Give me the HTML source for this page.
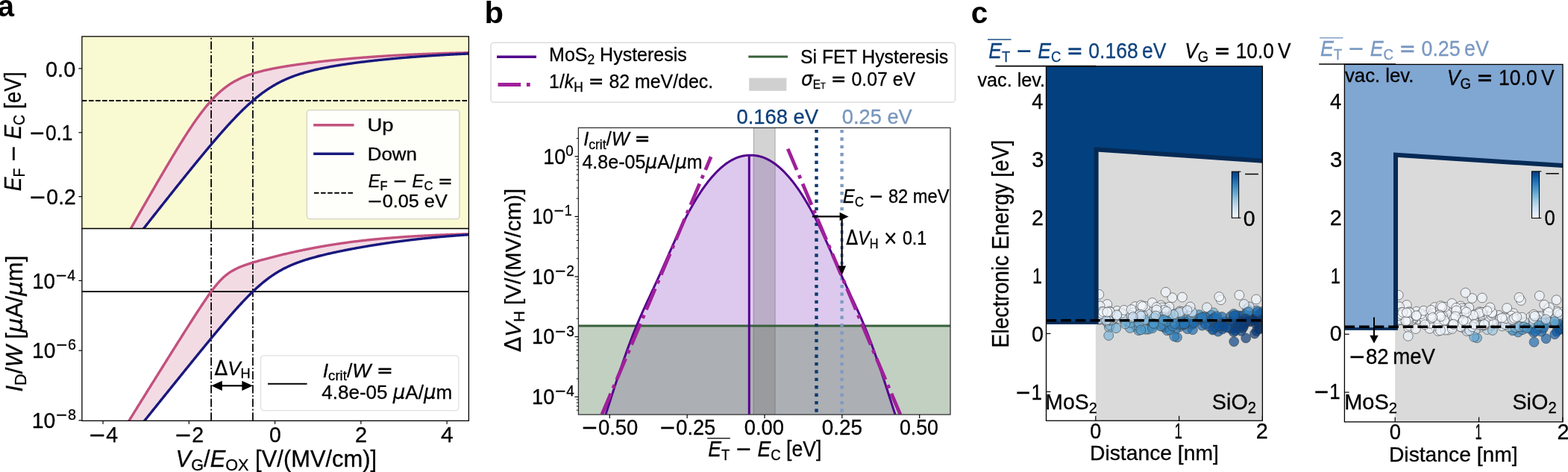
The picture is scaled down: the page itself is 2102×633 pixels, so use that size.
<!DOCTYPE html>
<html><head><meta charset="utf-8"><title>Figure</title>
<style>html,body{margin:0;padding:0;background:#fff;} svg{display:block;} text{font-family:'Liberation Sans', 'DejaVu Sans', Arial, sans-serif;}</style>
</head><body>
<svg width="2102" height="633" viewBox="0 0 2102 633">
<rect x="0" y="0" width="2102" height="633" fill="#fff"/>
<rect x="109.90" y="48.90" width="518.50" height="257.60" fill="#fafad2" stroke="none" stroke-width="0" rx="0"/>
<clipPath id="ca1"><rect x="109.9" y="48.9" width="518.5" height="257.6"/></clipPath>
<clipPath id="ca2"><rect x="109.9" y="306.5" width="518.5" height="257.79999999999995"/></clipPath>
<g clip-path="url(#ca1)">
<polygon points="150.00,351.14 150.97,349.43 151.93,347.73 152.90,346.03 153.86,344.33 154.83,342.62 155.80,340.92 156.76,339.22 157.73,337.52 158.69,335.82 159.66,334.12 160.63,332.42 161.59,330.72 162.56,329.02 163.52,327.32 164.49,325.62 165.45,323.92 166.42,322.22 167.39,320.53 168.35,318.83 169.32,317.13 170.28,315.43 171.25,313.74 172.22,312.04 173.18,310.34 174.15,308.65 175.11,306.95 176.08,305.26 177.05,303.56 178.01,301.87 178.98,300.18 179.94,298.48 180.91,296.79 181.88,295.10 182.84,293.41 183.81,291.72 184.77,290.03 185.74,288.34 186.71,286.65 187.67,284.96 188.64,283.27 189.60,281.58 190.57,279.90 191.54,278.21 192.50,276.53 193.47,274.84 194.43,273.16 195.40,271.48 196.36,269.80 197.33,268.12 198.30,266.44 199.26,264.76 200.23,263.08 201.19,261.41 202.16,259.73 203.13,258.06 204.09,256.38 205.06,254.71 206.02,253.04 206.99,251.37 207.96,249.71 208.92,248.04 209.89,246.38 210.85,244.71 211.82,243.05 212.79,241.39 213.75,239.74 214.72,238.08 215.68,236.43 216.65,234.78 217.62,233.13 218.58,231.48 219.55,229.83 220.51,228.19 221.48,226.55 222.44,224.91 223.41,223.28 224.38,221.65 225.34,220.02 226.31,218.39 227.27,216.77 228.24,215.15 229.21,213.53 230.17,211.92 231.14,210.31 232.10,208.71 233.07,207.11 234.04,205.51 235.00,203.92 235.97,202.33 236.93,200.74 237.90,199.16 238.87,197.59 239.83,196.02 240.80,194.46 241.76,192.90 242.73,191.35 243.70,189.80 244.66,188.26 245.63,186.73 246.59,185.20 247.56,183.68 248.53,182.17 249.49,180.66 250.46,179.17 251.42,177.68 252.39,176.19 253.35,174.72 254.32,173.26 255.29,171.80 256.25,170.35 257.22,168.91 258.18,167.49 259.15,166.07 260.12,164.66 261.08,163.27 262.05,161.88 263.01,160.51 263.98,159.14 264.95,157.79 265.91,156.45 266.88,155.13 267.84,153.81 268.81,152.51 269.78,151.23 270.74,149.95 271.71,148.69 272.67,147.45 273.64,146.22 274.61,145.00 275.57,143.80 276.54,142.61 277.50,141.44 278.47,140.29 279.43,139.15 280.40,138.02 281.37,136.92 282.33,135.83 283.30,134.75 284.26,133.69 285.23,132.65 286.20,131.63 287.16,130.62 288.13,129.63 289.09,128.66 290.06,127.71 291.03,126.77 291.99,125.85 292.96,124.94 293.92,124.06 294.89,123.19 295.86,122.34 296.82,121.50 297.79,120.69 298.75,119.89 299.72,119.10 300.69,118.34 301.65,117.58 302.62,116.85 303.58,116.13 304.55,115.43 305.52,114.74 306.48,114.07 307.45,113.42 308.41,112.78 309.38,112.15 310.34,111.54 311.31,110.94 312.28,110.36 313.24,109.79 314.21,109.23 315.17,108.69 316.14,108.16 317.11,107.64 318.07,107.14 319.04,106.65 320.00,106.16 320.97,105.70 321.94,105.24 322.90,104.79 323.87,104.35 324.83,103.92 325.80,103.51 326.77,103.10 327.73,102.70 328.70,102.31 329.66,101.93 330.63,101.56 331.60,101.20 332.56,100.85 333.53,100.50 334.49,100.16 335.46,99.83 336.42,99.50 337.39,99.19 338.36,98.87 339.32,98.57 340.29,98.27 341.25,97.98 342.22,97.69 343.19,97.41 344.15,97.14 345.12,96.86 346.08,96.60 347.05,96.34 348.02,96.08 348.98,95.83 349.95,95.59 350.91,95.34 351.88,95.10 352.85,94.87 353.81,94.64 354.78,94.41 355.74,94.19 356.71,93.97 357.68,93.75 358.64,93.54 359.61,93.33 360.57,93.12 361.54,92.92 362.51,92.72 363.47,92.52 364.44,92.32 365.40,92.13 366.37,91.94 367.33,91.75 368.30,91.57 369.27,91.38 370.23,91.20 371.20,91.02 372.16,90.84 373.13,90.67 374.10,90.49 375.06,90.32 376.03,90.15 376.99,89.98 377.96,89.82 378.93,89.65 379.89,89.49 380.86,89.33 381.82,89.17 382.79,89.01 383.76,88.85 384.72,88.70 385.69,88.54 386.65,88.39 387.62,88.24 388.59,88.09 389.55,87.94 390.52,87.79 391.48,87.65 392.45,87.50 393.41,87.36 394.38,87.21 395.35,87.07 396.31,86.93 397.28,86.79 398.24,86.65 399.21,86.51 400.18,86.38 401.14,86.24 402.11,86.11 403.07,85.97 404.04,85.84 405.01,85.71 405.97,85.58 406.94,85.45 407.90,85.32 408.87,85.19 409.84,85.06 410.80,84.93 411.77,84.81 412.73,84.68 413.70,84.56 414.67,84.43 415.63,84.31 416.60,84.19 417.56,84.07 418.53,83.95 419.49,83.83 420.46,83.71 421.43,83.59 422.39,83.48 423.36,83.36 424.32,83.24 425.29,83.13 426.26,83.01 427.22,82.90 428.19,82.79 429.15,82.68 430.12,82.56 431.09,82.45 432.05,82.34 433.02,82.23 433.98,82.13 434.95,82.02 435.92,81.91 436.88,81.80 437.85,81.70 438.81,81.59 439.78,81.49 440.75,81.38 441.71,81.28 442.68,81.18 443.64,81.08 444.61,80.98 445.58,80.87 446.54,80.77 447.51,80.68 448.47,80.58 449.44,80.48 450.40,80.38 451.37,80.28 452.34,80.19 453.30,80.09 454.27,80.00 455.23,79.90 456.20,79.81 457.17,79.72 458.13,79.62 459.10,79.53 460.06,79.44 461.03,79.35 462.00,79.26 462.96,79.17 463.93,79.08 464.89,78.99 465.86,78.90 466.83,78.82 467.79,78.73 468.76,78.64 469.72,78.56 470.69,78.47 471.66,78.39 472.62,78.31 473.59,78.22 474.55,78.14 475.52,78.06 476.48,77.98 477.45,77.90 478.42,77.82 479.38,77.74 480.35,77.66 481.31,77.58 482.28,77.50 483.25,77.42 484.21,77.35 485.18,77.27 486.14,77.19 487.11,77.12 488.08,77.04 489.04,76.97 490.01,76.90 490.97,76.82 491.94,76.75 492.91,76.68 493.87,76.61 494.84,76.54 495.80,76.47 496.77,76.40 497.74,76.33 498.70,76.26 499.67,76.19 500.63,76.12 501.60,76.05 502.57,75.99 503.53,75.92 504.50,75.85 505.46,75.79 506.43,75.72 507.39,75.66 508.36,75.59 509.33,75.53 510.29,75.47 511.26,75.41 512.22,75.34 513.19,75.28 514.16,75.22 515.12,75.16 516.09,75.10 517.05,75.04 518.02,74.98 518.99,74.92 519.95,74.86 520.92,74.81 521.88,74.75 522.85,74.69 523.82,74.64 524.78,74.58 525.75,74.52 526.71,74.47 527.68,74.41 528.65,74.36 529.61,74.31 530.58,74.25 531.54,74.20 532.51,74.15 533.47,74.10 534.44,74.04 535.41,73.99 536.37,73.94 537.34,73.89 538.30,73.84 539.27,73.79 540.24,73.74 541.20,73.69 542.17,73.65 543.13,73.60 544.10,73.55 545.07,73.50 546.03,73.46 547.00,73.41 547.96,73.36 548.93,73.32 549.90,73.27 550.86,73.23 551.83,73.18 552.79,73.14 553.76,73.10 554.73,73.05 555.69,73.01 556.66,72.97 557.62,72.93 558.59,72.88 559.56,72.84 560.52,72.80 561.49,72.76 562.45,72.72 563.42,72.68 564.38,72.64 565.35,72.60 566.32,72.56 567.28,72.52 568.25,72.49 569.21,72.45 570.18,72.41 571.15,72.37 572.11,72.34 573.08,72.30 574.04,72.26 575.01,72.23 575.98,72.19 576.94,72.16 577.91,72.12 578.87,72.09 579.84,72.05 580.81,72.02 581.77,71.98 582.74,71.95 583.70,71.92 584.67,71.88 585.64,71.85 586.60,71.82 587.57,71.79 588.53,71.75 589.50,71.72 590.46,71.69 591.43,71.66 592.40,71.63 593.36,71.60 594.33,71.57 595.29,71.54 596.26,71.51 597.23,71.48 598.19,71.45 599.16,71.42 600.12,71.40 601.09,71.37 602.06,71.34 603.02,71.31 603.99,71.28 604.95,71.26 605.92,71.23 606.89,71.20 607.85,71.18 608.82,71.15 609.78,71.13 610.75,71.10 611.72,71.07 612.68,71.05 613.65,71.02 614.61,71.00 615.58,70.98 616.55,70.95 617.51,70.93 618.48,70.90 619.44,70.88 620.41,70.86 621.37,70.83 622.34,70.81 623.31,70.79 624.27,70.77 625.24,70.74 626.20,70.72 627.17,70.70 628.14,70.68 629.10,70.66 630.07,70.63 631.03,70.61 632.00,70.59 632.00,71.81 631.03,71.85 630.07,71.89 629.10,71.94 628.14,71.98 627.17,72.02 626.20,72.07 625.24,72.11 624.27,72.15 623.31,72.20 622.34,72.24 621.37,72.29 620.41,72.33 619.44,72.38 618.48,72.42 617.51,72.47 616.55,72.52 615.58,72.56 614.61,72.61 613.65,72.66 612.68,72.71 611.72,72.76 610.75,72.81 609.78,72.85 608.82,72.90 607.85,72.95 606.89,73.00 605.92,73.06 604.95,73.11 603.99,73.16 603.02,73.21 602.06,73.26 601.09,73.31 600.12,73.37 599.16,73.42 598.19,73.47 597.23,73.53 596.26,73.58 595.29,73.64 594.33,73.69 593.36,73.75 592.40,73.81 591.43,73.86 590.46,73.92 589.50,73.98 588.53,74.03 587.57,74.09 586.60,74.15 585.64,74.21 584.67,74.27 583.70,74.33 582.74,74.39 581.77,74.45 580.81,74.51 579.84,74.57 578.87,74.64 577.91,74.70 576.94,74.76 575.98,74.82 575.01,74.89 574.04,74.95 573.08,75.02 572.11,75.08 571.15,75.15 570.18,75.21 569.21,75.28 568.25,75.35 567.28,75.42 566.32,75.48 565.35,75.55 564.38,75.62 563.42,75.69 562.45,75.76 561.49,75.83 560.52,75.90 559.56,75.97 558.59,76.04 557.62,76.12 556.66,76.19 555.69,76.26 554.73,76.34 553.76,76.41 552.79,76.49 551.83,76.56 550.86,76.64 549.90,76.71 548.93,76.79 547.96,76.87 547.00,76.95 546.03,77.02 545.07,77.10 544.10,77.18 543.13,77.26 542.17,77.34 541.20,77.42 540.24,77.51 539.27,77.59 538.30,77.67 537.34,77.75 536.37,77.84 535.41,77.92 534.44,78.01 533.47,78.09 532.51,78.18 531.54,78.26 530.58,78.35 529.61,78.44 528.65,78.53 527.68,78.62 526.71,78.71 525.75,78.80 524.78,78.89 523.82,78.98 522.85,79.07 521.88,79.16 520.92,79.26 519.95,79.35 518.99,79.45 518.02,79.54 517.05,79.64 516.09,79.73 515.12,79.83 514.16,79.93 513.19,80.03 512.22,80.12 511.26,80.22 510.29,80.32 509.33,80.42 508.36,80.53 507.39,80.63 506.43,80.73 505.46,80.84 504.50,80.94 503.53,81.04 502.57,81.15 501.60,81.26 500.63,81.36 499.67,81.47 498.70,81.58 497.74,81.69 496.77,81.80 495.80,81.91 494.84,82.02 493.87,82.13 492.91,82.25 491.94,82.36 490.97,82.48 490.01,82.59 489.04,82.71 488.08,82.83 487.11,82.94 486.14,83.06 485.18,83.18 484.21,83.30 483.25,83.43 482.28,83.55 481.31,83.67 480.35,83.80 479.38,83.92 478.42,84.05 477.45,84.17 476.48,84.30 475.52,84.43 474.55,84.56 473.59,84.69 472.62,84.82 471.66,84.96 470.69,85.09 469.72,85.23 468.76,85.36 467.79,85.50 466.83,85.64 465.86,85.78 464.89,85.92 463.93,86.06 462.96,86.20 462.00,86.35 461.03,86.49 460.06,86.64 459.10,86.79 458.13,86.94 457.17,87.09 456.20,87.24 455.23,87.39 454.27,87.55 453.30,87.70 452.34,87.86 451.37,88.02 450.40,88.18 449.44,88.34 448.47,88.51 447.51,88.67 446.54,88.84 445.58,89.01 444.61,89.18 443.64,89.35 442.68,89.53 441.71,89.70 440.75,89.88 439.78,90.06 438.81,90.24 437.85,90.43 436.88,90.61 435.92,90.80 434.95,90.99 433.98,91.19 433.02,91.38 432.05,91.58 431.09,91.78 430.12,91.98 429.15,92.18 428.19,92.39 427.22,92.60 426.26,92.81 425.29,93.03 424.32,93.25 423.36,93.47 422.39,93.69 421.43,93.92 420.46,94.15 419.49,94.38 418.53,94.62 417.56,94.86 416.60,95.10 415.63,95.35 414.67,95.60 413.70,95.86 412.73,96.11 411.77,96.38 410.80,96.64 409.84,96.91 408.87,97.19 407.90,97.46 406.94,97.75 405.97,98.03 405.01,98.33 404.04,98.62 403.07,98.92 402.11,99.23 401.14,99.54 400.18,99.86 399.21,100.18 398.24,100.51 397.28,100.84 396.31,101.18 395.35,101.52 394.38,101.87 393.41,102.23 392.45,102.59 391.48,102.96 390.52,103.33 389.55,103.71 388.59,104.10 387.62,104.49 386.65,104.89 385.69,105.30 384.72,105.71 383.76,106.13 382.79,106.56 381.82,107.00 380.86,107.44 379.89,107.89 378.93,108.35 377.96,108.82 376.99,109.29 376.03,109.77 375.06,110.26 374.10,110.76 373.13,111.27 372.16,111.78 371.20,112.31 370.23,112.84 369.27,113.38 368.30,113.93 367.33,114.49 366.37,115.06 365.40,115.64 364.44,116.22 363.47,116.82 362.51,117.42 361.54,118.03 360.57,118.65 359.61,119.29 358.64,119.93 357.68,120.58 356.71,121.24 355.74,121.90 354.78,122.58 353.81,123.27 352.85,123.96 351.88,124.67 350.91,125.39 349.95,126.11 348.98,126.84 348.02,127.59 347.05,128.34 346.08,129.10 345.12,129.87 344.15,130.65 343.19,131.44 342.22,132.23 341.25,133.04 340.29,133.86 339.32,134.68 338.36,135.51 337.39,136.35 336.42,137.20 335.46,138.06 334.49,138.92 333.53,139.80 332.56,140.68 331.60,141.57 330.63,142.47 329.66,143.37 328.70,144.28 327.73,145.21 326.77,146.13 325.80,147.07 324.83,148.01 323.87,148.96 322.90,149.92 321.94,150.88 320.97,151.85 320.00,152.82 319.04,153.81 318.07,154.80 317.11,155.79 316.14,156.79 315.17,157.80 314.21,158.81 313.24,159.83 312.28,160.85 311.31,161.88 310.34,162.92 309.38,163.96 308.41,165.00 307.45,166.05 306.48,167.11 305.52,168.17 304.55,169.23 303.58,170.30 302.62,171.37 301.65,172.45 300.69,173.53 299.72,174.62 298.75,175.71 297.79,176.80 296.82,177.90 295.86,179.00 294.89,180.10 293.92,181.21 292.96,182.32 291.99,183.44 291.03,184.56 290.06,185.68 289.09,186.80 288.13,187.93 287.16,189.06 286.20,190.19 285.23,191.33 284.26,192.47 283.30,193.61 282.33,194.75 281.37,195.90 280.40,197.04 279.43,198.20 278.47,199.35 277.50,200.50 276.54,201.66 275.57,202.82 274.61,203.98 273.64,205.14 272.67,206.31 271.71,207.48 270.74,208.65 269.78,209.82 268.81,210.99 267.84,212.16 266.88,213.34 265.91,214.52 264.95,215.69 263.98,216.87 263.01,218.06 262.05,219.24 261.08,220.42 260.12,221.61 259.15,222.80 258.18,223.98 257.22,225.17 256.25,226.37 255.29,227.56 254.32,228.75 253.35,229.94 252.39,231.14 251.42,232.34 250.46,233.53 249.49,234.73 248.53,235.93 247.56,237.13 246.59,238.33 245.63,239.53 244.66,240.74 243.70,241.94 242.73,243.14 241.76,244.35 240.80,245.56 239.83,246.76 238.87,247.97 237.90,249.18 236.93,250.39 235.97,251.60 235.00,252.81 234.04,254.02 233.07,255.23 232.10,256.44 231.14,257.66 230.17,258.87 229.21,260.08 228.24,261.30 227.27,262.51 226.31,263.73 225.34,264.95 224.38,266.16 223.41,267.38 222.44,268.60 221.48,269.82 220.51,271.04 219.55,272.25 218.58,273.47 217.62,274.69 216.65,275.91 215.68,277.14 214.72,278.36 213.75,279.58 212.79,280.80 211.82,282.02 210.85,283.25 209.89,284.47 208.92,285.69 207.96,286.92 206.99,288.14 206.02,289.37 205.06,290.59 204.09,291.82 203.13,293.05 202.16,294.27 201.19,295.50 200.23,296.72 199.26,297.95 198.30,299.18 197.33,300.41 196.36,301.64 195.40,302.86 194.43,304.09 193.47,305.32 192.50,306.55 191.54,307.78 190.57,309.01 189.60,310.24 188.64,311.47 187.67,312.70 186.71,313.93 185.74,315.16 184.77,316.39 183.81,317.62 182.84,318.86 181.88,320.09 180.91,321.32 179.94,322.55 178.98,323.79 178.01,325.02 177.05,326.25 176.08,327.48 175.11,328.72 174.15,329.95 173.18,331.19 172.22,332.42 171.25,333.65 170.28,334.89 169.32,336.12 168.35,337.36 167.39,338.59 166.42,339.83 165.45,341.06 164.49,342.30 163.52,343.53 162.56,344.77 161.59,346.01 160.63,347.24 159.66,348.48 158.69,349.72 157.73,350.95 156.76,352.19 155.80,353.43 154.83,354.66 153.86,355.90 152.90,357.14 151.93,358.38 150.97,359.61 150.00,360.85" fill="#f3dbe4"/>
<line x1="109.90" y1="135.00" x2="628.40" y2="135.00" stroke="#000" stroke-width="1.9" stroke-linecap="butt" stroke-dasharray="6.5 2.6"/>
<line x1="283.10" y1="306.50" x2="283.10" y2="48.90" stroke="#000" stroke-width="1.75" stroke-linecap="butt" stroke-dasharray="11.1 2.78 1.8 2.78"/>
<line x1="338.95" y1="306.50" x2="338.95" y2="48.90" stroke="#000" stroke-width="1.75" stroke-linecap="butt" stroke-dasharray="11.1 2.78 1.8 2.78"/>
<polyline points="150.00,351.14 150.97,349.43 151.93,347.73 152.90,346.03 153.86,344.33 154.83,342.62 155.80,340.92 156.76,339.22 157.73,337.52 158.69,335.82 159.66,334.12 160.63,332.42 161.59,330.72 162.56,329.02 163.52,327.32 164.49,325.62 165.45,323.92 166.42,322.22 167.39,320.53 168.35,318.83 169.32,317.13 170.28,315.43 171.25,313.74 172.22,312.04 173.18,310.34 174.15,308.65 175.11,306.95 176.08,305.26 177.05,303.56 178.01,301.87 178.98,300.18 179.94,298.48 180.91,296.79 181.88,295.10 182.84,293.41 183.81,291.72 184.77,290.03 185.74,288.34 186.71,286.65 187.67,284.96 188.64,283.27 189.60,281.58 190.57,279.90 191.54,278.21 192.50,276.53 193.47,274.84 194.43,273.16 195.40,271.48 196.36,269.80 197.33,268.12 198.30,266.44 199.26,264.76 200.23,263.08 201.19,261.41 202.16,259.73 203.13,258.06 204.09,256.38 205.06,254.71 206.02,253.04 206.99,251.37 207.96,249.71 208.92,248.04 209.89,246.38 210.85,244.71 211.82,243.05 212.79,241.39 213.75,239.74 214.72,238.08 215.68,236.43 216.65,234.78 217.62,233.13 218.58,231.48 219.55,229.83 220.51,228.19 221.48,226.55 222.44,224.91 223.41,223.28 224.38,221.65 225.34,220.02 226.31,218.39 227.27,216.77 228.24,215.15 229.21,213.53 230.17,211.92 231.14,210.31 232.10,208.71 233.07,207.11 234.04,205.51 235.00,203.92 235.97,202.33 236.93,200.74 237.90,199.16 238.87,197.59 239.83,196.02 240.80,194.46 241.76,192.90 242.73,191.35 243.70,189.80 244.66,188.26 245.63,186.73 246.59,185.20 247.56,183.68 248.53,182.17 249.49,180.66 250.46,179.17 251.42,177.68 252.39,176.19 253.35,174.72 254.32,173.26 255.29,171.80 256.25,170.35 257.22,168.91 258.18,167.49 259.15,166.07 260.12,164.66 261.08,163.27 262.05,161.88 263.01,160.51 263.98,159.14 264.95,157.79 265.91,156.45 266.88,155.13 267.84,153.81 268.81,152.51 269.78,151.23 270.74,149.95 271.71,148.69 272.67,147.45 273.64,146.22 274.61,145.00 275.57,143.80 276.54,142.61 277.50,141.44 278.47,140.29 279.43,139.15 280.40,138.02 281.37,136.92 282.33,135.83 283.30,134.75 284.26,133.69 285.23,132.65 286.20,131.63 287.16,130.62 288.13,129.63 289.09,128.66 290.06,127.71 291.03,126.77 291.99,125.85 292.96,124.94 293.92,124.06 294.89,123.19 295.86,122.34 296.82,121.50 297.79,120.69 298.75,119.89 299.72,119.10 300.69,118.34 301.65,117.58 302.62,116.85 303.58,116.13 304.55,115.43 305.52,114.74 306.48,114.07 307.45,113.42 308.41,112.78 309.38,112.15 310.34,111.54 311.31,110.94 312.28,110.36 313.24,109.79 314.21,109.23 315.17,108.69 316.14,108.16 317.11,107.64 318.07,107.14 319.04,106.65 320.00,106.16 320.97,105.70 321.94,105.24 322.90,104.79 323.87,104.35 324.83,103.92 325.80,103.51 326.77,103.10 327.73,102.70 328.70,102.31 329.66,101.93 330.63,101.56 331.60,101.20 332.56,100.85 333.53,100.50 334.49,100.16 335.46,99.83 336.42,99.50 337.39,99.19 338.36,98.87 339.32,98.57 340.29,98.27 341.25,97.98 342.22,97.69 343.19,97.41 344.15,97.14 345.12,96.86 346.08,96.60 347.05,96.34 348.02,96.08 348.98,95.83 349.95,95.59 350.91,95.34 351.88,95.10 352.85,94.87 353.81,94.64 354.78,94.41 355.74,94.19 356.71,93.97 357.68,93.75 358.64,93.54 359.61,93.33 360.57,93.12 361.54,92.92 362.51,92.72 363.47,92.52 364.44,92.32 365.40,92.13 366.37,91.94 367.33,91.75 368.30,91.57 369.27,91.38 370.23,91.20 371.20,91.02 372.16,90.84 373.13,90.67 374.10,90.49 375.06,90.32 376.03,90.15 376.99,89.98 377.96,89.82 378.93,89.65 379.89,89.49 380.86,89.33 381.82,89.17 382.79,89.01 383.76,88.85 384.72,88.70 385.69,88.54 386.65,88.39 387.62,88.24 388.59,88.09 389.55,87.94 390.52,87.79 391.48,87.65 392.45,87.50 393.41,87.36 394.38,87.21 395.35,87.07 396.31,86.93 397.28,86.79 398.24,86.65 399.21,86.51 400.18,86.38 401.14,86.24 402.11,86.11 403.07,85.97 404.04,85.84 405.01,85.71 405.97,85.58 406.94,85.45 407.90,85.32 408.87,85.19 409.84,85.06 410.80,84.93 411.77,84.81 412.73,84.68 413.70,84.56 414.67,84.43 415.63,84.31 416.60,84.19 417.56,84.07 418.53,83.95 419.49,83.83 420.46,83.71 421.43,83.59 422.39,83.48 423.36,83.36 424.32,83.24 425.29,83.13 426.26,83.01 427.22,82.90 428.19,82.79 429.15,82.68 430.12,82.56 431.09,82.45 432.05,82.34 433.02,82.23 433.98,82.13 434.95,82.02 435.92,81.91 436.88,81.80 437.85,81.70 438.81,81.59 439.78,81.49 440.75,81.38 441.71,81.28 442.68,81.18 443.64,81.08 444.61,80.98 445.58,80.87 446.54,80.77 447.51,80.68 448.47,80.58 449.44,80.48 450.40,80.38 451.37,80.28 452.34,80.19 453.30,80.09 454.27,80.00 455.23,79.90 456.20,79.81 457.17,79.72 458.13,79.62 459.10,79.53 460.06,79.44 461.03,79.35 462.00,79.26 462.96,79.17 463.93,79.08 464.89,78.99 465.86,78.90 466.83,78.82 467.79,78.73 468.76,78.64 469.72,78.56 470.69,78.47 471.66,78.39 472.62,78.31 473.59,78.22 474.55,78.14 475.52,78.06 476.48,77.98 477.45,77.90 478.42,77.82 479.38,77.74 480.35,77.66 481.31,77.58 482.28,77.50 483.25,77.42 484.21,77.35 485.18,77.27 486.14,77.19 487.11,77.12 488.08,77.04 489.04,76.97 490.01,76.90 490.97,76.82 491.94,76.75 492.91,76.68 493.87,76.61 494.84,76.54 495.80,76.47 496.77,76.40 497.74,76.33 498.70,76.26 499.67,76.19 500.63,76.12 501.60,76.05 502.57,75.99 503.53,75.92 504.50,75.85 505.46,75.79 506.43,75.72 507.39,75.66 508.36,75.59 509.33,75.53 510.29,75.47 511.26,75.41 512.22,75.34 513.19,75.28 514.16,75.22 515.12,75.16 516.09,75.10 517.05,75.04 518.02,74.98 518.99,74.92 519.95,74.86 520.92,74.81 521.88,74.75 522.85,74.69 523.82,74.64 524.78,74.58 525.75,74.52 526.71,74.47 527.68,74.41 528.65,74.36 529.61,74.31 530.58,74.25 531.54,74.20 532.51,74.15 533.47,74.10 534.44,74.04 535.41,73.99 536.37,73.94 537.34,73.89 538.30,73.84 539.27,73.79 540.24,73.74 541.20,73.69 542.17,73.65 543.13,73.60 544.10,73.55 545.07,73.50 546.03,73.46 547.00,73.41 547.96,73.36 548.93,73.32 549.90,73.27 550.86,73.23 551.83,73.18 552.79,73.14 553.76,73.10 554.73,73.05 555.69,73.01 556.66,72.97 557.62,72.93 558.59,72.88 559.56,72.84 560.52,72.80 561.49,72.76 562.45,72.72 563.42,72.68 564.38,72.64 565.35,72.60 566.32,72.56 567.28,72.52 568.25,72.49 569.21,72.45 570.18,72.41 571.15,72.37 572.11,72.34 573.08,72.30 574.04,72.26 575.01,72.23 575.98,72.19 576.94,72.16 577.91,72.12 578.87,72.09 579.84,72.05 580.81,72.02 581.77,71.98 582.74,71.95 583.70,71.92 584.67,71.88 585.64,71.85 586.60,71.82 587.57,71.79 588.53,71.75 589.50,71.72 590.46,71.69 591.43,71.66 592.40,71.63 593.36,71.60 594.33,71.57 595.29,71.54 596.26,71.51 597.23,71.48 598.19,71.45 599.16,71.42 600.12,71.40 601.09,71.37 602.06,71.34 603.02,71.31 603.99,71.28 604.95,71.26 605.92,71.23 606.89,71.20 607.85,71.18 608.82,71.15 609.78,71.13 610.75,71.10 611.72,71.07 612.68,71.05 613.65,71.02 614.61,71.00 615.58,70.98 616.55,70.95 617.51,70.93 618.48,70.90 619.44,70.88 620.41,70.86 621.37,70.83 622.34,70.81 623.31,70.79 624.27,70.77 625.24,70.74 626.20,70.72 627.17,70.70 628.14,70.68 629.10,70.66 630.07,70.63 631.03,70.61 632.00,70.59" fill="none" stroke="#c2517e" stroke-width="3.4" stroke-linejoin="round" stroke-linecap="butt"/>
<polyline points="150.00,360.85 150.97,359.61 151.93,358.38 152.90,357.14 153.86,355.90 154.83,354.66 155.80,353.43 156.76,352.19 157.73,350.95 158.69,349.72 159.66,348.48 160.63,347.24 161.59,346.01 162.56,344.77 163.52,343.53 164.49,342.30 165.45,341.06 166.42,339.83 167.39,338.59 168.35,337.36 169.32,336.12 170.28,334.89 171.25,333.65 172.22,332.42 173.18,331.19 174.15,329.95 175.11,328.72 176.08,327.48 177.05,326.25 178.01,325.02 178.98,323.79 179.94,322.55 180.91,321.32 181.88,320.09 182.84,318.86 183.81,317.62 184.77,316.39 185.74,315.16 186.71,313.93 187.67,312.70 188.64,311.47 189.60,310.24 190.57,309.01 191.54,307.78 192.50,306.55 193.47,305.32 194.43,304.09 195.40,302.86 196.36,301.64 197.33,300.41 198.30,299.18 199.26,297.95 200.23,296.72 201.19,295.50 202.16,294.27 203.13,293.05 204.09,291.82 205.06,290.59 206.02,289.37 206.99,288.14 207.96,286.92 208.92,285.69 209.89,284.47 210.85,283.25 211.82,282.02 212.79,280.80 213.75,279.58 214.72,278.36 215.68,277.14 216.65,275.91 217.62,274.69 218.58,273.47 219.55,272.25 220.51,271.04 221.48,269.82 222.44,268.60 223.41,267.38 224.38,266.16 225.34,264.95 226.31,263.73 227.27,262.51 228.24,261.30 229.21,260.08 230.17,258.87 231.14,257.66 232.10,256.44 233.07,255.23 234.04,254.02 235.00,252.81 235.97,251.60 236.93,250.39 237.90,249.18 238.87,247.97 239.83,246.76 240.80,245.56 241.76,244.35 242.73,243.14 243.70,241.94 244.66,240.74 245.63,239.53 246.59,238.33 247.56,237.13 248.53,235.93 249.49,234.73 250.46,233.53 251.42,232.34 252.39,231.14 253.35,229.94 254.32,228.75 255.29,227.56 256.25,226.37 257.22,225.17 258.18,223.98 259.15,222.80 260.12,221.61 261.08,220.42 262.05,219.24 263.01,218.06 263.98,216.87 264.95,215.69 265.91,214.52 266.88,213.34 267.84,212.16 268.81,210.99 269.78,209.82 270.74,208.65 271.71,207.48 272.67,206.31 273.64,205.14 274.61,203.98 275.57,202.82 276.54,201.66 277.50,200.50 278.47,199.35 279.43,198.20 280.40,197.04 281.37,195.90 282.33,194.75 283.30,193.61 284.26,192.47 285.23,191.33 286.20,190.19 287.16,189.06 288.13,187.93 289.09,186.80 290.06,185.68 291.03,184.56 291.99,183.44 292.96,182.32 293.92,181.21 294.89,180.10 295.86,179.00 296.82,177.90 297.79,176.80 298.75,175.71 299.72,174.62 300.69,173.53 301.65,172.45 302.62,171.37 303.58,170.30 304.55,169.23 305.52,168.17 306.48,167.11 307.45,166.05 308.41,165.00 309.38,163.96 310.34,162.92 311.31,161.88 312.28,160.85 313.24,159.83 314.21,158.81 315.17,157.80 316.14,156.79 317.11,155.79 318.07,154.80 319.04,153.81 320.00,152.82 320.97,151.85 321.94,150.88 322.90,149.92 323.87,148.96 324.83,148.01 325.80,147.07 326.77,146.13 327.73,145.21 328.70,144.28 329.66,143.37 330.63,142.47 331.60,141.57 332.56,140.68 333.53,139.80 334.49,138.92 335.46,138.06 336.42,137.20 337.39,136.35 338.36,135.51 339.32,134.68 340.29,133.86 341.25,133.04 342.22,132.23 343.19,131.44 344.15,130.65 345.12,129.87 346.08,129.10 347.05,128.34 348.02,127.59 348.98,126.84 349.95,126.11 350.91,125.39 351.88,124.67 352.85,123.96 353.81,123.27 354.78,122.58 355.74,121.90 356.71,121.24 357.68,120.58 358.64,119.93 359.61,119.29 360.57,118.65 361.54,118.03 362.51,117.42 363.47,116.82 364.44,116.22 365.40,115.64 366.37,115.06 367.33,114.49 368.30,113.93 369.27,113.38 370.23,112.84 371.20,112.31 372.16,111.78 373.13,111.27 374.10,110.76 375.06,110.26 376.03,109.77 376.99,109.29 377.96,108.82 378.93,108.35 379.89,107.89 380.86,107.44 381.82,107.00 382.79,106.56 383.76,106.13 384.72,105.71 385.69,105.30 386.65,104.89 387.62,104.49 388.59,104.10 389.55,103.71 390.52,103.33 391.48,102.96 392.45,102.59 393.41,102.23 394.38,101.87 395.35,101.52 396.31,101.18 397.28,100.84 398.24,100.51 399.21,100.18 400.18,99.86 401.14,99.54 402.11,99.23 403.07,98.92 404.04,98.62 405.01,98.33 405.97,98.03 406.94,97.75 407.90,97.46 408.87,97.19 409.84,96.91 410.80,96.64 411.77,96.38 412.73,96.11 413.70,95.86 414.67,95.60 415.63,95.35 416.60,95.10 417.56,94.86 418.53,94.62 419.49,94.38 420.46,94.15 421.43,93.92 422.39,93.69 423.36,93.47 424.32,93.25 425.29,93.03 426.26,92.81 427.22,92.60 428.19,92.39 429.15,92.18 430.12,91.98 431.09,91.78 432.05,91.58 433.02,91.38 433.98,91.19 434.95,90.99 435.92,90.80 436.88,90.61 437.85,90.43 438.81,90.24 439.78,90.06 440.75,89.88 441.71,89.70 442.68,89.53 443.64,89.35 444.61,89.18 445.58,89.01 446.54,88.84 447.51,88.67 448.47,88.51 449.44,88.34 450.40,88.18 451.37,88.02 452.34,87.86 453.30,87.70 454.27,87.55 455.23,87.39 456.20,87.24 457.17,87.09 458.13,86.94 459.10,86.79 460.06,86.64 461.03,86.49 462.00,86.35 462.96,86.20 463.93,86.06 464.89,85.92 465.86,85.78 466.83,85.64 467.79,85.50 468.76,85.36 469.72,85.23 470.69,85.09 471.66,84.96 472.62,84.82 473.59,84.69 474.55,84.56 475.52,84.43 476.48,84.30 477.45,84.17 478.42,84.05 479.38,83.92 480.35,83.80 481.31,83.67 482.28,83.55 483.25,83.43 484.21,83.30 485.18,83.18 486.14,83.06 487.11,82.94 488.08,82.83 489.04,82.71 490.01,82.59 490.97,82.48 491.94,82.36 492.91,82.25 493.87,82.13 494.84,82.02 495.80,81.91 496.77,81.80 497.74,81.69 498.70,81.58 499.67,81.47 500.63,81.36 501.60,81.26 502.57,81.15 503.53,81.04 504.50,80.94 505.46,80.84 506.43,80.73 507.39,80.63 508.36,80.53 509.33,80.42 510.29,80.32 511.26,80.22 512.22,80.12 513.19,80.03 514.16,79.93 515.12,79.83 516.09,79.73 517.05,79.64 518.02,79.54 518.99,79.45 519.95,79.35 520.92,79.26 521.88,79.16 522.85,79.07 523.82,78.98 524.78,78.89 525.75,78.80 526.71,78.71 527.68,78.62 528.65,78.53 529.61,78.44 530.58,78.35 531.54,78.26 532.51,78.18 533.47,78.09 534.44,78.01 535.41,77.92 536.37,77.84 537.34,77.75 538.30,77.67 539.27,77.59 540.24,77.51 541.20,77.42 542.17,77.34 543.13,77.26 544.10,77.18 545.07,77.10 546.03,77.02 547.00,76.95 547.96,76.87 548.93,76.79 549.90,76.71 550.86,76.64 551.83,76.56 552.79,76.49 553.76,76.41 554.73,76.34 555.69,76.26 556.66,76.19 557.62,76.12 558.59,76.04 559.56,75.97 560.52,75.90 561.49,75.83 562.45,75.76 563.42,75.69 564.38,75.62 565.35,75.55 566.32,75.48 567.28,75.42 568.25,75.35 569.21,75.28 570.18,75.21 571.15,75.15 572.11,75.08 573.08,75.02 574.04,74.95 575.01,74.89 575.98,74.82 576.94,74.76 577.91,74.70 578.87,74.64 579.84,74.57 580.81,74.51 581.77,74.45 582.74,74.39 583.70,74.33 584.67,74.27 585.64,74.21 586.60,74.15 587.57,74.09 588.53,74.03 589.50,73.98 590.46,73.92 591.43,73.86 592.40,73.81 593.36,73.75 594.33,73.69 595.29,73.64 596.26,73.58 597.23,73.53 598.19,73.47 599.16,73.42 600.12,73.37 601.09,73.31 602.06,73.26 603.02,73.21 603.99,73.16 604.95,73.11 605.92,73.06 606.89,73.00 607.85,72.95 608.82,72.90 609.78,72.85 610.75,72.81 611.72,72.76 612.68,72.71 613.65,72.66 614.61,72.61 615.58,72.56 616.55,72.52 617.51,72.47 618.48,72.42 619.44,72.38 620.41,72.33 621.37,72.29 622.34,72.24 623.31,72.20 624.27,72.15 625.24,72.11 626.20,72.07 627.17,72.02 628.14,71.98 629.10,71.94 630.07,71.89 631.03,71.85 632.00,71.81" fill="none" stroke="#18187e" stroke-width="3.4" stroke-linejoin="round" stroke-linecap="butt"/>
</g>
<rect x="411.40" y="147.60" width="204.60" height="146.00" fill="#fefefa" stroke="#d2d2c6" stroke-width="1.3" rx="4"/>
<line x1="420.20" y1="167.80" x2="474.50" y2="167.80" stroke="#c2517e" stroke-width="3.4" stroke-linecap="butt"/>
<line x1="420.20" y1="206.20" x2="474.50" y2="206.20" stroke="#18187e" stroke-width="3.4" stroke-linecap="butt"/>
<line x1="421.00" y1="258.80" x2="474.00" y2="258.80" stroke="#000" stroke-width="1.9" stroke-linecap="butt" stroke-dasharray="6.5 2.6"/>
<text x="0" y="0" font-size="24.3" fill="#000" stroke="#000" stroke-width="0.3" transform="translate(492.54 175.60) scale(1.1286 1)"><tspan>Up</tspan></text>
<text x="0" y="0" font-size="24.3" fill="#000" stroke="#000" stroke-width="0.3" transform="translate(492.67 214.60) scale(1.0672 1)"><tspan>Down</tspan></text>
<text x="0" y="0" font-size="24.3" fill="#000" stroke="#000" stroke-width="0.3" transform="translate(493.83 251.00) scale(0.9726 1)"><tspan font-style="italic">E</tspan><tspan dy="4.13" font-size="17.01">F</tspan><tspan dy="-4.13"> </tspan><tspan font-family="'DejaVu Sans', sans-serif">−</tspan><tspan> </tspan><tspan font-style="italic">E</tspan><tspan dy="4.13" font-size="17.01">C</tspan><tspan dy="-4.13"> </tspan><tspan font-family="'DejaVu Sans', sans-serif">=</tspan></text>
<text x="0" y="0" font-size="24.3" fill="#000" stroke="#000" stroke-width="0.3" transform="translate(491.69 277.60) scale(1.0376 1)"><tspan font-family="'DejaVu Sans', sans-serif">−</tspan><tspan>0.05 eV</tspan></text>
<g clip-path="url(#ca2)">
<polygon points="150.00,601.32 150.97,599.76 151.93,598.20 152.90,596.63 153.86,595.07 154.83,593.51 155.80,591.95 156.76,590.39 157.73,588.83 158.69,587.27 159.66,585.71 160.63,584.15 161.59,582.58 162.56,581.02 163.52,579.47 164.49,577.91 165.45,576.35 166.42,574.79 167.39,573.23 168.35,571.67 169.32,570.11 170.28,568.55 171.25,566.99 172.22,565.44 173.18,563.88 174.15,562.32 175.11,560.76 176.08,559.21 177.05,557.65 178.01,556.09 178.98,554.54 179.94,552.98 180.91,551.43 181.88,549.87 182.84,548.32 183.81,546.76 184.77,545.21 185.74,543.65 186.71,542.10 187.67,540.54 188.64,538.99 189.60,537.44 190.57,535.88 191.54,534.33 192.50,532.78 193.47,531.23 194.43,529.67 195.40,528.12 196.36,526.57 197.33,525.02 198.30,523.47 199.26,521.92 200.23,520.37 201.19,518.82 202.16,517.27 203.13,515.72 204.09,514.17 205.06,512.62 206.02,511.08 206.99,509.53 207.96,507.98 208.92,506.43 209.89,504.89 210.85,503.34 211.82,501.79 212.79,500.25 213.75,498.70 214.72,497.16 215.68,495.61 216.65,494.07 217.62,492.53 218.58,490.98 219.55,489.44 220.51,487.90 221.48,486.36 222.44,484.81 223.41,483.27 224.38,481.73 225.34,480.19 226.31,478.65 227.27,477.11 228.24,475.57 229.21,474.03 230.17,472.50 231.14,470.96 232.10,469.42 233.07,467.89 234.04,466.35 235.00,464.82 235.97,463.28 236.93,461.75 237.90,460.21 238.87,458.68 239.83,457.15 240.80,455.62 241.76,454.09 242.73,452.56 243.70,451.03 244.66,449.50 245.63,447.98 246.59,446.45 247.56,444.93 248.53,443.40 249.49,441.88 250.46,440.36 251.42,438.84 252.39,437.32 253.35,435.81 254.32,434.29 255.29,432.78 256.25,431.27 257.22,429.76 258.18,428.25 259.15,426.75 260.12,425.24 261.08,423.74 262.05,422.25 263.01,420.75 263.98,419.26 264.95,417.78 265.91,416.30 266.88,414.82 267.84,413.35 268.81,411.88 269.78,410.42 270.74,408.96 271.71,407.51 272.67,406.07 273.64,404.63 274.61,403.20 275.57,401.79 276.54,400.38 277.50,398.98 278.47,397.59 279.43,396.22 280.40,394.86 281.37,393.51 282.33,392.18 283.30,390.86 284.26,389.56 285.23,388.28 286.20,387.01 287.16,385.77 288.13,384.55 289.09,383.35 290.06,382.17 291.03,381.02 291.99,379.89 292.96,378.79 293.92,377.72 294.89,376.67 295.86,375.65 296.82,374.66 297.79,373.70 298.75,372.77 299.72,371.87 300.69,371.00 301.65,370.16 302.62,369.35 303.58,368.56 304.55,367.81 305.52,367.08 306.48,366.38 307.45,365.71 308.41,365.06 309.38,364.43 310.34,363.83 311.31,363.25 312.28,362.69 313.24,362.15 314.21,361.63 315.17,361.13 316.14,360.65 317.11,360.18 318.07,359.72 319.04,359.28 320.00,358.85 320.97,358.44 321.94,358.03 322.90,357.64 323.87,357.26 324.83,356.88 325.80,356.52 326.77,356.16 327.73,355.81 328.70,355.46 329.66,355.12 330.63,354.79 331.60,354.46 332.56,354.14 333.53,353.82 334.49,353.51 335.46,353.20 336.42,352.90 337.39,352.59 338.36,352.30 339.32,352.00 340.29,351.71 341.25,351.42 342.22,351.13 343.19,350.85 344.15,350.56 345.12,350.28 346.08,350.01 347.05,349.73 348.02,349.46 348.98,349.18 349.95,348.91 350.91,348.64 351.88,348.38 352.85,348.11 353.81,347.85 354.78,347.58 355.74,347.32 356.71,347.06 357.68,346.80 358.64,346.55 359.61,346.29 360.57,346.04 361.54,345.78 362.51,345.53 363.47,345.28 364.44,345.03 365.40,344.78 366.37,344.54 367.33,344.29 368.30,344.05 369.27,343.80 370.23,343.56 371.20,343.32 372.16,343.08 373.13,342.84 374.10,342.60 375.06,342.37 376.03,342.13 376.99,341.90 377.96,341.66 378.93,341.43 379.89,341.20 380.86,340.97 381.82,340.74 382.79,340.51 383.76,340.29 384.72,340.06 385.69,339.84 386.65,339.62 387.62,339.39 388.59,339.17 389.55,338.95 390.52,338.74 391.48,338.52 392.45,338.30 393.41,338.09 394.38,337.87 395.35,337.66 396.31,337.45 397.28,337.24 398.24,337.03 399.21,336.82 400.18,336.62 401.14,336.41 402.11,336.21 403.07,336.00 404.04,335.80 405.01,335.60 405.97,335.40 406.94,335.20 407.90,335.00 408.87,334.81 409.84,334.61 410.80,334.42 411.77,334.22 412.73,334.03 413.70,333.84 414.67,333.65 415.63,333.46 416.60,333.27 417.56,333.09 418.53,332.90 419.49,332.72 420.46,332.54 421.43,332.35 422.39,332.17 423.36,331.99 424.32,331.82 425.29,331.64 426.26,331.46 427.22,331.29 428.19,331.11 429.15,330.94 430.12,330.77 431.09,330.60 432.05,330.43 433.02,330.26 433.98,330.09 434.95,329.93 435.92,329.76 436.88,329.60 437.85,329.44 438.81,329.28 439.78,329.11 440.75,328.96 441.71,328.80 442.68,328.64 443.64,328.48 444.61,328.33 445.58,328.18 446.54,328.02 447.51,327.87 448.47,327.72 449.44,327.57 450.40,327.42 451.37,327.28 452.34,327.13 453.30,326.98 454.27,326.84 455.23,326.70 456.20,326.55 457.17,326.41 458.13,326.27 459.10,326.13 460.06,326.00 461.03,325.86 462.00,325.72 462.96,325.59 463.93,325.46 464.89,325.32 465.86,325.19 466.83,325.06 467.79,324.93 468.76,324.80 469.72,324.68 470.69,324.55 471.66,324.42 472.62,324.30 473.59,324.18 474.55,324.05 475.52,323.93 476.48,323.81 477.45,323.69 478.42,323.57 479.38,323.45 480.35,323.34 481.31,323.22 482.28,323.11 483.25,322.99 484.21,322.88 485.18,322.77 486.14,322.66 487.11,322.55 488.08,322.44 489.04,322.33 490.01,322.22 490.97,322.11 491.94,322.01 492.91,321.90 493.87,321.80 494.84,321.70 495.80,321.60 496.77,321.49 497.74,321.39 498.70,321.29 499.67,321.20 500.63,321.10 501.60,321.00 502.57,320.91 503.53,320.81 504.50,320.72 505.46,320.62 506.43,320.53 507.39,320.44 508.36,320.35 509.33,320.26 510.29,320.17 511.26,320.08 512.22,319.99 513.19,319.90 514.16,319.82 515.12,319.73 516.09,319.65 517.05,319.56 518.02,319.48 518.99,319.40 519.95,319.32 520.92,319.24 521.88,319.16 522.85,319.08 523.82,319.00 524.78,318.92 525.75,318.84 526.71,318.77 527.68,318.69 528.65,318.62 529.61,318.54 530.58,318.47 531.54,318.40 532.51,318.32 533.47,318.25 534.44,318.18 535.41,318.11 536.37,318.04 537.34,317.97 538.30,317.90 539.27,317.84 540.24,317.77 541.20,317.70 542.17,317.64 543.13,317.57 544.10,317.51 545.07,317.44 546.03,317.38 547.00,317.32 547.96,317.26 548.93,317.20 549.90,317.14 550.86,317.08 551.83,317.02 552.79,316.96 553.76,316.90 554.73,316.84 555.69,316.78 556.66,316.73 557.62,316.67 558.59,316.62 559.56,316.56 560.52,316.51 561.49,316.45 562.45,316.40 563.42,316.35 564.38,316.30 565.35,316.24 566.32,316.19 567.28,316.14 568.25,316.09 569.21,316.04 570.18,315.99 571.15,315.94 572.11,315.90 573.08,315.85 574.04,315.80 575.01,315.76 575.98,315.71 576.94,315.66 577.91,315.62 578.87,315.57 579.84,315.53 580.81,315.49 581.77,315.44 582.74,315.40 583.70,315.36 584.67,315.31 585.64,315.27 586.60,315.23 587.57,315.19 588.53,315.15 589.50,315.11 590.46,315.07 591.43,315.03 592.40,314.99 593.36,314.96 594.33,314.92 595.29,314.88 596.26,314.84 597.23,314.81 598.19,314.77 599.16,314.73 600.12,314.70 601.09,314.66 602.06,314.63 603.02,314.59 603.99,314.56 604.95,314.53 605.92,314.49 606.89,314.46 607.85,314.43 608.82,314.40 609.78,314.36 610.75,314.33 611.72,314.30 612.68,314.27 613.65,314.24 614.61,314.21 615.58,314.18 616.55,314.15 617.51,314.12 618.48,314.09 619.44,314.06 620.41,314.03 621.37,314.01 622.34,313.98 623.31,313.95 624.27,313.92 625.24,313.90 626.20,313.87 627.17,313.84 628.14,313.82 629.10,313.79 630.07,313.77 631.03,313.74 632.00,313.72 632.00,314.52 631.03,314.58 630.07,314.64 629.10,314.71 628.14,314.77 627.17,314.83 626.20,314.89 625.24,314.96 624.27,315.02 623.31,315.09 622.34,315.15 621.37,315.22 620.41,315.29 619.44,315.36 618.48,315.42 617.51,315.49 616.55,315.56 615.58,315.63 614.61,315.70 613.65,315.77 612.68,315.85 611.72,315.92 610.75,315.99 609.78,316.06 608.82,316.14 607.85,316.21 606.89,316.29 605.92,316.36 604.95,316.44 603.99,316.52 603.02,316.59 602.06,316.67 601.09,316.75 600.12,316.83 599.16,316.91 598.19,316.99 597.23,317.07 596.26,317.16 595.29,317.24 594.33,317.32 593.36,317.41 592.40,317.49 591.43,317.58 590.46,317.66 589.50,317.75 588.53,317.84 587.57,317.92 586.60,318.01 585.64,318.10 584.67,318.19 583.70,318.28 582.74,318.37 581.77,318.47 580.81,318.56 579.84,318.65 578.87,318.75 577.91,318.84 576.94,318.94 575.98,319.03 575.01,319.13 574.04,319.23 573.08,319.32 572.11,319.42 571.15,319.52 570.18,319.62 569.21,319.72 568.25,319.83 567.28,319.93 566.32,320.03 565.35,320.14 564.38,320.24 563.42,320.35 562.45,320.45 561.49,320.56 560.52,320.67 559.56,320.77 558.59,320.88 557.62,320.99 556.66,321.10 555.69,321.22 554.73,321.33 553.76,321.44 552.79,321.55 551.83,321.67 550.86,321.78 549.90,321.90 548.93,322.01 547.96,322.13 547.00,322.25 546.03,322.37 545.07,322.49 544.10,322.61 543.13,322.73 542.17,322.85 541.20,322.97 540.24,323.10 539.27,323.22 538.30,323.34 537.34,323.47 536.37,323.60 535.41,323.72 534.44,323.85 533.47,323.98 532.51,324.11 531.54,324.24 530.58,324.37 529.61,324.50 528.65,324.63 527.68,324.77 526.71,324.90 525.75,325.04 524.78,325.17 523.82,325.31 522.85,325.44 521.88,325.58 520.92,325.72 519.95,325.86 518.99,326.00 518.02,326.14 517.05,326.28 516.09,326.43 515.12,326.57 514.16,326.71 513.19,326.86 512.22,327.00 511.26,327.15 510.29,327.30 509.33,327.45 508.36,327.59 507.39,327.74 506.43,327.89 505.46,328.05 504.50,328.20 503.53,328.35 502.57,328.50 501.60,328.66 500.63,328.81 499.67,328.97 498.70,329.13 497.74,329.28 496.77,329.44 495.80,329.60 494.84,329.76 493.87,329.92 492.91,330.08 491.94,330.25 490.97,330.41 490.01,330.58 489.04,330.74 488.08,330.91 487.11,331.07 486.14,331.24 485.18,331.41 484.21,331.58 483.25,331.75 482.28,331.92 481.31,332.09 480.35,332.27 479.38,332.44 478.42,332.61 477.45,332.79 476.48,332.97 475.52,333.14 474.55,333.32 473.59,333.50 472.62,333.68 471.66,333.86 470.69,334.04 469.72,334.23 468.76,334.41 467.79,334.60 466.83,334.78 465.86,334.97 464.89,335.16 463.93,335.35 462.96,335.54 462.00,335.73 461.03,335.92 460.06,336.11 459.10,336.31 458.13,336.50 457.17,336.70 456.20,336.90 455.23,337.09 454.27,337.29 453.30,337.50 452.34,337.70 451.37,337.90 450.40,338.11 449.44,338.31 448.47,338.52 447.51,338.73 446.54,338.94 445.58,339.15 444.61,339.37 443.64,339.58 442.68,339.80 441.71,340.02 440.75,340.24 439.78,340.46 438.81,340.68 437.85,340.90 436.88,341.13 435.92,341.36 434.95,341.59 433.98,341.82 433.02,342.05 432.05,342.29 431.09,342.53 430.12,342.77 429.15,343.01 428.19,343.26 427.22,343.50 426.26,343.75 425.29,344.00 424.32,344.26 423.36,344.52 422.39,344.78 421.43,345.04 420.46,345.30 419.49,345.57 418.53,345.84 417.56,346.12 416.60,346.40 415.63,346.68 414.67,346.96 413.70,347.25 412.73,347.54 411.77,347.84 410.80,348.14 409.84,348.44 408.87,348.75 407.90,349.06 406.94,349.37 405.97,349.69 405.01,350.02 404.04,350.35 403.07,350.69 402.11,351.03 401.14,351.37 400.18,351.72 399.21,352.08 398.24,352.44 397.28,352.81 396.31,353.18 395.35,353.56 394.38,353.95 393.41,354.34 392.45,354.74 391.48,355.15 390.52,355.56 389.55,355.98 388.59,356.41 387.62,356.84 386.65,357.29 385.69,357.74 384.72,358.19 383.76,358.66 382.79,359.14 381.82,359.62 380.86,360.11 379.89,360.61 378.93,361.12 377.96,361.64 376.99,362.17 376.03,362.71 375.06,363.26 374.10,363.82 373.13,364.38 372.16,364.96 371.20,365.55 370.23,366.14 369.27,366.75 368.30,367.37 367.33,368.00 366.37,368.64 365.40,369.28 364.44,369.94 363.47,370.61 362.51,371.29 361.54,371.99 360.57,372.69 359.61,373.40 358.64,374.12 357.68,374.86 356.71,375.60 355.74,376.36 354.78,377.12 353.81,377.90 352.85,378.68 351.88,379.48 350.91,380.29 349.95,381.10 348.98,381.93 348.02,382.77 347.05,383.61 346.08,384.47 345.12,385.33 344.15,386.21 343.19,387.09 342.22,387.99 341.25,388.89 340.29,389.80 339.32,390.72 338.36,391.65 337.39,392.59 336.42,393.53 335.46,394.48 334.49,395.44 333.53,396.41 332.56,397.39 331.60,398.37 330.63,399.36 329.66,400.36 328.70,401.36 327.73,402.37 326.77,403.39 325.80,404.41 324.83,405.44 323.87,406.48 322.90,407.52 321.94,408.56 320.97,409.62 320.00,410.67 319.04,411.74 318.07,412.80 317.11,413.88 316.14,414.95 315.17,416.03 314.21,417.12 313.24,418.21 312.28,419.30 311.31,420.40 310.34,421.50 309.38,422.61 308.41,423.72 307.45,424.83 306.48,425.94 305.52,427.06 304.55,428.18 303.58,429.31 302.62,430.44 301.65,431.57 300.69,432.70 299.72,433.84 298.75,434.97 297.79,436.12 296.82,437.26 295.86,438.40 294.89,439.55 293.92,440.70 292.96,441.85 291.99,443.01 291.03,444.16 290.06,445.32 289.09,446.48 288.13,447.64 287.16,448.80 286.20,449.96 285.23,451.13 284.26,452.29 283.30,453.46 282.33,454.63 281.37,455.80 280.40,456.97 279.43,458.15 278.47,459.32 277.50,460.50 276.54,461.67 275.57,462.85 274.61,464.03 273.64,465.21 272.67,466.39 271.71,467.57 270.74,468.75 269.78,469.93 268.81,471.12 267.84,472.30 266.88,473.48 265.91,474.67 264.95,475.86 263.98,477.04 263.01,478.23 262.05,479.42 261.08,480.61 260.12,481.80 259.15,482.99 258.18,484.18 257.22,485.37 256.25,486.56 255.29,487.75 254.32,488.95 253.35,490.14 252.39,491.33 251.42,492.53 250.46,493.72 249.49,494.91 248.53,496.11 247.56,497.30 246.59,498.50 245.63,499.70 244.66,500.89 243.70,502.09 242.73,503.29 241.76,504.48 240.80,505.68 239.83,506.88 238.87,508.08 237.90,509.27 236.93,510.47 235.97,511.67 235.00,512.87 234.04,514.07 233.07,515.27 232.10,516.47 231.14,517.67 230.17,518.87 229.21,520.07 228.24,521.27 227.27,522.47 226.31,523.67 225.34,524.87 224.38,526.08 223.41,527.28 222.44,528.48 221.48,529.68 220.51,530.88 219.55,532.08 218.58,533.29 217.62,534.49 216.65,535.69 215.68,536.89 214.72,538.10 213.75,539.30 212.79,540.50 211.82,541.71 210.85,542.91 209.89,544.11 208.92,545.32 207.96,546.52 206.99,547.72 206.02,548.93 205.06,550.13 204.09,551.34 203.13,552.54 202.16,553.74 201.19,554.95 200.23,556.15 199.26,557.36 198.30,558.56 197.33,559.77 196.36,560.97 195.40,562.18 194.43,563.38 193.47,564.59 192.50,565.79 191.54,567.00 190.57,568.20 189.60,569.41 188.64,570.61 187.67,571.82 186.71,573.03 185.74,574.23 184.77,575.44 183.81,576.64 182.84,577.85 181.88,579.06 180.91,580.26 179.94,581.47 178.98,582.67 178.01,583.88 177.05,585.09 176.08,586.29 175.11,587.50 174.15,588.71 173.18,589.91 172.22,591.12 171.25,592.33 170.28,593.53 169.32,594.74 168.35,595.95 167.39,597.15 166.42,598.36 165.45,599.57 164.49,600.77 163.52,601.98 162.56,603.19 161.59,604.40 160.63,605.60 159.66,606.81 158.69,608.02 157.73,609.23 156.76,610.43 155.80,611.64 154.83,612.85 153.86,614.06 152.90,615.26 151.93,616.47 150.97,617.68 150.00,618.89" fill="#f3dbe4"/>
<line x1="109.90" y1="391.00" x2="628.40" y2="391.00" stroke="#000" stroke-width="2.0" stroke-linecap="butt"/>
<line x1="283.10" y1="564.30" x2="283.10" y2="306.50" stroke="#000" stroke-width="1.75" stroke-linecap="butt" stroke-dasharray="11.1 2.78 1.8 2.78"/>
<line x1="338.95" y1="564.30" x2="338.95" y2="306.50" stroke="#000" stroke-width="1.75" stroke-linecap="butt" stroke-dasharray="11.1 2.78 1.8 2.78"/>
<polyline points="150.00,601.32 150.97,599.76 151.93,598.20 152.90,596.63 153.86,595.07 154.83,593.51 155.80,591.95 156.76,590.39 157.73,588.83 158.69,587.27 159.66,585.71 160.63,584.15 161.59,582.58 162.56,581.02 163.52,579.47 164.49,577.91 165.45,576.35 166.42,574.79 167.39,573.23 168.35,571.67 169.32,570.11 170.28,568.55 171.25,566.99 172.22,565.44 173.18,563.88 174.15,562.32 175.11,560.76 176.08,559.21 177.05,557.65 178.01,556.09 178.98,554.54 179.94,552.98 180.91,551.43 181.88,549.87 182.84,548.32 183.81,546.76 184.77,545.21 185.74,543.65 186.71,542.10 187.67,540.54 188.64,538.99 189.60,537.44 190.57,535.88 191.54,534.33 192.50,532.78 193.47,531.23 194.43,529.67 195.40,528.12 196.36,526.57 197.33,525.02 198.30,523.47 199.26,521.92 200.23,520.37 201.19,518.82 202.16,517.27 203.13,515.72 204.09,514.17 205.06,512.62 206.02,511.08 206.99,509.53 207.96,507.98 208.92,506.43 209.89,504.89 210.85,503.34 211.82,501.79 212.79,500.25 213.75,498.70 214.72,497.16 215.68,495.61 216.65,494.07 217.62,492.53 218.58,490.98 219.55,489.44 220.51,487.90 221.48,486.36 222.44,484.81 223.41,483.27 224.38,481.73 225.34,480.19 226.31,478.65 227.27,477.11 228.24,475.57 229.21,474.03 230.17,472.50 231.14,470.96 232.10,469.42 233.07,467.89 234.04,466.35 235.00,464.82 235.97,463.28 236.93,461.75 237.90,460.21 238.87,458.68 239.83,457.15 240.80,455.62 241.76,454.09 242.73,452.56 243.70,451.03 244.66,449.50 245.63,447.98 246.59,446.45 247.56,444.93 248.53,443.40 249.49,441.88 250.46,440.36 251.42,438.84 252.39,437.32 253.35,435.81 254.32,434.29 255.29,432.78 256.25,431.27 257.22,429.76 258.18,428.25 259.15,426.75 260.12,425.24 261.08,423.74 262.05,422.25 263.01,420.75 263.98,419.26 264.95,417.78 265.91,416.30 266.88,414.82 267.84,413.35 268.81,411.88 269.78,410.42 270.74,408.96 271.71,407.51 272.67,406.07 273.64,404.63 274.61,403.20 275.57,401.79 276.54,400.38 277.50,398.98 278.47,397.59 279.43,396.22 280.40,394.86 281.37,393.51 282.33,392.18 283.30,390.86 284.26,389.56 285.23,388.28 286.20,387.01 287.16,385.77 288.13,384.55 289.09,383.35 290.06,382.17 291.03,381.02 291.99,379.89 292.96,378.79 293.92,377.72 294.89,376.67 295.86,375.65 296.82,374.66 297.79,373.70 298.75,372.77 299.72,371.87 300.69,371.00 301.65,370.16 302.62,369.35 303.58,368.56 304.55,367.81 305.52,367.08 306.48,366.38 307.45,365.71 308.41,365.06 309.38,364.43 310.34,363.83 311.31,363.25 312.28,362.69 313.24,362.15 314.21,361.63 315.17,361.13 316.14,360.65 317.11,360.18 318.07,359.72 319.04,359.28 320.00,358.85 320.97,358.44 321.94,358.03 322.90,357.64 323.87,357.26 324.83,356.88 325.80,356.52 326.77,356.16 327.73,355.81 328.70,355.46 329.66,355.12 330.63,354.79 331.60,354.46 332.56,354.14 333.53,353.82 334.49,353.51 335.46,353.20 336.42,352.90 337.39,352.59 338.36,352.30 339.32,352.00 340.29,351.71 341.25,351.42 342.22,351.13 343.19,350.85 344.15,350.56 345.12,350.28 346.08,350.01 347.05,349.73 348.02,349.46 348.98,349.18 349.95,348.91 350.91,348.64 351.88,348.38 352.85,348.11 353.81,347.85 354.78,347.58 355.74,347.32 356.71,347.06 357.68,346.80 358.64,346.55 359.61,346.29 360.57,346.04 361.54,345.78 362.51,345.53 363.47,345.28 364.44,345.03 365.40,344.78 366.37,344.54 367.33,344.29 368.30,344.05 369.27,343.80 370.23,343.56 371.20,343.32 372.16,343.08 373.13,342.84 374.10,342.60 375.06,342.37 376.03,342.13 376.99,341.90 377.96,341.66 378.93,341.43 379.89,341.20 380.86,340.97 381.82,340.74 382.79,340.51 383.76,340.29 384.72,340.06 385.69,339.84 386.65,339.62 387.62,339.39 388.59,339.17 389.55,338.95 390.52,338.74 391.48,338.52 392.45,338.30 393.41,338.09 394.38,337.87 395.35,337.66 396.31,337.45 397.28,337.24 398.24,337.03 399.21,336.82 400.18,336.62 401.14,336.41 402.11,336.21 403.07,336.00 404.04,335.80 405.01,335.60 405.97,335.40 406.94,335.20 407.90,335.00 408.87,334.81 409.84,334.61 410.80,334.42 411.77,334.22 412.73,334.03 413.70,333.84 414.67,333.65 415.63,333.46 416.60,333.27 417.56,333.09 418.53,332.90 419.49,332.72 420.46,332.54 421.43,332.35 422.39,332.17 423.36,331.99 424.32,331.82 425.29,331.64 426.26,331.46 427.22,331.29 428.19,331.11 429.15,330.94 430.12,330.77 431.09,330.60 432.05,330.43 433.02,330.26 433.98,330.09 434.95,329.93 435.92,329.76 436.88,329.60 437.85,329.44 438.81,329.28 439.78,329.11 440.75,328.96 441.71,328.80 442.68,328.64 443.64,328.48 444.61,328.33 445.58,328.18 446.54,328.02 447.51,327.87 448.47,327.72 449.44,327.57 450.40,327.42 451.37,327.28 452.34,327.13 453.30,326.98 454.27,326.84 455.23,326.70 456.20,326.55 457.17,326.41 458.13,326.27 459.10,326.13 460.06,326.00 461.03,325.86 462.00,325.72 462.96,325.59 463.93,325.46 464.89,325.32 465.86,325.19 466.83,325.06 467.79,324.93 468.76,324.80 469.72,324.68 470.69,324.55 471.66,324.42 472.62,324.30 473.59,324.18 474.55,324.05 475.52,323.93 476.48,323.81 477.45,323.69 478.42,323.57 479.38,323.45 480.35,323.34 481.31,323.22 482.28,323.11 483.25,322.99 484.21,322.88 485.18,322.77 486.14,322.66 487.11,322.55 488.08,322.44 489.04,322.33 490.01,322.22 490.97,322.11 491.94,322.01 492.91,321.90 493.87,321.80 494.84,321.70 495.80,321.60 496.77,321.49 497.74,321.39 498.70,321.29 499.67,321.20 500.63,321.10 501.60,321.00 502.57,320.91 503.53,320.81 504.50,320.72 505.46,320.62 506.43,320.53 507.39,320.44 508.36,320.35 509.33,320.26 510.29,320.17 511.26,320.08 512.22,319.99 513.19,319.90 514.16,319.82 515.12,319.73 516.09,319.65 517.05,319.56 518.02,319.48 518.99,319.40 519.95,319.32 520.92,319.24 521.88,319.16 522.85,319.08 523.82,319.00 524.78,318.92 525.75,318.84 526.71,318.77 527.68,318.69 528.65,318.62 529.61,318.54 530.58,318.47 531.54,318.40 532.51,318.32 533.47,318.25 534.44,318.18 535.41,318.11 536.37,318.04 537.34,317.97 538.30,317.90 539.27,317.84 540.24,317.77 541.20,317.70 542.17,317.64 543.13,317.57 544.10,317.51 545.07,317.44 546.03,317.38 547.00,317.32 547.96,317.26 548.93,317.20 549.90,317.14 550.86,317.08 551.83,317.02 552.79,316.96 553.76,316.90 554.73,316.84 555.69,316.78 556.66,316.73 557.62,316.67 558.59,316.62 559.56,316.56 560.52,316.51 561.49,316.45 562.45,316.40 563.42,316.35 564.38,316.30 565.35,316.24 566.32,316.19 567.28,316.14 568.25,316.09 569.21,316.04 570.18,315.99 571.15,315.94 572.11,315.90 573.08,315.85 574.04,315.80 575.01,315.76 575.98,315.71 576.94,315.66 577.91,315.62 578.87,315.57 579.84,315.53 580.81,315.49 581.77,315.44 582.74,315.40 583.70,315.36 584.67,315.31 585.64,315.27 586.60,315.23 587.57,315.19 588.53,315.15 589.50,315.11 590.46,315.07 591.43,315.03 592.40,314.99 593.36,314.96 594.33,314.92 595.29,314.88 596.26,314.84 597.23,314.81 598.19,314.77 599.16,314.73 600.12,314.70 601.09,314.66 602.06,314.63 603.02,314.59 603.99,314.56 604.95,314.53 605.92,314.49 606.89,314.46 607.85,314.43 608.82,314.40 609.78,314.36 610.75,314.33 611.72,314.30 612.68,314.27 613.65,314.24 614.61,314.21 615.58,314.18 616.55,314.15 617.51,314.12 618.48,314.09 619.44,314.06 620.41,314.03 621.37,314.01 622.34,313.98 623.31,313.95 624.27,313.92 625.24,313.90 626.20,313.87 627.17,313.84 628.14,313.82 629.10,313.79 630.07,313.77 631.03,313.74 632.00,313.72" fill="none" stroke="#c2517e" stroke-width="3.4" stroke-linejoin="round" stroke-linecap="butt"/>
<polyline points="150.00,618.89 150.97,617.68 151.93,616.47 152.90,615.26 153.86,614.06 154.83,612.85 155.80,611.64 156.76,610.43 157.73,609.23 158.69,608.02 159.66,606.81 160.63,605.60 161.59,604.40 162.56,603.19 163.52,601.98 164.49,600.77 165.45,599.57 166.42,598.36 167.39,597.15 168.35,595.95 169.32,594.74 170.28,593.53 171.25,592.33 172.22,591.12 173.18,589.91 174.15,588.71 175.11,587.50 176.08,586.29 177.05,585.09 178.01,583.88 178.98,582.67 179.94,581.47 180.91,580.26 181.88,579.06 182.84,577.85 183.81,576.64 184.77,575.44 185.74,574.23 186.71,573.03 187.67,571.82 188.64,570.61 189.60,569.41 190.57,568.20 191.54,567.00 192.50,565.79 193.47,564.59 194.43,563.38 195.40,562.18 196.36,560.97 197.33,559.77 198.30,558.56 199.26,557.36 200.23,556.15 201.19,554.95 202.16,553.74 203.13,552.54 204.09,551.34 205.06,550.13 206.02,548.93 206.99,547.72 207.96,546.52 208.92,545.32 209.89,544.11 210.85,542.91 211.82,541.71 212.79,540.50 213.75,539.30 214.72,538.10 215.68,536.89 216.65,535.69 217.62,534.49 218.58,533.29 219.55,532.08 220.51,530.88 221.48,529.68 222.44,528.48 223.41,527.28 224.38,526.08 225.34,524.87 226.31,523.67 227.27,522.47 228.24,521.27 229.21,520.07 230.17,518.87 231.14,517.67 232.10,516.47 233.07,515.27 234.04,514.07 235.00,512.87 235.97,511.67 236.93,510.47 237.90,509.27 238.87,508.08 239.83,506.88 240.80,505.68 241.76,504.48 242.73,503.29 243.70,502.09 244.66,500.89 245.63,499.70 246.59,498.50 247.56,497.30 248.53,496.11 249.49,494.91 250.46,493.72 251.42,492.53 252.39,491.33 253.35,490.14 254.32,488.95 255.29,487.75 256.25,486.56 257.22,485.37 258.18,484.18 259.15,482.99 260.12,481.80 261.08,480.61 262.05,479.42 263.01,478.23 263.98,477.04 264.95,475.86 265.91,474.67 266.88,473.48 267.84,472.30 268.81,471.12 269.78,469.93 270.74,468.75 271.71,467.57 272.67,466.39 273.64,465.21 274.61,464.03 275.57,462.85 276.54,461.67 277.50,460.50 278.47,459.32 279.43,458.15 280.40,456.97 281.37,455.80 282.33,454.63 283.30,453.46 284.26,452.29 285.23,451.13 286.20,449.96 287.16,448.80 288.13,447.64 289.09,446.48 290.06,445.32 291.03,444.16 291.99,443.01 292.96,441.85 293.92,440.70 294.89,439.55 295.86,438.40 296.82,437.26 297.79,436.12 298.75,434.97 299.72,433.84 300.69,432.70 301.65,431.57 302.62,430.44 303.58,429.31 304.55,428.18 305.52,427.06 306.48,425.94 307.45,424.83 308.41,423.72 309.38,422.61 310.34,421.50 311.31,420.40 312.28,419.30 313.24,418.21 314.21,417.12 315.17,416.03 316.14,414.95 317.11,413.88 318.07,412.80 319.04,411.74 320.00,410.67 320.97,409.62 321.94,408.56 322.90,407.52 323.87,406.48 324.83,405.44 325.80,404.41 326.77,403.39 327.73,402.37 328.70,401.36 329.66,400.36 330.63,399.36 331.60,398.37 332.56,397.39 333.53,396.41 334.49,395.44 335.46,394.48 336.42,393.53 337.39,392.59 338.36,391.65 339.32,390.72 340.29,389.80 341.25,388.89 342.22,387.99 343.19,387.09 344.15,386.21 345.12,385.33 346.08,384.47 347.05,383.61 348.02,382.77 348.98,381.93 349.95,381.10 350.91,380.29 351.88,379.48 352.85,378.68 353.81,377.90 354.78,377.12 355.74,376.36 356.71,375.60 357.68,374.86 358.64,374.12 359.61,373.40 360.57,372.69 361.54,371.99 362.51,371.29 363.47,370.61 364.44,369.94 365.40,369.28 366.37,368.64 367.33,368.00 368.30,367.37 369.27,366.75 370.23,366.14 371.20,365.55 372.16,364.96 373.13,364.38 374.10,363.82 375.06,363.26 376.03,362.71 376.99,362.17 377.96,361.64 378.93,361.12 379.89,360.61 380.86,360.11 381.82,359.62 382.79,359.14 383.76,358.66 384.72,358.19 385.69,357.74 386.65,357.29 387.62,356.84 388.59,356.41 389.55,355.98 390.52,355.56 391.48,355.15 392.45,354.74 393.41,354.34 394.38,353.95 395.35,353.56 396.31,353.18 397.28,352.81 398.24,352.44 399.21,352.08 400.18,351.72 401.14,351.37 402.11,351.03 403.07,350.69 404.04,350.35 405.01,350.02 405.97,349.69 406.94,349.37 407.90,349.06 408.87,348.75 409.84,348.44 410.80,348.14 411.77,347.84 412.73,347.54 413.70,347.25 414.67,346.96 415.63,346.68 416.60,346.40 417.56,346.12 418.53,345.84 419.49,345.57 420.46,345.30 421.43,345.04 422.39,344.78 423.36,344.52 424.32,344.26 425.29,344.00 426.26,343.75 427.22,343.50 428.19,343.26 429.15,343.01 430.12,342.77 431.09,342.53 432.05,342.29 433.02,342.05 433.98,341.82 434.95,341.59 435.92,341.36 436.88,341.13 437.85,340.90 438.81,340.68 439.78,340.46 440.75,340.24 441.71,340.02 442.68,339.80 443.64,339.58 444.61,339.37 445.58,339.15 446.54,338.94 447.51,338.73 448.47,338.52 449.44,338.31 450.40,338.11 451.37,337.90 452.34,337.70 453.30,337.50 454.27,337.29 455.23,337.09 456.20,336.90 457.17,336.70 458.13,336.50 459.10,336.31 460.06,336.11 461.03,335.92 462.00,335.73 462.96,335.54 463.93,335.35 464.89,335.16 465.86,334.97 466.83,334.78 467.79,334.60 468.76,334.41 469.72,334.23 470.69,334.04 471.66,333.86 472.62,333.68 473.59,333.50 474.55,333.32 475.52,333.14 476.48,332.97 477.45,332.79 478.42,332.61 479.38,332.44 480.35,332.27 481.31,332.09 482.28,331.92 483.25,331.75 484.21,331.58 485.18,331.41 486.14,331.24 487.11,331.07 488.08,330.91 489.04,330.74 490.01,330.58 490.97,330.41 491.94,330.25 492.91,330.08 493.87,329.92 494.84,329.76 495.80,329.60 496.77,329.44 497.74,329.28 498.70,329.13 499.67,328.97 500.63,328.81 501.60,328.66 502.57,328.50 503.53,328.35 504.50,328.20 505.46,328.05 506.43,327.89 507.39,327.74 508.36,327.59 509.33,327.45 510.29,327.30 511.26,327.15 512.22,327.00 513.19,326.86 514.16,326.71 515.12,326.57 516.09,326.43 517.05,326.28 518.02,326.14 518.99,326.00 519.95,325.86 520.92,325.72 521.88,325.58 522.85,325.44 523.82,325.31 524.78,325.17 525.75,325.04 526.71,324.90 527.68,324.77 528.65,324.63 529.61,324.50 530.58,324.37 531.54,324.24 532.51,324.11 533.47,323.98 534.44,323.85 535.41,323.72 536.37,323.60 537.34,323.47 538.30,323.34 539.27,323.22 540.24,323.10 541.20,322.97 542.17,322.85 543.13,322.73 544.10,322.61 545.07,322.49 546.03,322.37 547.00,322.25 547.96,322.13 548.93,322.01 549.90,321.90 550.86,321.78 551.83,321.67 552.79,321.55 553.76,321.44 554.73,321.33 555.69,321.22 556.66,321.10 557.62,320.99 558.59,320.88 559.56,320.77 560.52,320.67 561.49,320.56 562.45,320.45 563.42,320.35 564.38,320.24 565.35,320.14 566.32,320.03 567.28,319.93 568.25,319.83 569.21,319.72 570.18,319.62 571.15,319.52 572.11,319.42 573.08,319.32 574.04,319.23 575.01,319.13 575.98,319.03 576.94,318.94 577.91,318.84 578.87,318.75 579.84,318.65 580.81,318.56 581.77,318.47 582.74,318.37 583.70,318.28 584.67,318.19 585.64,318.10 586.60,318.01 587.57,317.92 588.53,317.84 589.50,317.75 590.46,317.66 591.43,317.58 592.40,317.49 593.36,317.41 594.33,317.32 595.29,317.24 596.26,317.16 597.23,317.07 598.19,316.99 599.16,316.91 600.12,316.83 601.09,316.75 602.06,316.67 603.02,316.59 603.99,316.52 604.95,316.44 605.92,316.36 606.89,316.29 607.85,316.21 608.82,316.14 609.78,316.06 610.75,315.99 611.72,315.92 612.68,315.85 613.65,315.77 614.61,315.70 615.58,315.63 616.55,315.56 617.51,315.49 618.48,315.42 619.44,315.36 620.41,315.29 621.37,315.22 622.34,315.15 623.31,315.09 624.27,315.02 625.24,314.96 626.20,314.89 627.17,314.83 628.14,314.77 629.10,314.71 630.07,314.64 631.03,314.58 632.00,314.52" fill="none" stroke="#18187e" stroke-width="3.4" stroke-linejoin="round" stroke-linecap="butt"/>
</g>
<line x1="296.00" y1="517.30" x2="326.00" y2="517.30" stroke="#000" stroke-width="2.2" stroke-linecap="butt"/>
<polygon points="283.30,517.30 297.80,510.70 297.80,523.90" fill="#000"/>
<polygon points="338.90,517.30 324.40,523.90 324.40,510.70" fill="#000"/>
<text x="0" y="0" font-size="26.0" fill="#000" stroke="#000" stroke-width="0.3" transform="translate(287.40 502.60) scale(0.9979 1)"><tspan font-family="'DejaVu Sans', sans-serif">Δ</tspan><tspan font-style="italic">V</tspan><tspan dy="4.42" font-size="18.20">H</tspan></text>
<rect x="349.60" y="476.90" width="265.30" height="73.80" fill="#ffffff" stroke="#d9d9d9" stroke-width="1.0" rx="4"/>
<line x1="359.00" y1="514.70" x2="411.60" y2="514.70" stroke="#000" stroke-width="2.0" stroke-linecap="butt"/>
<text x="0" y="0" font-size="26.5" fill="#000" stroke="#000" stroke-width="0.3" transform="translate(432.70 505.70) scale(1.0044 1)"><tspan font-style="italic">I</tspan><tspan dy="4.50" font-size="18.55">crit</tspan><tspan dy="-4.50">/</tspan><tspan font-style="italic">W</tspan><tspan> </tspan><tspan font-family="'DejaVu Sans', sans-serif">=</tspan></text>
<text x="0" y="0" font-size="26.5" fill="#000" stroke="#000" stroke-width="0.3" transform="translate(431.22 534.90) scale(0.9829 1)"><tspan>4.8e-05 </tspan><tspan font-style="italic" font-family="'DejaVu Sans', sans-serif">μ</tspan><tspan>A/</tspan><tspan font-style="italic" font-family="'DejaVu Sans', sans-serif">μ</tspan><tspan>m</tspan></text>
<rect x="109.90" y="48.90" width="518.50" height="257.60" fill="none" stroke="#000" stroke-width="1.3" rx="0"/>
<rect x="109.90" y="306.50" width="518.50" height="257.80" fill="none" stroke="#000" stroke-width="1.3" rx="0"/>
<line x1="105.40" y1="91.90" x2="109.90" y2="91.90" stroke="#000" stroke-width="1.2" stroke-linecap="butt"/>
<text x="0" y="0" font-size="29.3" fill="#000" stroke="#000" stroke-width="0.3" transform="translate(61.01 102.60) scale(0.9872 1)"><tspan>0.0</tspan></text>
<line x1="105.40" y1="177.77" x2="109.90" y2="177.77" stroke="#000" stroke-width="1.2" stroke-linecap="butt"/>
<text x="0" y="0" font-size="29.3" fill="#000" stroke="#000" stroke-width="0.3" transform="translate(38.80 188.47) scale(0.9000 1)"><tspan font-family="'DejaVu Sans', sans-serif">−</tspan><tspan>0.1</tspan></text>
<line x1="105.40" y1="263.64" x2="109.90" y2="263.64" stroke="#000" stroke-width="1.2" stroke-linecap="butt"/>
<text x="0" y="0" font-size="29.3" fill="#000" stroke="#000" stroke-width="0.3" transform="translate(38.59 274.34) scale(0.9689 1)"><tspan font-family="'DejaVu Sans', sans-serif">−</tspan><tspan>0.2</tspan></text>
<line x1="105.40" y1="376.40" x2="109.90" y2="376.40" stroke="#000" stroke-width="1.2" stroke-linecap="butt"/>
<text x="0" y="0" font-size="29.3" fill="#000" stroke="#000" stroke-width="0.3" transform="translate(43.15 386.50) scale(0.9483 1)"><tspan>10</tspan><tspan dy="-10.84" font-size="20.51" font-family="'DejaVu Sans', sans-serif">−</tspan><tspan font-size="20.51">4</tspan></text>
<line x1="105.40" y1="470.10" x2="109.90" y2="470.10" stroke="#000" stroke-width="1.2" stroke-linecap="butt"/>
<text x="0" y="0" font-size="29.3" fill="#000" stroke="#000" stroke-width="0.3" transform="translate(43.12 480.20) scale(0.9647 1)"><tspan>10</tspan><tspan dy="-10.84" font-size="20.51" font-family="'DejaVu Sans', sans-serif">−</tspan><tspan font-size="20.51">6</tspan></text>
<line x1="105.40" y1="563.80" x2="109.90" y2="563.80" stroke="#000" stroke-width="1.2" stroke-linecap="butt"/>
<text x="0" y="0" font-size="29.3" fill="#000" stroke="#000" stroke-width="0.3" transform="translate(42.66 573.90) scale(0.9690 1)"><tspan>10</tspan><tspan dy="-10.84" font-size="20.51" font-family="'DejaVu Sans', sans-serif">−</tspan><tspan font-size="20.51">8</tspan></text>
<line x1="138.08" y1="564.30" x2="138.08" y2="568.80" stroke="#000" stroke-width="1.2" stroke-linecap="butt"/>
<text x="0" y="0" font-size="28.8" fill="#000" stroke="#000" stroke-width="0.3" transform="translate(118.27 593.00) scale(0.9931 1)"><tspan font-family="'DejaVu Sans', sans-serif">−</tspan><tspan>4</tspan></text>
<line x1="253.34" y1="564.30" x2="253.34" y2="568.80" stroke="#000" stroke-width="1.2" stroke-linecap="butt"/>
<text x="0" y="0" font-size="28.8" fill="#000" stroke="#000" stroke-width="0.3" transform="translate(233.43 593.00) scale(0.9917 1)"><tspan font-family="'DejaVu Sans', sans-serif">−</tspan><tspan>2</tspan></text>
<line x1="368.60" y1="564.30" x2="368.60" y2="568.80" stroke="#000" stroke-width="1.2" stroke-linecap="butt"/>
<text x="0" y="0" font-size="28.8" fill="#000" stroke="#000" stroke-width="0.3" transform="translate(361.01 593.00) scale(0.9857 1)"><tspan>0</tspan></text>
<line x1="483.86" y1="564.30" x2="483.86" y2="568.80" stroke="#000" stroke-width="1.2" stroke-linecap="butt"/>
<text x="0" y="0" font-size="28.8" fill="#000" stroke="#000" stroke-width="0.3" transform="translate(476.09 593.00) scale(1.0071 1)"><tspan>2</tspan></text>
<line x1="599.12" y1="564.30" x2="599.12" y2="568.80" stroke="#000" stroke-width="1.2" stroke-linecap="butt"/>
<text x="0" y="0" font-size="28.8" fill="#000" stroke="#000" stroke-width="0.3" transform="translate(590.96 593.00) scale(1.0429 1)"><tspan>4</tspan></text>
<text x="0" y="0" font-size="30.8" fill="#000" stroke="#000" stroke-width="0.3" transform="translate(235.59 625.60) scale(1.0038 1)"><tspan font-style="italic">V</tspan><tspan dy="5.24" font-size="21.56">G</tspan><tspan dy="-5.24">/</tspan><tspan font-style="italic">E</tspan><tspan dy="5.24" font-size="21.56">OX</tspan><tspan dy="-5.24"> [V/(MV/cm)]</tspan></text>
<text x="0" y="0" font-size="30.7" fill="#000" stroke="#000" stroke-width="0.3" transform="translate(27.70 256.21) rotate(-90) scale(0.9116 1)"><tspan font-style="italic">E</tspan><tspan dy="5.22" font-size="21.49">F</tspan><tspan dy="-5.22"> </tspan><tspan font-family="'DejaVu Sans', sans-serif">−</tspan><tspan> </tspan><tspan font-style="italic">E</tspan><tspan dy="5.22" font-size="21.49">C</tspan><tspan dy="-5.22"> [eV]</tspan></text>
<text x="0" y="0" font-size="30.7" fill="#000" stroke="#000" stroke-width="0.3" transform="translate(30.00 525.51) rotate(-90) scale(1.0112 1)"><tspan font-style="italic">I</tspan><tspan dy="5.22" font-size="21.49">D</tspan><tspan dy="-5.22">/</tspan><tspan font-style="italic">W</tspan><tspan> [</tspan><tspan font-style="italic" font-family="'DejaVu Sans', sans-serif">μ</tspan><tspan>A/</tspan><tspan font-style="italic" font-family="'DejaVu Sans', sans-serif">μ</tspan><tspan>m]</tspan></text>
<text x="0" y="0" font-size="40" fill="#000" font-weight="bold" transform="translate(-3.30 22.20) scale(1.0000 1)"><tspan>a</tspan></text>
<clipPath id="cb"><rect x="775.4" y="171.4" width="498.6" height="384.6"/></clipPath>
<clipPath id="cbu"><rect x="775.4" y="171.4" width="498.6" height="265.6"/></clipPath>
<clipPath id="cbl"><rect x="775.4" y="437.0" width="498.6" height="119.0"/></clipPath>
<g clip-path="url(#cb)">
<rect x="775.40" y="437.00" width="498.60" height="119.00" fill="#c2d0c1" stroke="none" stroke-width="0" rx="0"/>
<g clip-path="url(#cbu)"><polygon points="801.00,588.94 801.69,586.93 802.37,584.91 803.06,582.88 803.74,580.84 804.43,578.79 805.11,576.74 805.80,574.67 806.48,572.60 807.17,570.53 807.86,568.45 808.54,566.36 809.23,564.27 809.91,562.17 810.60,560.07 811.28,557.96 811.97,555.85 812.66,553.74 813.34,551.63 814.03,549.51 814.71,547.39 815.40,545.27 816.08,543.15 816.77,541.02 817.45,538.90 818.14,536.78 818.83,534.66 819.51,532.53 820.20,530.41 820.88,528.30 821.57,526.18 822.25,524.07 822.94,521.96 823.63,519.85 824.31,517.75 825.00,515.65 825.68,513.56 826.37,511.47 827.05,509.38 827.74,507.31 828.42,505.24 829.11,503.17 829.80,501.11 830.48,499.07 831.17,497.02 831.85,494.99 832.54,492.97 833.22,490.95 833.91,488.95 834.60,486.95 835.28,484.96 835.97,482.99 836.65,481.02 837.34,479.07 838.02,477.13 838.71,475.20 839.39,473.27 840.08,471.36 840.77,469.47 841.45,467.58 842.14,465.70 842.82,463.84 843.51,461.99 844.19,460.15 844.88,458.33 845.57,456.51 846.25,454.71 846.94,452.92 847.62,451.15 848.31,449.38 848.99,447.64 849.68,445.90 850.36,444.18 851.05,442.47 851.74,440.78 852.42,439.10 853.11,437.43 853.79,435.78 854.48,434.14 855.16,432.52 855.85,430.91 856.54,429.31 857.22,427.72 857.91,426.15 858.59,424.58 859.28,423.03 859.96,421.48 860.65,419.94 861.33,418.42 862.02,416.90 862.71,415.38 863.39,413.87 864.08,412.37 864.76,410.88 865.45,409.39 866.13,407.90 866.82,406.42 867.51,404.94 868.19,403.47 868.88,401.99 869.56,400.52 870.25,399.05 870.93,397.58 871.62,396.11 872.30,394.64 872.99,393.16 873.68,391.69 874.36,390.22 875.05,388.74 875.73,387.26 876.42,385.78 877.10,384.30 877.79,382.81 878.47,381.32 879.16,379.83 879.85,378.34 880.53,376.84 881.22,375.34 881.90,373.83 882.59,372.32 883.27,370.81 883.96,369.29 884.65,367.77 885.33,366.24 886.02,364.71 886.70,363.18 887.39,361.65 888.07,360.11 888.76,358.57 889.44,357.03 890.13,355.48 890.82,353.94 891.50,352.39 892.19,350.84 892.87,349.29 893.56,347.74 894.24,346.19 894.93,344.64 895.62,343.08 896.30,341.53 896.99,339.98 897.67,338.43 898.36,336.88 899.04,335.33 899.73,333.79 900.41,332.24 901.10,330.70 901.79,329.17 902.47,327.63 903.16,326.10 903.84,324.57 904.53,323.05 905.21,321.54 905.90,320.02 906.59,318.52 907.27,317.02 907.96,315.52 908.64,314.04 909.33,312.56 910.01,311.08 910.70,309.62 911.38,308.16 912.07,306.71 912.76,305.27 913.44,303.84 914.13,302.42 914.81,301.01 915.50,299.61 916.18,298.22 916.87,296.84 917.56,295.48 918.24,294.12 918.93,292.77 919.61,291.43 920.30,290.11 920.98,288.79 921.67,287.48 922.35,286.19 923.04,284.90 923.73,283.63 924.41,282.37 925.10,281.11 925.78,279.87 926.47,278.64 927.15,277.42 927.84,276.20 928.53,275.00 929.21,273.81 929.90,272.63 930.58,271.47 931.27,270.31 931.95,269.16 932.64,268.02 933.32,266.90 934.01,265.78 934.70,264.67 935.38,263.58 936.07,262.49 936.75,261.42 937.44,260.36 938.12,259.31 938.81,258.26 939.49,257.23 940.18,256.21 940.87,255.20 941.55,254.20 942.24,253.21 942.92,252.23 943.61,251.27 944.29,250.31 944.98,249.36 945.67,248.43 946.35,247.50 947.04,246.59 947.72,245.68 948.41,244.79 949.09,243.91 949.78,243.04 950.46,242.18 951.15,241.33 951.84,240.49 952.52,239.66 953.21,238.84 953.89,238.03 954.58,237.24 955.26,236.45 955.95,235.67 956.64,234.91 957.32,234.16 958.01,233.41 958.69,232.68 959.38,231.96 960.06,231.25 960.75,230.55 961.43,229.86 962.12,229.18 962.81,228.51 963.49,227.85 964.18,227.21 964.86,226.57 965.55,225.95 966.23,225.33 966.92,224.73 967.61,224.14 968.29,223.55 968.98,222.98 969.66,222.42 970.35,221.87 971.03,221.34 971.72,220.81 972.40,220.29 973.09,219.79 973.78,219.29 974.46,218.81 975.15,218.33 975.83,217.87 976.52,217.42 977.20,216.98 977.89,216.55 978.58,216.13 979.26,215.72 979.95,215.32 980.63,214.93 981.32,214.56 982.00,214.19 982.69,213.84 983.37,213.50 984.06,213.16 984.75,212.84 985.43,212.53 986.12,212.23 986.80,211.95 987.49,211.67 988.17,211.40 988.86,211.14 989.55,210.90 990.23,210.67 990.92,210.44 991.60,210.23 992.29,210.03 992.97,209.84 993.66,209.66 994.34,209.49 995.03,209.33 995.72,209.19 996.40,209.05 997.09,208.93 997.77,208.82 998.46,208.71 999.14,208.62 999.83,208.54 1000.52,208.47 1001.20,208.41 1001.89,208.37 1002.57,208.33 1003.26,208.30 1003.94,208.29 1004.63,208.29 1005.31,208.29 1006.00,208.30 1006.69,208.29 1007.37,208.29 1008.06,208.29 1008.74,208.30 1009.43,208.33 1010.11,208.37 1010.80,208.41 1011.48,208.47 1012.17,208.54 1012.86,208.62 1013.54,208.71 1014.23,208.82 1014.91,208.93 1015.60,209.05 1016.28,209.19 1016.97,209.33 1017.66,209.49 1018.34,209.66 1019.03,209.84 1019.71,210.03 1020.40,210.23 1021.08,210.44 1021.77,210.67 1022.45,210.90 1023.14,211.14 1023.83,211.40 1024.51,211.67 1025.20,211.95 1025.88,212.23 1026.57,212.53 1027.25,212.84 1027.94,213.16 1028.63,213.50 1029.31,213.84 1030.00,214.19 1030.68,214.56 1031.37,214.93 1032.05,215.32 1032.74,215.72 1033.42,216.13 1034.11,216.55 1034.80,216.98 1035.48,217.42 1036.17,217.87 1036.85,218.33 1037.54,218.81 1038.22,219.29 1038.91,219.79 1039.60,220.29 1040.28,220.81 1040.97,221.34 1041.65,221.87 1042.34,222.42 1043.02,222.98 1043.71,223.55 1044.39,224.14 1045.08,224.73 1045.77,225.33 1046.45,225.95 1047.14,226.57 1047.82,227.21 1048.51,227.85 1049.19,228.51 1049.88,229.18 1050.57,229.86 1051.25,230.55 1051.94,231.25 1052.62,231.96 1053.31,232.68 1053.99,233.41 1054.68,234.16 1055.36,234.91 1056.05,235.67 1056.74,236.45 1057.42,237.24 1058.11,238.03 1058.79,238.84 1059.48,239.66 1060.16,240.49 1060.85,241.33 1061.54,242.18 1062.22,243.04 1062.91,243.91 1063.59,244.79 1064.28,245.68 1064.96,246.59 1065.65,247.50 1066.33,248.43 1067.02,249.36 1067.71,250.31 1068.39,251.27 1069.08,252.23 1069.76,253.21 1070.45,254.20 1071.13,255.20 1071.82,256.21 1072.51,257.23 1073.19,258.26 1073.88,259.31 1074.56,260.36 1075.25,261.42 1075.93,262.49 1076.62,263.58 1077.30,264.67 1077.99,265.78 1078.68,266.90 1079.36,268.02 1080.05,269.16 1080.73,270.31 1081.42,271.47 1082.10,272.63 1082.79,273.81 1083.47,275.00 1084.16,276.20 1084.85,277.42 1085.53,278.64 1086.22,279.87 1086.90,281.11 1087.59,282.37 1088.27,283.63 1088.96,284.90 1089.65,286.19 1090.33,287.48 1091.02,288.79 1091.70,290.11 1092.39,291.43 1093.07,292.77 1093.76,294.12 1094.44,295.48 1095.13,296.84 1095.82,298.22 1096.50,299.61 1097.19,301.01 1097.87,302.42 1098.56,303.84 1099.24,305.27 1099.93,306.71 1100.62,308.16 1101.30,309.62 1101.99,311.08 1102.67,312.56 1103.36,314.04 1104.04,315.52 1104.73,317.02 1105.41,318.52 1106.10,320.02 1106.79,321.54 1107.47,323.05 1108.16,324.57 1108.84,326.10 1109.53,327.63 1110.21,329.17 1110.90,330.70 1111.59,332.24 1112.27,333.79 1112.96,335.33 1113.64,336.88 1114.33,338.43 1115.01,339.98 1115.70,341.53 1116.38,343.08 1117.07,344.64 1117.76,346.19 1118.44,347.74 1119.13,349.29 1119.81,350.84 1120.50,352.39 1121.18,353.94 1121.87,355.48 1122.56,357.03 1123.24,358.57 1123.93,360.11 1124.61,361.65 1125.30,363.18 1125.98,364.71 1126.67,366.24 1127.35,367.77 1128.04,369.29 1128.73,370.81 1129.41,372.32 1130.10,373.83 1130.78,375.34 1131.47,376.84 1132.15,378.34 1132.84,379.83 1133.53,381.32 1134.21,382.81 1134.90,384.30 1135.58,385.78 1136.27,387.26 1136.95,388.74 1137.64,390.22 1138.32,391.69 1139.01,393.16 1139.70,394.64 1140.38,396.11 1141.07,397.58 1141.75,399.05 1142.44,400.52 1143.12,401.99 1143.81,403.47 1144.49,404.94 1145.18,406.42 1145.87,407.90 1146.55,409.39 1147.24,410.88 1147.92,412.37 1148.61,413.87 1149.29,415.38 1149.98,416.90 1150.67,418.42 1151.35,419.94 1152.04,421.48 1152.72,423.03 1153.41,424.58 1154.09,426.15 1154.78,427.72 1155.46,429.31 1156.15,430.91 1156.84,432.52 1157.52,434.14 1158.21,435.78 1158.89,437.43 1159.58,439.10 1160.26,440.78 1160.95,442.47 1161.64,444.18 1162.32,445.90 1163.01,447.64 1163.69,449.38 1164.38,451.15 1165.06,452.92 1165.75,454.71 1166.43,456.51 1167.12,458.33 1167.81,460.15 1168.49,461.99 1169.18,463.84 1169.86,465.70 1170.55,467.58 1171.23,469.47 1171.92,471.36 1172.61,473.27 1173.29,475.20 1173.98,477.13 1174.66,479.07 1175.35,481.02 1176.03,482.99 1176.72,484.96 1177.40,486.95 1178.09,488.95 1178.78,490.95 1179.46,492.97 1180.15,494.99 1180.83,497.02 1181.52,499.07 1182.20,501.11 1182.89,503.17 1183.58,505.24 1184.26,507.31 1184.95,509.38 1185.63,511.47 1186.32,513.56 1187.00,515.65 1187.69,517.75 1188.37,519.85 1189.06,521.96 1189.75,524.07 1190.43,526.18 1191.12,528.30 1191.80,530.41 1192.49,532.53 1193.17,534.66 1193.86,536.78 1194.55,538.90 1195.23,541.02 1195.92,543.15 1196.60,545.27 1197.29,547.39 1197.97,549.51 1198.66,551.63 1199.34,553.74 1200.03,555.85 1200.72,557.96 1201.40,560.07 1202.09,562.17 1202.77,564.27 1203.46,566.36 1204.14,568.45 1204.83,570.53 1205.52,572.60 1206.20,574.67 1206.89,576.74 1207.57,578.79 1208.26,580.84 1208.94,582.88 1209.63,584.91 1210.31,586.93 1211.00,588.94 1211.00,616.00 801.00,616.00" fill="#ddc9ee"/></g>
<g clip-path="url(#cbl)"><polygon points="801.00,588.94 801.69,586.93 802.37,584.91 803.06,582.88 803.74,580.84 804.43,578.79 805.11,576.74 805.80,574.67 806.48,572.60 807.17,570.53 807.86,568.45 808.54,566.36 809.23,564.27 809.91,562.17 810.60,560.07 811.28,557.96 811.97,555.85 812.66,553.74 813.34,551.63 814.03,549.51 814.71,547.39 815.40,545.27 816.08,543.15 816.77,541.02 817.45,538.90 818.14,536.78 818.83,534.66 819.51,532.53 820.20,530.41 820.88,528.30 821.57,526.18 822.25,524.07 822.94,521.96 823.63,519.85 824.31,517.75 825.00,515.65 825.68,513.56 826.37,511.47 827.05,509.38 827.74,507.31 828.42,505.24 829.11,503.17 829.80,501.11 830.48,499.07 831.17,497.02 831.85,494.99 832.54,492.97 833.22,490.95 833.91,488.95 834.60,486.95 835.28,484.96 835.97,482.99 836.65,481.02 837.34,479.07 838.02,477.13 838.71,475.20 839.39,473.27 840.08,471.36 840.77,469.47 841.45,467.58 842.14,465.70 842.82,463.84 843.51,461.99 844.19,460.15 844.88,458.33 845.57,456.51 846.25,454.71 846.94,452.92 847.62,451.15 848.31,449.38 848.99,447.64 849.68,445.90 850.36,444.18 851.05,442.47 851.74,440.78 852.42,439.10 853.11,437.43 853.79,435.78 854.48,434.14 855.16,432.52 855.85,430.91 856.54,429.31 857.22,427.72 857.91,426.15 858.59,424.58 859.28,423.03 859.96,421.48 860.65,419.94 861.33,418.42 862.02,416.90 862.71,415.38 863.39,413.87 864.08,412.37 864.76,410.88 865.45,409.39 866.13,407.90 866.82,406.42 867.51,404.94 868.19,403.47 868.88,401.99 869.56,400.52 870.25,399.05 870.93,397.58 871.62,396.11 872.30,394.64 872.99,393.16 873.68,391.69 874.36,390.22 875.05,388.74 875.73,387.26 876.42,385.78 877.10,384.30 877.79,382.81 878.47,381.32 879.16,379.83 879.85,378.34 880.53,376.84 881.22,375.34 881.90,373.83 882.59,372.32 883.27,370.81 883.96,369.29 884.65,367.77 885.33,366.24 886.02,364.71 886.70,363.18 887.39,361.65 888.07,360.11 888.76,358.57 889.44,357.03 890.13,355.48 890.82,353.94 891.50,352.39 892.19,350.84 892.87,349.29 893.56,347.74 894.24,346.19 894.93,344.64 895.62,343.08 896.30,341.53 896.99,339.98 897.67,338.43 898.36,336.88 899.04,335.33 899.73,333.79 900.41,332.24 901.10,330.70 901.79,329.17 902.47,327.63 903.16,326.10 903.84,324.57 904.53,323.05 905.21,321.54 905.90,320.02 906.59,318.52 907.27,317.02 907.96,315.52 908.64,314.04 909.33,312.56 910.01,311.08 910.70,309.62 911.38,308.16 912.07,306.71 912.76,305.27 913.44,303.84 914.13,302.42 914.81,301.01 915.50,299.61 916.18,298.22 916.87,296.84 917.56,295.48 918.24,294.12 918.93,292.77 919.61,291.43 920.30,290.11 920.98,288.79 921.67,287.48 922.35,286.19 923.04,284.90 923.73,283.63 924.41,282.37 925.10,281.11 925.78,279.87 926.47,278.64 927.15,277.42 927.84,276.20 928.53,275.00 929.21,273.81 929.90,272.63 930.58,271.47 931.27,270.31 931.95,269.16 932.64,268.02 933.32,266.90 934.01,265.78 934.70,264.67 935.38,263.58 936.07,262.49 936.75,261.42 937.44,260.36 938.12,259.31 938.81,258.26 939.49,257.23 940.18,256.21 940.87,255.20 941.55,254.20 942.24,253.21 942.92,252.23 943.61,251.27 944.29,250.31 944.98,249.36 945.67,248.43 946.35,247.50 947.04,246.59 947.72,245.68 948.41,244.79 949.09,243.91 949.78,243.04 950.46,242.18 951.15,241.33 951.84,240.49 952.52,239.66 953.21,238.84 953.89,238.03 954.58,237.24 955.26,236.45 955.95,235.67 956.64,234.91 957.32,234.16 958.01,233.41 958.69,232.68 959.38,231.96 960.06,231.25 960.75,230.55 961.43,229.86 962.12,229.18 962.81,228.51 963.49,227.85 964.18,227.21 964.86,226.57 965.55,225.95 966.23,225.33 966.92,224.73 967.61,224.14 968.29,223.55 968.98,222.98 969.66,222.42 970.35,221.87 971.03,221.34 971.72,220.81 972.40,220.29 973.09,219.79 973.78,219.29 974.46,218.81 975.15,218.33 975.83,217.87 976.52,217.42 977.20,216.98 977.89,216.55 978.58,216.13 979.26,215.72 979.95,215.32 980.63,214.93 981.32,214.56 982.00,214.19 982.69,213.84 983.37,213.50 984.06,213.16 984.75,212.84 985.43,212.53 986.12,212.23 986.80,211.95 987.49,211.67 988.17,211.40 988.86,211.14 989.55,210.90 990.23,210.67 990.92,210.44 991.60,210.23 992.29,210.03 992.97,209.84 993.66,209.66 994.34,209.49 995.03,209.33 995.72,209.19 996.40,209.05 997.09,208.93 997.77,208.82 998.46,208.71 999.14,208.62 999.83,208.54 1000.52,208.47 1001.20,208.41 1001.89,208.37 1002.57,208.33 1003.26,208.30 1003.94,208.29 1004.63,208.29 1005.31,208.29 1006.00,208.30 1006.69,208.29 1007.37,208.29 1008.06,208.29 1008.74,208.30 1009.43,208.33 1010.11,208.37 1010.80,208.41 1011.48,208.47 1012.17,208.54 1012.86,208.62 1013.54,208.71 1014.23,208.82 1014.91,208.93 1015.60,209.05 1016.28,209.19 1016.97,209.33 1017.66,209.49 1018.34,209.66 1019.03,209.84 1019.71,210.03 1020.40,210.23 1021.08,210.44 1021.77,210.67 1022.45,210.90 1023.14,211.14 1023.83,211.40 1024.51,211.67 1025.20,211.95 1025.88,212.23 1026.57,212.53 1027.25,212.84 1027.94,213.16 1028.63,213.50 1029.31,213.84 1030.00,214.19 1030.68,214.56 1031.37,214.93 1032.05,215.32 1032.74,215.72 1033.42,216.13 1034.11,216.55 1034.80,216.98 1035.48,217.42 1036.17,217.87 1036.85,218.33 1037.54,218.81 1038.22,219.29 1038.91,219.79 1039.60,220.29 1040.28,220.81 1040.97,221.34 1041.65,221.87 1042.34,222.42 1043.02,222.98 1043.71,223.55 1044.39,224.14 1045.08,224.73 1045.77,225.33 1046.45,225.95 1047.14,226.57 1047.82,227.21 1048.51,227.85 1049.19,228.51 1049.88,229.18 1050.57,229.86 1051.25,230.55 1051.94,231.25 1052.62,231.96 1053.31,232.68 1053.99,233.41 1054.68,234.16 1055.36,234.91 1056.05,235.67 1056.74,236.45 1057.42,237.24 1058.11,238.03 1058.79,238.84 1059.48,239.66 1060.16,240.49 1060.85,241.33 1061.54,242.18 1062.22,243.04 1062.91,243.91 1063.59,244.79 1064.28,245.68 1064.96,246.59 1065.65,247.50 1066.33,248.43 1067.02,249.36 1067.71,250.31 1068.39,251.27 1069.08,252.23 1069.76,253.21 1070.45,254.20 1071.13,255.20 1071.82,256.21 1072.51,257.23 1073.19,258.26 1073.88,259.31 1074.56,260.36 1075.25,261.42 1075.93,262.49 1076.62,263.58 1077.30,264.67 1077.99,265.78 1078.68,266.90 1079.36,268.02 1080.05,269.16 1080.73,270.31 1081.42,271.47 1082.10,272.63 1082.79,273.81 1083.47,275.00 1084.16,276.20 1084.85,277.42 1085.53,278.64 1086.22,279.87 1086.90,281.11 1087.59,282.37 1088.27,283.63 1088.96,284.90 1089.65,286.19 1090.33,287.48 1091.02,288.79 1091.70,290.11 1092.39,291.43 1093.07,292.77 1093.76,294.12 1094.44,295.48 1095.13,296.84 1095.82,298.22 1096.50,299.61 1097.19,301.01 1097.87,302.42 1098.56,303.84 1099.24,305.27 1099.93,306.71 1100.62,308.16 1101.30,309.62 1101.99,311.08 1102.67,312.56 1103.36,314.04 1104.04,315.52 1104.73,317.02 1105.41,318.52 1106.10,320.02 1106.79,321.54 1107.47,323.05 1108.16,324.57 1108.84,326.10 1109.53,327.63 1110.21,329.17 1110.90,330.70 1111.59,332.24 1112.27,333.79 1112.96,335.33 1113.64,336.88 1114.33,338.43 1115.01,339.98 1115.70,341.53 1116.38,343.08 1117.07,344.64 1117.76,346.19 1118.44,347.74 1119.13,349.29 1119.81,350.84 1120.50,352.39 1121.18,353.94 1121.87,355.48 1122.56,357.03 1123.24,358.57 1123.93,360.11 1124.61,361.65 1125.30,363.18 1125.98,364.71 1126.67,366.24 1127.35,367.77 1128.04,369.29 1128.73,370.81 1129.41,372.32 1130.10,373.83 1130.78,375.34 1131.47,376.84 1132.15,378.34 1132.84,379.83 1133.53,381.32 1134.21,382.81 1134.90,384.30 1135.58,385.78 1136.27,387.26 1136.95,388.74 1137.64,390.22 1138.32,391.69 1139.01,393.16 1139.70,394.64 1140.38,396.11 1141.07,397.58 1141.75,399.05 1142.44,400.52 1143.12,401.99 1143.81,403.47 1144.49,404.94 1145.18,406.42 1145.87,407.90 1146.55,409.39 1147.24,410.88 1147.92,412.37 1148.61,413.87 1149.29,415.38 1149.98,416.90 1150.67,418.42 1151.35,419.94 1152.04,421.48 1152.72,423.03 1153.41,424.58 1154.09,426.15 1154.78,427.72 1155.46,429.31 1156.15,430.91 1156.84,432.52 1157.52,434.14 1158.21,435.78 1158.89,437.43 1159.58,439.10 1160.26,440.78 1160.95,442.47 1161.64,444.18 1162.32,445.90 1163.01,447.64 1163.69,449.38 1164.38,451.15 1165.06,452.92 1165.75,454.71 1166.43,456.51 1167.12,458.33 1167.81,460.15 1168.49,461.99 1169.18,463.84 1169.86,465.70 1170.55,467.58 1171.23,469.47 1171.92,471.36 1172.61,473.27 1173.29,475.20 1173.98,477.13 1174.66,479.07 1175.35,481.02 1176.03,482.99 1176.72,484.96 1177.40,486.95 1178.09,488.95 1178.78,490.95 1179.46,492.97 1180.15,494.99 1180.83,497.02 1181.52,499.07 1182.20,501.11 1182.89,503.17 1183.58,505.24 1184.26,507.31 1184.95,509.38 1185.63,511.47 1186.32,513.56 1187.00,515.65 1187.69,517.75 1188.37,519.85 1189.06,521.96 1189.75,524.07 1190.43,526.18 1191.12,528.30 1191.80,530.41 1192.49,532.53 1193.17,534.66 1193.86,536.78 1194.55,538.90 1195.23,541.02 1195.92,543.15 1196.60,545.27 1197.29,547.39 1197.97,549.51 1198.66,551.63 1199.34,553.74 1200.03,555.85 1200.72,557.96 1201.40,560.07 1202.09,562.17 1202.77,564.27 1203.46,566.36 1204.14,568.45 1204.83,570.53 1205.52,572.60 1206.20,574.67 1206.89,576.74 1207.57,578.79 1208.26,580.84 1208.94,582.88 1209.63,584.91 1210.31,586.93 1211.00,588.94 1211.00,616.00 801.00,616.00" fill="#acafb4"/></g>
<rect x="1009.90" y="171.40" width="29.60" height="384.60" fill="rgba(110,110,110,0.30)" stroke="none" stroke-width="0" rx="0"/>
<line x1="1010.40" y1="171.40" x2="1010.40" y2="556.00" stroke="rgba(90,90,90,0.35)" stroke-width="1.0" stroke-linecap="butt"/>
<line x1="1039.00" y1="171.40" x2="1039.00" y2="556.00" stroke="rgba(90,90,90,0.35)" stroke-width="1.0" stroke-linecap="butt"/>
<line x1="775.40" y1="437.00" x2="1274.00" y2="437.00" stroke="#38603a" stroke-width="2.9" stroke-linecap="butt"/>
<line x1="1094.50" y1="171.40" x2="1094.50" y2="556.00" stroke="#0c3a6e" stroke-width="4.4" stroke-linecap="butt" stroke-dasharray="4.4 6.0" stroke-dashoffset="7.9"/>
<line x1="1128.60" y1="171.40" x2="1128.60" y2="556.00" stroke="#7f9bc2" stroke-width="4.4" stroke-linecap="butt" stroke-dasharray="4.4 6.0" stroke-dashoffset="7.9"/>
<polyline points="801.00,588.94 801.69,586.93 802.37,584.91 803.06,582.88 803.74,580.84 804.43,578.79 805.11,576.74 805.80,574.67 806.48,572.60 807.17,570.53 807.86,568.45 808.54,566.36 809.23,564.27 809.91,562.17 810.60,560.07 811.28,557.96 811.97,555.85 812.66,553.74 813.34,551.63 814.03,549.51 814.71,547.39 815.40,545.27 816.08,543.15 816.77,541.02 817.45,538.90 818.14,536.78 818.83,534.66 819.51,532.53 820.20,530.41 820.88,528.30 821.57,526.18 822.25,524.07 822.94,521.96 823.63,519.85 824.31,517.75 825.00,515.65 825.68,513.56 826.37,511.47 827.05,509.38 827.74,507.31 828.42,505.24 829.11,503.17 829.80,501.11 830.48,499.07 831.17,497.02 831.85,494.99 832.54,492.97 833.22,490.95 833.91,488.95 834.60,486.95 835.28,484.96 835.97,482.99 836.65,481.02 837.34,479.07 838.02,477.13 838.71,475.20 839.39,473.27 840.08,471.36 840.77,469.47 841.45,467.58 842.14,465.70 842.82,463.84 843.51,461.99 844.19,460.15 844.88,458.33 845.57,456.51 846.25,454.71 846.94,452.92 847.62,451.15 848.31,449.38 848.99,447.64 849.68,445.90 850.36,444.18 851.05,442.47 851.74,440.78 852.42,439.10 853.11,437.43 853.79,435.78 854.48,434.14 855.16,432.52 855.85,430.91 856.54,429.31 857.22,427.72 857.91,426.15 858.59,424.58 859.28,423.03 859.96,421.48 860.65,419.94 861.33,418.42 862.02,416.90 862.71,415.38 863.39,413.87 864.08,412.37 864.76,410.88 865.45,409.39 866.13,407.90 866.82,406.42 867.51,404.94 868.19,403.47 868.88,401.99 869.56,400.52 870.25,399.05 870.93,397.58 871.62,396.11 872.30,394.64 872.99,393.16 873.68,391.69 874.36,390.22 875.05,388.74 875.73,387.26 876.42,385.78 877.10,384.30 877.79,382.81 878.47,381.32 879.16,379.83 879.85,378.34 880.53,376.84 881.22,375.34 881.90,373.83 882.59,372.32 883.27,370.81 883.96,369.29 884.65,367.77 885.33,366.24 886.02,364.71 886.70,363.18 887.39,361.65 888.07,360.11 888.76,358.57 889.44,357.03 890.13,355.48 890.82,353.94 891.50,352.39 892.19,350.84 892.87,349.29 893.56,347.74 894.24,346.19 894.93,344.64 895.62,343.08 896.30,341.53 896.99,339.98 897.67,338.43 898.36,336.88 899.04,335.33 899.73,333.79 900.41,332.24 901.10,330.70 901.79,329.17 902.47,327.63 903.16,326.10 903.84,324.57 904.53,323.05 905.21,321.54 905.90,320.02 906.59,318.52 907.27,317.02 907.96,315.52 908.64,314.04 909.33,312.56 910.01,311.08 910.70,309.62 911.38,308.16 912.07,306.71 912.76,305.27 913.44,303.84 914.13,302.42 914.81,301.01 915.50,299.61 916.18,298.22 916.87,296.84 917.56,295.48 918.24,294.12 918.93,292.77 919.61,291.43 920.30,290.11 920.98,288.79 921.67,287.48 922.35,286.19 923.04,284.90 923.73,283.63 924.41,282.37 925.10,281.11 925.78,279.87 926.47,278.64 927.15,277.42 927.84,276.20 928.53,275.00 929.21,273.81 929.90,272.63 930.58,271.47 931.27,270.31 931.95,269.16 932.64,268.02 933.32,266.90 934.01,265.78 934.70,264.67 935.38,263.58 936.07,262.49 936.75,261.42 937.44,260.36 938.12,259.31 938.81,258.26 939.49,257.23 940.18,256.21 940.87,255.20 941.55,254.20 942.24,253.21 942.92,252.23 943.61,251.27 944.29,250.31 944.98,249.36 945.67,248.43 946.35,247.50 947.04,246.59 947.72,245.68 948.41,244.79 949.09,243.91 949.78,243.04 950.46,242.18 951.15,241.33 951.84,240.49 952.52,239.66 953.21,238.84 953.89,238.03 954.58,237.24 955.26,236.45 955.95,235.67 956.64,234.91 957.32,234.16 958.01,233.41 958.69,232.68 959.38,231.96 960.06,231.25 960.75,230.55 961.43,229.86 962.12,229.18 962.81,228.51 963.49,227.85 964.18,227.21 964.86,226.57 965.55,225.95 966.23,225.33 966.92,224.73 967.61,224.14 968.29,223.55 968.98,222.98 969.66,222.42 970.35,221.87 971.03,221.34 971.72,220.81 972.40,220.29 973.09,219.79 973.78,219.29 974.46,218.81 975.15,218.33 975.83,217.87 976.52,217.42 977.20,216.98 977.89,216.55 978.58,216.13 979.26,215.72 979.95,215.32 980.63,214.93 981.32,214.56 982.00,214.19 982.69,213.84 983.37,213.50 984.06,213.16 984.75,212.84 985.43,212.53 986.12,212.23 986.80,211.95 987.49,211.67 988.17,211.40 988.86,211.14 989.55,210.90 990.23,210.67 990.92,210.44 991.60,210.23 992.29,210.03 992.97,209.84 993.66,209.66 994.34,209.49 995.03,209.33 995.72,209.19 996.40,209.05 997.09,208.93 997.77,208.82 998.46,208.71 999.14,208.62 999.83,208.54 1000.52,208.47 1001.20,208.41 1001.89,208.37 1002.57,208.33 1003.26,208.30 1003.94,208.29 1004.63,208.29 1005.31,208.29 1006.00,208.30 1006.69,208.29 1007.37,208.29 1008.06,208.29 1008.74,208.30 1009.43,208.33 1010.11,208.37 1010.80,208.41 1011.48,208.47 1012.17,208.54 1012.86,208.62 1013.54,208.71 1014.23,208.82 1014.91,208.93 1015.60,209.05 1016.28,209.19 1016.97,209.33 1017.66,209.49 1018.34,209.66 1019.03,209.84 1019.71,210.03 1020.40,210.23 1021.08,210.44 1021.77,210.67 1022.45,210.90 1023.14,211.14 1023.83,211.40 1024.51,211.67 1025.20,211.95 1025.88,212.23 1026.57,212.53 1027.25,212.84 1027.94,213.16 1028.63,213.50 1029.31,213.84 1030.00,214.19 1030.68,214.56 1031.37,214.93 1032.05,215.32 1032.74,215.72 1033.42,216.13 1034.11,216.55 1034.80,216.98 1035.48,217.42 1036.17,217.87 1036.85,218.33 1037.54,218.81 1038.22,219.29 1038.91,219.79 1039.60,220.29 1040.28,220.81 1040.97,221.34 1041.65,221.87 1042.34,222.42 1043.02,222.98 1043.71,223.55 1044.39,224.14 1045.08,224.73 1045.77,225.33 1046.45,225.95 1047.14,226.57 1047.82,227.21 1048.51,227.85 1049.19,228.51 1049.88,229.18 1050.57,229.86 1051.25,230.55 1051.94,231.25 1052.62,231.96 1053.31,232.68 1053.99,233.41 1054.68,234.16 1055.36,234.91 1056.05,235.67 1056.74,236.45 1057.42,237.24 1058.11,238.03 1058.79,238.84 1059.48,239.66 1060.16,240.49 1060.85,241.33 1061.54,242.18 1062.22,243.04 1062.91,243.91 1063.59,244.79 1064.28,245.68 1064.96,246.59 1065.65,247.50 1066.33,248.43 1067.02,249.36 1067.71,250.31 1068.39,251.27 1069.08,252.23 1069.76,253.21 1070.45,254.20 1071.13,255.20 1071.82,256.21 1072.51,257.23 1073.19,258.26 1073.88,259.31 1074.56,260.36 1075.25,261.42 1075.93,262.49 1076.62,263.58 1077.30,264.67 1077.99,265.78 1078.68,266.90 1079.36,268.02 1080.05,269.16 1080.73,270.31 1081.42,271.47 1082.10,272.63 1082.79,273.81 1083.47,275.00 1084.16,276.20 1084.85,277.42 1085.53,278.64 1086.22,279.87 1086.90,281.11 1087.59,282.37 1088.27,283.63 1088.96,284.90 1089.65,286.19 1090.33,287.48 1091.02,288.79 1091.70,290.11 1092.39,291.43 1093.07,292.77 1093.76,294.12 1094.44,295.48 1095.13,296.84 1095.82,298.22 1096.50,299.61 1097.19,301.01 1097.87,302.42 1098.56,303.84 1099.24,305.27 1099.93,306.71 1100.62,308.16 1101.30,309.62 1101.99,311.08 1102.67,312.56 1103.36,314.04 1104.04,315.52 1104.73,317.02 1105.41,318.52 1106.10,320.02 1106.79,321.54 1107.47,323.05 1108.16,324.57 1108.84,326.10 1109.53,327.63 1110.21,329.17 1110.90,330.70 1111.59,332.24 1112.27,333.79 1112.96,335.33 1113.64,336.88 1114.33,338.43 1115.01,339.98 1115.70,341.53 1116.38,343.08 1117.07,344.64 1117.76,346.19 1118.44,347.74 1119.13,349.29 1119.81,350.84 1120.50,352.39 1121.18,353.94 1121.87,355.48 1122.56,357.03 1123.24,358.57 1123.93,360.11 1124.61,361.65 1125.30,363.18 1125.98,364.71 1126.67,366.24 1127.35,367.77 1128.04,369.29 1128.73,370.81 1129.41,372.32 1130.10,373.83 1130.78,375.34 1131.47,376.84 1132.15,378.34 1132.84,379.83 1133.53,381.32 1134.21,382.81 1134.90,384.30 1135.58,385.78 1136.27,387.26 1136.95,388.74 1137.64,390.22 1138.32,391.69 1139.01,393.16 1139.70,394.64 1140.38,396.11 1141.07,397.58 1141.75,399.05 1142.44,400.52 1143.12,401.99 1143.81,403.47 1144.49,404.94 1145.18,406.42 1145.87,407.90 1146.55,409.39 1147.24,410.88 1147.92,412.37 1148.61,413.87 1149.29,415.38 1149.98,416.90 1150.67,418.42 1151.35,419.94 1152.04,421.48 1152.72,423.03 1153.41,424.58 1154.09,426.15 1154.78,427.72 1155.46,429.31 1156.15,430.91 1156.84,432.52 1157.52,434.14 1158.21,435.78 1158.89,437.43 1159.58,439.10 1160.26,440.78 1160.95,442.47 1161.64,444.18 1162.32,445.90 1163.01,447.64 1163.69,449.38 1164.38,451.15 1165.06,452.92 1165.75,454.71 1166.43,456.51 1167.12,458.33 1167.81,460.15 1168.49,461.99 1169.18,463.84 1169.86,465.70 1170.55,467.58 1171.23,469.47 1171.92,471.36 1172.61,473.27 1173.29,475.20 1173.98,477.13 1174.66,479.07 1175.35,481.02 1176.03,482.99 1176.72,484.96 1177.40,486.95 1178.09,488.95 1178.78,490.95 1179.46,492.97 1180.15,494.99 1180.83,497.02 1181.52,499.07 1182.20,501.11 1182.89,503.17 1183.58,505.24 1184.26,507.31 1184.95,509.38 1185.63,511.47 1186.32,513.56 1187.00,515.65 1187.69,517.75 1188.37,519.85 1189.06,521.96 1189.75,524.07 1190.43,526.18 1191.12,528.30 1191.80,530.41 1192.49,532.53 1193.17,534.66 1193.86,536.78 1194.55,538.90 1195.23,541.02 1195.92,543.15 1196.60,545.27 1197.29,547.39 1197.97,549.51 1198.66,551.63 1199.34,553.74 1200.03,555.85 1200.72,557.96 1201.40,560.07 1202.09,562.17 1202.77,564.27 1203.46,566.36 1204.14,568.45 1204.83,570.53 1205.52,572.60 1206.20,574.67 1206.89,576.74 1207.57,578.79 1208.26,580.84 1208.94,582.88 1209.63,584.91 1210.31,586.93 1211.00,588.94" fill="none" stroke="#52008c" stroke-width="3.0" stroke-linejoin="round" stroke-linecap="butt"/>
<line x1="1004.30" y1="208.30" x2="1004.30" y2="558.00" stroke="#52008c" stroke-width="3.0" stroke-linecap="butt"/>
<line x1="806.90" y1="556.00" x2="953.10" y2="210.30" stroke="#a0209a" stroke-width="4.8" stroke-linecap="butt" stroke-dasharray="30.7 7.7 4.8 7.7"/>
<line x1="1206.90" y1="556.00" x2="1055.50" y2="198.00" stroke="#a0209a" stroke-width="4.8" stroke-linecap="butt" stroke-dasharray="30.7 7.7 4.8 7.7"/>
</g>
<line x1="1088.80" y1="290.40" x2="1127.00" y2="290.40" stroke="#000" stroke-width="2.2" stroke-linecap="butt"/>
<polygon points="1137.60,290.40 1125.60,296.00 1125.60,284.80" fill="#000"/>
<line x1="1128.60" y1="290.40" x2="1128.60" y2="357.00" stroke="#000" stroke-width="2.2" stroke-linecap="butt"/>
<polygon points="1128.60,368.40 1123.00,356.40 1134.20,356.40" fill="#000"/>
<text x="0" y="0" font-size="26.5" fill="#000" stroke="#000" stroke-width="0.3" transform="translate(1130.11 272.00) scale(0.8937 1)"><tspan font-style="italic">E</tspan><tspan dy="4.50" font-size="18.55">C</tspan><tspan dy="-4.50"> </tspan><tspan font-family="'DejaVu Sans', sans-serif">−</tspan><tspan> 82 meV</tspan></text>
<text x="0" y="0" font-size="25.8" fill="#000" stroke="#000" stroke-width="0.3" transform="translate(1134.20 328.20) scale(0.9025 1)"><tspan font-family="'DejaVu Sans', sans-serif">Δ</tspan><tspan font-style="italic">V</tspan><tspan dy="4.39" font-size="18.06">H</tspan><tspan dy="-4.39"> </tspan><tspan font-family="'DejaVu Sans', sans-serif">×</tspan><tspan> 0.1</tspan></text>
<text x="0" y="0" font-size="26.3" fill="#000" stroke="#000" stroke-width="0.3" transform="translate(782.14 195.10) scale(0.9600 1)"><tspan font-style="italic">I</tspan><tspan dy="4.47" font-size="18.41">crit</tspan><tspan dy="-4.47">/</tspan><tspan font-style="italic">W</tspan><tspan> </tspan><tspan font-family="'DejaVu Sans', sans-serif">=</tspan></text>
<text x="0" y="0" font-size="26.3" fill="#000" stroke="#000" stroke-width="0.3" transform="translate(780.45 226.00) scale(0.9521 1)"><tspan>4.8e-05</tspan><tspan font-style="italic" font-family="'DejaVu Sans', sans-serif">μ</tspan><tspan>A/</tspan><tspan font-style="italic" font-family="'DejaVu Sans', sans-serif">μ</tspan><tspan>m</tspan></text>
<text x="0" y="0" font-size="26.8" fill="#0b3f7a" stroke="#0b3f7a" stroke-width="0.3" transform="translate(987.48 165.80) scale(1.0217 1)"><tspan>0.168 eV</tspan></text>
<text x="0" y="0" font-size="26.8" fill="#7896bd" stroke="#7896bd" stroke-width="0.3" transform="translate(1128.78 165.80) scale(1.0176 1)"><tspan>0.25 eV</tspan></text>
<rect x="775.40" y="171.40" width="498.60" height="384.60" fill="none" stroke="#333" stroke-width="1.3" rx="0"/>
<line x1="770.40" y1="209.80" x2="775.40" y2="209.80" stroke="#000" stroke-width="1.2" stroke-linecap="butt"/>
<text x="0" y="0" font-size="29.2" fill="#000" stroke="#000" stroke-width="0.3" transform="translate(728.25 219.60) scale(0.9268 1)"><tspan>10</tspan><tspan dy="-10.80" font-size="20.44">0</tspan></text>
<line x1="770.40" y1="290.40" x2="775.40" y2="290.40" stroke="#000" stroke-width="1.2" stroke-linecap="butt"/>
<text x="0" y="0" font-size="29.2" fill="#000" stroke="#000" stroke-width="0.3" transform="translate(713.14 300.20) scale(0.8810 1)"><tspan>10</tspan><tspan dy="-10.80" font-size="20.44" font-family="'DejaVu Sans', sans-serif">−</tspan><tspan font-size="20.44">1</tspan></text>
<line x1="770.40" y1="371.00" x2="775.40" y2="371.00" stroke="#000" stroke-width="1.2" stroke-linecap="butt"/>
<text x="0" y="0" font-size="29.2" fill="#000" stroke="#000" stroke-width="0.3" transform="translate(713.03 380.80) scale(0.9328 1)"><tspan>10</tspan><tspan dy="-10.80" font-size="20.44" font-family="'DejaVu Sans', sans-serif">−</tspan><tspan font-size="20.44">2</tspan></text>
<line x1="770.40" y1="451.60" x2="775.40" y2="451.60" stroke="#000" stroke-width="1.2" stroke-linecap="butt"/>
<text x="0" y="0" font-size="29.2" fill="#000" stroke="#000" stroke-width="0.3" transform="translate(713.03 461.40) scale(0.9328 1)"><tspan>10</tspan><tspan dy="-10.80" font-size="20.44" font-family="'DejaVu Sans', sans-serif">−</tspan><tspan font-size="20.44">3</tspan></text>
<line x1="770.40" y1="532.20" x2="775.40" y2="532.20" stroke="#000" stroke-width="1.2" stroke-linecap="butt"/>
<text x="0" y="0" font-size="29.2" fill="#000" stroke="#000" stroke-width="0.3" transform="translate(713.03 542.00) scale(0.9328 1)"><tspan>10</tspan><tspan dy="-10.80" font-size="20.44" font-family="'DejaVu Sans', sans-serif">−</tspan><tspan font-size="20.44">4</tspan></text>
<line x1="772.60" y1="185.54" x2="775.40" y2="185.54" stroke="#000" stroke-width="0.9" stroke-linecap="butt"/>
<line x1="772.60" y1="266.14" x2="775.40" y2="266.14" stroke="#000" stroke-width="0.9" stroke-linecap="butt"/>
<line x1="772.60" y1="251.94" x2="775.40" y2="251.94" stroke="#000" stroke-width="0.9" stroke-linecap="butt"/>
<line x1="772.60" y1="241.87" x2="775.40" y2="241.87" stroke="#000" stroke-width="0.9" stroke-linecap="butt"/>
<line x1="772.60" y1="234.06" x2="775.40" y2="234.06" stroke="#000" stroke-width="0.9" stroke-linecap="butt"/>
<line x1="772.60" y1="227.68" x2="775.40" y2="227.68" stroke="#000" stroke-width="0.9" stroke-linecap="butt"/>
<line x1="772.60" y1="222.29" x2="775.40" y2="222.29" stroke="#000" stroke-width="0.9" stroke-linecap="butt"/>
<line x1="772.60" y1="217.61" x2="775.40" y2="217.61" stroke="#000" stroke-width="0.9" stroke-linecap="butt"/>
<line x1="772.60" y1="213.49" x2="775.40" y2="213.49" stroke="#000" stroke-width="0.9" stroke-linecap="butt"/>
<line x1="772.60" y1="346.74" x2="775.40" y2="346.74" stroke="#000" stroke-width="0.9" stroke-linecap="butt"/>
<line x1="772.60" y1="332.54" x2="775.40" y2="332.54" stroke="#000" stroke-width="0.9" stroke-linecap="butt"/>
<line x1="772.60" y1="322.47" x2="775.40" y2="322.47" stroke="#000" stroke-width="0.9" stroke-linecap="butt"/>
<line x1="772.60" y1="314.66" x2="775.40" y2="314.66" stroke="#000" stroke-width="0.9" stroke-linecap="butt"/>
<line x1="772.60" y1="308.28" x2="775.40" y2="308.28" stroke="#000" stroke-width="0.9" stroke-linecap="butt"/>
<line x1="772.60" y1="302.89" x2="775.40" y2="302.89" stroke="#000" stroke-width="0.9" stroke-linecap="butt"/>
<line x1="772.60" y1="298.21" x2="775.40" y2="298.21" stroke="#000" stroke-width="0.9" stroke-linecap="butt"/>
<line x1="772.60" y1="294.09" x2="775.40" y2="294.09" stroke="#000" stroke-width="0.9" stroke-linecap="butt"/>
<line x1="772.60" y1="427.34" x2="775.40" y2="427.34" stroke="#000" stroke-width="0.9" stroke-linecap="butt"/>
<line x1="772.60" y1="413.14" x2="775.40" y2="413.14" stroke="#000" stroke-width="0.9" stroke-linecap="butt"/>
<line x1="772.60" y1="403.07" x2="775.40" y2="403.07" stroke="#000" stroke-width="0.9" stroke-linecap="butt"/>
<line x1="772.60" y1="395.26" x2="775.40" y2="395.26" stroke="#000" stroke-width="0.9" stroke-linecap="butt"/>
<line x1="772.60" y1="388.88" x2="775.40" y2="388.88" stroke="#000" stroke-width="0.9" stroke-linecap="butt"/>
<line x1="772.60" y1="383.49" x2="775.40" y2="383.49" stroke="#000" stroke-width="0.9" stroke-linecap="butt"/>
<line x1="772.60" y1="378.81" x2="775.40" y2="378.81" stroke="#000" stroke-width="0.9" stroke-linecap="butt"/>
<line x1="772.60" y1="374.69" x2="775.40" y2="374.69" stroke="#000" stroke-width="0.9" stroke-linecap="butt"/>
<line x1="772.60" y1="507.94" x2="775.40" y2="507.94" stroke="#000" stroke-width="0.9" stroke-linecap="butt"/>
<line x1="772.60" y1="493.74" x2="775.40" y2="493.74" stroke="#000" stroke-width="0.9" stroke-linecap="butt"/>
<line x1="772.60" y1="483.67" x2="775.40" y2="483.67" stroke="#000" stroke-width="0.9" stroke-linecap="butt"/>
<line x1="772.60" y1="475.86" x2="775.40" y2="475.86" stroke="#000" stroke-width="0.9" stroke-linecap="butt"/>
<line x1="772.60" y1="469.48" x2="775.40" y2="469.48" stroke="#000" stroke-width="0.9" stroke-linecap="butt"/>
<line x1="772.60" y1="464.09" x2="775.40" y2="464.09" stroke="#000" stroke-width="0.9" stroke-linecap="butt"/>
<line x1="772.60" y1="459.41" x2="775.40" y2="459.41" stroke="#000" stroke-width="0.9" stroke-linecap="butt"/>
<line x1="772.60" y1="455.29" x2="775.40" y2="455.29" stroke="#000" stroke-width="0.9" stroke-linecap="butt"/>
<line x1="772.60" y1="550.08" x2="775.40" y2="550.08" stroke="#000" stroke-width="0.9" stroke-linecap="butt"/>
<line x1="772.60" y1="544.69" x2="775.40" y2="544.69" stroke="#000" stroke-width="0.9" stroke-linecap="butt"/>
<line x1="772.60" y1="540.01" x2="775.40" y2="540.01" stroke="#000" stroke-width="0.9" stroke-linecap="butt"/>
<line x1="772.60" y1="535.89" x2="775.40" y2="535.89" stroke="#000" stroke-width="0.9" stroke-linecap="butt"/>
<line x1="817.30" y1="556.00" x2="817.30" y2="561.00" stroke="#000" stroke-width="1.2" stroke-linecap="butt"/>
<text x="0" y="0" font-size="29.2" fill="#000" stroke="#000" stroke-width="0.3" transform="translate(778.98 583.00) scale(0.9390 1)"><tspan font-family="'DejaVu Sans', sans-serif">−</tspan><tspan>0.50</tspan></text>
<line x1="921.15" y1="556.00" x2="921.15" y2="561.00" stroke="#000" stroke-width="1.2" stroke-linecap="butt"/>
<text x="0" y="0" font-size="29.2" fill="#000" stroke="#000" stroke-width="0.3" transform="translate(883.51 583.00) scale(0.9312 1)"><tspan font-family="'DejaVu Sans', sans-serif">−</tspan><tspan>0.25</tspan></text>
<line x1="1025.00" y1="556.00" x2="1025.00" y2="561.00" stroke="#000" stroke-width="1.2" stroke-linecap="butt"/>
<text x="0" y="0" font-size="29.2" fill="#000" stroke="#000" stroke-width="0.3" transform="translate(997.87 583.00) scale(0.9345 1)"><tspan>0.00</tspan></text>
<line x1="1128.85" y1="556.00" x2="1128.85" y2="561.00" stroke="#000" stroke-width="1.2" stroke-linecap="butt"/>
<text x="0" y="0" font-size="29.2" fill="#000" stroke="#000" stroke-width="0.3" transform="translate(1101.85 583.00) scale(0.9537 1)"><tspan>0.25</tspan></text>
<line x1="1232.70" y1="556.00" x2="1232.70" y2="561.00" stroke="#000" stroke-width="1.2" stroke-linecap="butt"/>
<text x="0" y="0" font-size="29.2" fill="#000" stroke="#000" stroke-width="0.3" transform="translate(1205.88 583.00) scale(0.9164 1)"><tspan>0.50</tspan></text>
<text x="0" y="0" font-size="29.7" fill="#000" stroke="#000" stroke-width="0.3" transform="translate(949.20 611.50) scale(0.8958 1)"><tspan font-style="italic">E</tspan><tspan dy="5.05" font-size="20.79">T</tspan><tspan dy="-5.05"> </tspan><tspan font-family="'DejaVu Sans', sans-serif">−</tspan><tspan> </tspan><tspan font-style="italic">E</tspan><tspan dy="5.05" font-size="20.79">C</tspan><tspan dy="-5.05"> [eV]</tspan></text>
<line x1="948.10" y1="587.80" x2="978.80" y2="587.80" stroke="#000" stroke-width="1.3" stroke-linecap="butt"/>
<text x="0" y="0" font-size="29.7" fill="#000" stroke="#000" stroke-width="0.3" transform="translate(697.60 472.00) rotate(-90) scale(0.9954 1)"><tspan font-family="'DejaVu Sans', sans-serif">Δ</tspan><tspan font-style="italic">V</tspan><tspan dy="5.05" font-size="20.79">H</tspan><tspan dy="-5.05"> [V/(MV/cm)]</tspan></text>
<rect x="658.00" y="57.30" width="622.50" height="80.00" fill="#ffffff" stroke="#dcdcdc" stroke-width="1.4" rx="4"/>
<line x1="666.00" y1="76.20" x2="719.00" y2="76.20" stroke="#52008c" stroke-width="3.4" stroke-linecap="butt"/>
<line x1="667.50" y1="113.50" x2="718.00" y2="113.50" stroke="#a0209a" stroke-width="4.8" stroke-linecap="butt" stroke-dasharray="30.7 7.7 4.8 7.7"/>
<line x1="1003.30" y1="76.00" x2="1056.00" y2="76.00" stroke="#38603a" stroke-width="3.0" stroke-linecap="butt"/>
<rect x="1004.20" y="104.60" width="50.20" height="17.20" fill="#d0d0d0" stroke="none" stroke-width="0" rx="0"/>
<text x="0" y="0" font-size="25.9" fill="#000" stroke="#000" stroke-width="0.3" transform="translate(736.07 81.60) scale(0.9649 1)"><tspan>MoS</tspan><tspan dy="4.40" font-size="18.13">2</tspan><tspan dy="-4.40"> Hysteresis</tspan></text>
<text x="0" y="0" font-size="25.9" fill="#000" stroke="#000" stroke-width="0.3" transform="translate(736.08 118.40) scale(0.9609 1)"><tspan>1/</tspan><tspan font-style="italic">k</tspan><tspan dy="4.40" font-size="18.13">H</tspan><tspan dy="-4.40"> </tspan><tspan font-family="'DejaVu Sans', sans-serif">=</tspan><tspan> 82 meV/dec.</tspan></text>
<text x="0" y="0" font-size="25.9" fill="#000" stroke="#000" stroke-width="0.3" transform="translate(1072.98 84.80) scale(0.9588 1)"><tspan>Si FET Hysteresis</tspan></text>
<text x="0" y="0" font-size="25.9" fill="#000" stroke="#000" stroke-width="0.3" transform="translate(1073.94 114.60) scale(0.9595 1)"><tspan font-style="italic" font-family="'DejaVu Sans', sans-serif">σ</tspan><tspan dy="4.40" font-size="16.06">E</tspan><tspan font-size="11.65">T</tspan><tspan dy="-4.40"> </tspan><tspan font-family="'DejaVu Sans', sans-serif">=</tspan><tspan>  0.07 eV</tspan></text>
<text x="0" y="0" font-size="40" fill="#000" font-weight="bold" transform="translate(649.47 31.00) scale(1.0450 1)"><tspan>b</tspan></text>
<clipPath id="cc1"><rect x="1402.5" y="88.8" width="289.9000000000001" height="475.40000000000003"/></clipPath>
<g clip-path="url(#cc1)">
<rect x="1468.80" y="88.80" width="223.60" height="475.40" fill="#dadada" stroke="none" stroke-width="0" rx="0"/>
<polygon points="1402.50,434.80 1468.80,434.80 1468.80,200.50 1694.40,215.70 1694.40,86.80 1402.50,86.80" fill="#02407f"/>
<circle cx="1473.5" cy="428.7" r="6.4" fill="#cee0f2" fill-opacity="0.68" stroke="#3c3c3c" stroke-opacity="0.6" stroke-width="1"/>
<circle cx="1517.3" cy="423.9" r="6.4" fill="#d2e3f3" fill-opacity="0.68" stroke="#3c3c3c" stroke-opacity="0.6" stroke-width="1"/>
<circle cx="1636.7" cy="402.2" r="6.4" fill="#f2f8fd" fill-opacity="0.68" stroke="#3c3c3c" stroke-opacity="0.6" stroke-width="1"/>
<circle cx="1578.0" cy="452.4" r="6.4" fill="#2a7ab9" fill-opacity="0.68" stroke="#3c3c3c" stroke-opacity="0.6" stroke-width="1"/>
<circle cx="1655.7" cy="423.4" r="6.4" fill="#105ba4" fill-opacity="0.68" stroke="#3c3c3c" stroke-opacity="0.6" stroke-width="1"/>
<circle cx="1654.2" cy="458.1" r="6.4" fill="#084488" fill-opacity="0.68" stroke="#3c3c3c" stroke-opacity="0.6" stroke-width="1"/>
<circle cx="1552.2" cy="434.3" r="6.4" fill="#4191c6" fill-opacity="0.68" stroke="#3c3c3c" stroke-opacity="0.6" stroke-width="1"/>
<circle cx="1504.8" cy="423.0" r="6.4" fill="#dfebf7" fill-opacity="0.68" stroke="#3c3c3c" stroke-opacity="0.6" stroke-width="1"/>
<circle cx="1670.2" cy="453.4" r="6.4" fill="#083877" fill-opacity="0.68" stroke="#3c3c3c" stroke-opacity="0.6" stroke-width="1"/>
<circle cx="1525.1" cy="421.6" r="6.4" fill="#dce9f6" fill-opacity="0.68" stroke="#3c3c3c" stroke-opacity="0.6" stroke-width="1"/>
<circle cx="1681.6" cy="424.0" r="6.4" fill="#083c7d" fill-opacity="0.68" stroke="#3c3c3c" stroke-opacity="0.6" stroke-width="1"/>
<circle cx="1632.9" cy="444.7" r="6.4" fill="#0a539e" fill-opacity="0.68" stroke="#3c3c3c" stroke-opacity="0.6" stroke-width="1"/>
<circle cx="1523.4" cy="438.9" r="6.4" fill="#57a0ce" fill-opacity="0.68" stroke="#3c3c3c" stroke-opacity="0.6" stroke-width="1"/>
<circle cx="1608.3" cy="423.5" r="6.4" fill="#4594c7" fill-opacity="0.68" stroke="#3c3c3c" stroke-opacity="0.6" stroke-width="1"/>
<circle cx="1546.1" cy="423.3" r="6.4" fill="#bcd7eb" fill-opacity="0.68" stroke="#3c3c3c" stroke-opacity="0.6" stroke-width="1"/>
<circle cx="1689.7" cy="426.3" r="6.4" fill="#083776" fill-opacity="0.68" stroke="#3c3c3c" stroke-opacity="0.6" stroke-width="1"/>
<circle cx="1484.3" cy="408.1" r="6.4" fill="#f3f8fe" fill-opacity="0.68" stroke="#3c3c3c" stroke-opacity="0.6" stroke-width="1"/>
<circle cx="1587.3" cy="432.5" r="6.4" fill="#2979b9" fill-opacity="0.68" stroke="#3c3c3c" stroke-opacity="0.6" stroke-width="1"/>
<circle cx="1626.1" cy="431.8" r="6.4" fill="#105ba4" fill-opacity="0.68" stroke="#3c3c3c" stroke-opacity="0.6" stroke-width="1"/>
<circle cx="1599.0" cy="434.0" r="6.4" fill="#1e6db2" fill-opacity="0.68" stroke="#3c3c3c" stroke-opacity="0.6" stroke-width="1"/>
<circle cx="1674.2" cy="430.3" r="6.4" fill="#083776" fill-opacity="0.68" stroke="#3c3c3c" stroke-opacity="0.6" stroke-width="1"/>
<circle cx="1561.5" cy="439.4" r="6.4" fill="#3787c0" fill-opacity="0.68" stroke="#3c3c3c" stroke-opacity="0.6" stroke-width="1"/>
<circle cx="1696.9" cy="443.7" r="6.4" fill="#083776" fill-opacity="0.68" stroke="#3c3c3c" stroke-opacity="0.6" stroke-width="1"/>
<circle cx="1676.0" cy="426.0" r="6.4" fill="#083b7c" fill-opacity="0.68" stroke="#3c3c3c" stroke-opacity="0.6" stroke-width="1"/>
<circle cx="1629.6" cy="426.1" r="6.4" fill="#1966ad" fill-opacity="0.68" stroke="#3c3c3c" stroke-opacity="0.6" stroke-width="1"/>
<circle cx="1532.3" cy="421.1" r="6.4" fill="#dbe9f6" fill-opacity="0.68" stroke="#3c3c3c" stroke-opacity="0.6" stroke-width="1"/>
<circle cx="1592.3" cy="424.8" r="6.4" fill="#4e9acb" fill-opacity="0.68" stroke="#3c3c3c" stroke-opacity="0.6" stroke-width="1"/>
<circle cx="1536.2" cy="427.9" r="6.4" fill="#84bcdb" fill-opacity="0.68" stroke="#3c3c3c" stroke-opacity="0.6" stroke-width="1"/>
<circle cx="1526.2" cy="443.1" r="6.4" fill="#539ecd" fill-opacity="0.68" stroke="#3c3c3c" stroke-opacity="0.6" stroke-width="1"/>
<circle cx="1486.8" cy="439.0" r="6.4" fill="#7db8da" fill-opacity="0.68" stroke="#3c3c3c" stroke-opacity="0.6" stroke-width="1"/>
<circle cx="1626.4" cy="441.3" r="6.4" fill="#0e58a2" fill-opacity="0.68" stroke="#3c3c3c" stroke-opacity="0.6" stroke-width="1"/>
<circle cx="1591.8" cy="441.2" r="6.4" fill="#2070b4" fill-opacity="0.68" stroke="#3c3c3c" stroke-opacity="0.6" stroke-width="1"/>
<circle cx="1609.1" cy="429.3" r="6.4" fill="#1e6db2" fill-opacity="0.68" stroke="#3c3c3c" stroke-opacity="0.6" stroke-width="1"/>
<circle cx="1638.7" cy="441.4" r="6.4" fill="#084f99" fill-opacity="0.68" stroke="#3c3c3c" stroke-opacity="0.6" stroke-width="1"/>
<circle cx="1684.8" cy="423.8" r="6.4" fill="#083a7a" fill-opacity="0.68" stroke="#3c3c3c" stroke-opacity="0.6" stroke-width="1"/>
<circle cx="1510.2" cy="421.9" r="6.4" fill="#e1edf8" fill-opacity="0.68" stroke="#3c3c3c" stroke-opacity="0.6" stroke-width="1"/>
<circle cx="1652.5" cy="429.8" r="6.4" fill="#084990" fill-opacity="0.68" stroke="#3c3c3c" stroke-opacity="0.6" stroke-width="1"/>
<circle cx="1563.5" cy="438.8" r="6.4" fill="#3585bf" fill-opacity="0.68" stroke="#3c3c3c" stroke-opacity="0.6" stroke-width="1"/>
<circle cx="1587.8" cy="429.8" r="6.4" fill="#2f7fbc" fill-opacity="0.68" stroke="#3c3c3c" stroke-opacity="0.6" stroke-width="1"/>
<circle cx="1564.6" cy="443.3" r="6.4" fill="#3484bf" fill-opacity="0.68" stroke="#3c3c3c" stroke-opacity="0.6" stroke-width="1"/>
<circle cx="1659.4" cy="423.1" r="6.4" fill="#0e59a2" fill-opacity="0.68" stroke="#3c3c3c" stroke-opacity="0.6" stroke-width="1"/>
<circle cx="1474.6" cy="410.4" r="6.4" fill="#f3f8fe" fill-opacity="0.68" stroke="#3c3c3c" stroke-opacity="0.6" stroke-width="1"/>
<circle cx="1517.0" cy="431.2" r="6.4" fill="#7cb7da" fill-opacity="0.68" stroke="#3c3c3c" stroke-opacity="0.6" stroke-width="1"/>
<circle cx="1556.4" cy="409.5" r="6.4" fill="#f2f8fd" fill-opacity="0.68" stroke="#3c3c3c" stroke-opacity="0.6" stroke-width="1"/>
<circle cx="1544.7" cy="435.6" r="6.4" fill="#4695c8" fill-opacity="0.68" stroke="#3c3c3c" stroke-opacity="0.6" stroke-width="1"/>
<circle cx="1557.6" cy="437.7" r="6.4" fill="#3a8ac2" fill-opacity="0.68" stroke="#3c3c3c" stroke-opacity="0.6" stroke-width="1"/>
<circle cx="1587.6" cy="435.6" r="6.4" fill="#2474b7" fill-opacity="0.68" stroke="#3c3c3c" stroke-opacity="0.6" stroke-width="1"/>
<circle cx="1563.4" cy="426.0" r="6.4" fill="#6dafd7" fill-opacity="0.68" stroke="#3c3c3c" stroke-opacity="0.6" stroke-width="1"/>
<circle cx="1583.6" cy="422.2" r="6.4" fill="#91c3de" fill-opacity="0.68" stroke="#3c3c3c" stroke-opacity="0.6" stroke-width="1"/>
<circle cx="1526.5" cy="417.7" r="6.4" fill="#ebf3fb" fill-opacity="0.68" stroke="#3c3c3c" stroke-opacity="0.6" stroke-width="1"/>
<circle cx="1473.3" cy="394.8" r="6.4" fill="#f3f8fe" fill-opacity="0.68" stroke="#3c3c3c" stroke-opacity="0.6" stroke-width="1"/>
<circle cx="1483.8" cy="431.9" r="6.4" fill="#a8cee4" fill-opacity="0.68" stroke="#3c3c3c" stroke-opacity="0.6" stroke-width="1"/>
<circle cx="1607.4" cy="422.0" r="6.4" fill="#60a7d2" fill-opacity="0.68" stroke="#3c3c3c" stroke-opacity="0.6" stroke-width="1"/>
<circle cx="1655.3" cy="439.8" r="6.4" fill="#084488" fill-opacity="0.68" stroke="#3c3c3c" stroke-opacity="0.6" stroke-width="1"/>
<circle cx="1581.6" cy="417.3" r="6.4" fill="#d8e7f5" fill-opacity="0.68" stroke="#3c3c3c" stroke-opacity="0.6" stroke-width="1"/>
<circle cx="1649.8" cy="424.1" r="6.4" fill="#115ca5" fill-opacity="0.68" stroke="#3c3c3c" stroke-opacity="0.6" stroke-width="1"/>
<circle cx="1694.8" cy="429.9" r="6.4" fill="#083776" fill-opacity="0.68" stroke="#3c3c3c" stroke-opacity="0.6" stroke-width="1"/>
<circle cx="1612.2" cy="428.3" r="6.4" fill="#1e6db2" fill-opacity="0.68" stroke="#3c3c3c" stroke-opacity="0.6" stroke-width="1"/>
<circle cx="1584.3" cy="433.8" r="6.4" fill="#2979b9" fill-opacity="0.68" stroke="#3c3c3c" stroke-opacity="0.6" stroke-width="1"/>
<circle cx="1522.3" cy="436.1" r="6.4" fill="#5ca4d0" fill-opacity="0.68" stroke="#3c3c3c" stroke-opacity="0.6" stroke-width="1"/>
<circle cx="1614.6" cy="424.5" r="6.4" fill="#3282be" fill-opacity="0.68" stroke="#3c3c3c" stroke-opacity="0.6" stroke-width="1"/>
<circle cx="1486.2" cy="450.0" r="6.4" fill="#79b5d9" fill-opacity="0.68" stroke="#3c3c3c" stroke-opacity="0.6" stroke-width="1"/>
<circle cx="1685.8" cy="433.1" r="6.4" fill="#083776" fill-opacity="0.68" stroke="#3c3c3c" stroke-opacity="0.6" stroke-width="1"/>
<circle cx="1581.8" cy="429.0" r="6.4" fill="#3888c1" fill-opacity="0.68" stroke="#3c3c3c" stroke-opacity="0.6" stroke-width="1"/>
<circle cx="1627.8" cy="428.3" r="6.4" fill="#135fa7" fill-opacity="0.68" stroke="#3c3c3c" stroke-opacity="0.6" stroke-width="1"/>
<circle cx="1581.7" cy="438.2" r="6.4" fill="#2979b9" fill-opacity="0.68" stroke="#3c3c3c" stroke-opacity="0.6" stroke-width="1"/>
<circle cx="1639.8" cy="435.5" r="6.4" fill="#084f99" fill-opacity="0.68" stroke="#3c3c3c" stroke-opacity="0.6" stroke-width="1"/>
<circle cx="1571.5" cy="399.2" r="6.4" fill="#f3f8fe" fill-opacity="0.68" stroke="#3c3c3c" stroke-opacity="0.6" stroke-width="1"/>
<circle cx="1561.9" cy="412.9" r="6.4" fill="#eef5fc" fill-opacity="0.68" stroke="#3c3c3c" stroke-opacity="0.6" stroke-width="1"/>
<circle cx="1598.2" cy="435.2" r="6.4" fill="#1e6db2" fill-opacity="0.68" stroke="#3c3c3c" stroke-opacity="0.6" stroke-width="1"/>
<circle cx="1584.6" cy="422.6" r="6.4" fill="#85bcdc" fill-opacity="0.68" stroke="#3c3c3c" stroke-opacity="0.6" stroke-width="1"/>
<circle cx="1576.0" cy="441.7" r="6.4" fill="#2c7cba" fill-opacity="0.68" stroke="#3c3c3c" stroke-opacity="0.6" stroke-width="1"/>
<circle cx="1650.6" cy="441.2" r="6.4" fill="#08478d" fill-opacity="0.68" stroke="#3c3c3c" stroke-opacity="0.6" stroke-width="1"/>
<circle cx="1487.8" cy="435.9" r="6.4" fill="#85bcdc" fill-opacity="0.68" stroke="#3c3c3c" stroke-opacity="0.6" stroke-width="1"/>
<circle cx="1537.8" cy="420.3" r="6.4" fill="#dceaf6" fill-opacity="0.68" stroke="#3c3c3c" stroke-opacity="0.6" stroke-width="1"/>
<circle cx="1554.9" cy="416.3" r="6.4" fill="#e8f1fa" fill-opacity="0.68" stroke="#3c3c3c" stroke-opacity="0.6" stroke-width="1"/>
<circle cx="1535.2" cy="410.9" r="6.4" fill="#f2f8fd" fill-opacity="0.68" stroke="#3c3c3c" stroke-opacity="0.6" stroke-width="1"/>
<circle cx="1680.7" cy="425.8" r="6.4" fill="#083877" fill-opacity="0.68" stroke="#3c3c3c" stroke-opacity="0.6" stroke-width="1"/>
<circle cx="1682.9" cy="426.2" r="6.4" fill="#083776" fill-opacity="0.68" stroke="#3c3c3c" stroke-opacity="0.6" stroke-width="1"/>
<circle cx="1697.2" cy="436.1" r="6.4" fill="#083776" fill-opacity="0.68" stroke="#3c3c3c" stroke-opacity="0.6" stroke-width="1"/>
<circle cx="1626.7" cy="419.3" r="6.4" fill="#72b2d8" fill-opacity="0.68" stroke="#3c3c3c" stroke-opacity="0.6" stroke-width="1"/>
<circle cx="1562.7" cy="391.8" r="6.4" fill="#f3f8fe" fill-opacity="0.68" stroke="#3c3c3c" stroke-opacity="0.6" stroke-width="1"/>
<circle cx="1508.8" cy="431.4" r="6.4" fill="#87bddc" fill-opacity="0.68" stroke="#3c3c3c" stroke-opacity="0.6" stroke-width="1"/>
<circle cx="1477.8" cy="428.5" r="6.4" fill="#cddff1" fill-opacity="0.68" stroke="#3c3c3c" stroke-opacity="0.6" stroke-width="1"/>
<circle cx="1634.3" cy="398.0" r="6.4" fill="#f3f8fe" fill-opacity="0.68" stroke="#3c3c3c" stroke-opacity="0.6" stroke-width="1"/>
<circle cx="1598.7" cy="428.7" r="6.4" fill="#2979b9" fill-opacity="0.68" stroke="#3c3c3c" stroke-opacity="0.6" stroke-width="1"/>
<circle cx="1653.7" cy="445.2" r="6.4" fill="#08458a" fill-opacity="0.68" stroke="#3c3c3c" stroke-opacity="0.6" stroke-width="1"/>
<circle cx="1521.5" cy="419.6" r="6.4" fill="#e7f0fa" fill-opacity="0.68" stroke="#3c3c3c" stroke-opacity="0.6" stroke-width="1"/>
<circle cx="1513.0" cy="432.1" r="6.4" fill="#7ab6d9" fill-opacity="0.68" stroke="#3c3c3c" stroke-opacity="0.6" stroke-width="1"/>
<circle cx="1687.2" cy="428.7" r="6.4" fill="#083776" fill-opacity="0.68" stroke="#3c3c3c" stroke-opacity="0.6" stroke-width="1"/>
<circle cx="1625.6" cy="442.5" r="6.4" fill="#0e58a2" fill-opacity="0.68" stroke="#3c3c3c" stroke-opacity="0.6" stroke-width="1"/>
<circle cx="1498.9" cy="427.2" r="6.4" fill="#c7dbef" fill-opacity="0.68" stroke="#3c3c3c" stroke-opacity="0.6" stroke-width="1"/>
<circle cx="1507.8" cy="428.1" r="6.4" fill="#b0d2e7" fill-opacity="0.68" stroke="#3c3c3c" stroke-opacity="0.6" stroke-width="1"/>
<circle cx="1514.8" cy="439.9" r="6.4" fill="#5fa6d1" fill-opacity="0.68" stroke="#3c3c3c" stroke-opacity="0.6" stroke-width="1"/>
<circle cx="1637.1" cy="433.0" r="6.4" fill="#09529d" fill-opacity="0.68" stroke="#3c3c3c" stroke-opacity="0.6" stroke-width="1"/>
<circle cx="1558.3" cy="412.4" r="6.4" fill="#f0f6fd" fill-opacity="0.68" stroke="#3c3c3c" stroke-opacity="0.6" stroke-width="1"/>
<circle cx="1586.9" cy="428.7" r="6.4" fill="#3484bf" fill-opacity="0.68" stroke="#3c3c3c" stroke-opacity="0.6" stroke-width="1"/>
<circle cx="1684.5" cy="416.4" r="6.4" fill="#3a8ac2" fill-opacity="0.68" stroke="#3c3c3c" stroke-opacity="0.6" stroke-width="1"/>
<circle cx="1629.0" cy="428.7" r="6.4" fill="#125da6" fill-opacity="0.68" stroke="#3c3c3c" stroke-opacity="0.6" stroke-width="1"/>
<circle cx="1586.5" cy="432.7" r="6.4" fill="#2979b9" fill-opacity="0.68" stroke="#3c3c3c" stroke-opacity="0.6" stroke-width="1"/>
<circle cx="1609.0" cy="426.7" r="6.4" fill="#2979b9" fill-opacity="0.68" stroke="#3c3c3c" stroke-opacity="0.6" stroke-width="1"/>
<circle cx="1574.2" cy="451.2" r="6.4" fill="#2d7dbb" fill-opacity="0.68" stroke="#3c3c3c" stroke-opacity="0.6" stroke-width="1"/>
<circle cx="1482.1" cy="428.9" r="6.4" fill="#c7dcef" fill-opacity="0.68" stroke="#3c3c3c" stroke-opacity="0.6" stroke-width="1"/>
<circle cx="1688.0" cy="440.9" r="6.4" fill="#083776" fill-opacity="0.68" stroke="#3c3c3c" stroke-opacity="0.6" stroke-width="1"/>
<circle cx="1573.4" cy="426.1" r="6.4" fill="#5ca4d0" fill-opacity="0.68" stroke="#3c3c3c" stroke-opacity="0.6" stroke-width="1"/>
<circle cx="1633.0" cy="433.9" r="6.4" fill="#0a549e" fill-opacity="0.68" stroke="#3c3c3c" stroke-opacity="0.6" stroke-width="1"/>
<circle cx="1483.5" cy="428.5" r="6.4" fill="#c9ddf0" fill-opacity="0.68" stroke="#3c3c3c" stroke-opacity="0.6" stroke-width="1"/>
<circle cx="1589.7" cy="417.4" r="6.4" fill="#d2e3f3" fill-opacity="0.68" stroke="#3c3c3c" stroke-opacity="0.6" stroke-width="1"/>
<circle cx="1565.5" cy="424.1" r="6.4" fill="#8dc1dd" fill-opacity="0.68" stroke="#3c3c3c" stroke-opacity="0.6" stroke-width="1"/>
<circle cx="1620.6" cy="437.7" r="6.4" fill="#115ca5" fill-opacity="0.68" stroke="#3c3c3c" stroke-opacity="0.6" stroke-width="1"/>
<circle cx="1671.9" cy="414.3" r="6.4" fill="#8fc2de" fill-opacity="0.68" stroke="#3c3c3c" stroke-opacity="0.6" stroke-width="1"/>
<circle cx="1688.0" cy="434.7" r="6.4" fill="#083776" fill-opacity="0.68" stroke="#3c3c3c" stroke-opacity="0.6" stroke-width="1"/>
<circle cx="1582.3" cy="435.5" r="6.4" fill="#2979b9" fill-opacity="0.68" stroke="#3c3c3c" stroke-opacity="0.6" stroke-width="1"/>
<circle cx="1524.6" cy="426.4" r="6.4" fill="#aed1e7" fill-opacity="0.68" stroke="#3c3c3c" stroke-opacity="0.6" stroke-width="1"/>
<circle cx="1664.1" cy="423.5" r="6.4" fill="#08519c" fill-opacity="0.68" stroke="#3c3c3c" stroke-opacity="0.6" stroke-width="1"/>
<circle cx="1567.4" cy="411.6" r="6.4" fill="#f0f6fd" fill-opacity="0.68" stroke="#3c3c3c" stroke-opacity="0.6" stroke-width="1"/>
<circle cx="1539.7" cy="441.7" r="6.4" fill="#4896c8" fill-opacity="0.68" stroke="#3c3c3c" stroke-opacity="0.6" stroke-width="1"/>
<circle cx="1674.4" cy="416.7" r="6.4" fill="#4896c8" fill-opacity="0.68" stroke="#3c3c3c" stroke-opacity="0.6" stroke-width="1"/>
<circle cx="1487.0" cy="429.0" r="6.4" fill="#c1d9ed" fill-opacity="0.68" stroke="#3c3c3c" stroke-opacity="0.6" stroke-width="1"/>
<circle cx="1630.8" cy="434.2" r="6.4" fill="#0c56a0" fill-opacity="0.68" stroke="#3c3c3c" stroke-opacity="0.6" stroke-width="1"/>
<circle cx="1618.0" cy="412.3" r="6.4" fill="#e3eef9" fill-opacity="0.68" stroke="#3c3c3c" stroke-opacity="0.6" stroke-width="1"/>
<circle cx="1477.6" cy="424.8" r="6.4" fill="#e2edf8" fill-opacity="0.68" stroke="#3c3c3c" stroke-opacity="0.6" stroke-width="1"/>
<circle cx="1671.9" cy="418.7" r="6.4" fill="#2777b8" fill-opacity="0.68" stroke="#3c3c3c" stroke-opacity="0.6" stroke-width="1"/>
<circle cx="1667.0" cy="432.6" r="6.4" fill="#083b7c" fill-opacity="0.68" stroke="#3c3c3c" stroke-opacity="0.6" stroke-width="1"/>
<circle cx="1687.8" cy="441.3" r="6.4" fill="#083776" fill-opacity="0.68" stroke="#3c3c3c" stroke-opacity="0.6" stroke-width="1"/>
<circle cx="1584.1" cy="418.0" r="6.4" fill="#d1e2f3" fill-opacity="0.68" stroke="#3c3c3c" stroke-opacity="0.6" stroke-width="1"/>
<circle cx="1661.4" cy="395.8" r="6.4" fill="#f3f8fe" fill-opacity="0.68" stroke="#3c3c3c" stroke-opacity="0.6" stroke-width="1"/>
<circle cx="1567.8" cy="424.5" r="6.4" fill="#81badb" fill-opacity="0.68" stroke="#3c3c3c" stroke-opacity="0.6" stroke-width="1"/>
<circle cx="1564.8" cy="432.1" r="6.4" fill="#3c8cc3" fill-opacity="0.68" stroke="#3c3c3c" stroke-opacity="0.6" stroke-width="1"/>
<circle cx="1527.5" cy="415.7" r="6.4" fill="#eff6fc" fill-opacity="0.68" stroke="#3c3c3c" stroke-opacity="0.6" stroke-width="1"/>
<circle cx="1560.9" cy="415.7" r="6.4" fill="#e8f1fa" fill-opacity="0.68" stroke="#3c3c3c" stroke-opacity="0.6" stroke-width="1"/>
<circle cx="1641.8" cy="431.4" r="6.4" fill="#084f99" fill-opacity="0.68" stroke="#3c3c3c" stroke-opacity="0.6" stroke-width="1"/>
<circle cx="1659.1" cy="428.3" r="6.4" fill="#08468b" fill-opacity="0.68" stroke="#3c3c3c" stroke-opacity="0.6" stroke-width="1"/>
<circle cx="1477.0" cy="418.1" r="6.4" fill="#f1f7fd" fill-opacity="0.68" stroke="#3c3c3c" stroke-opacity="0.6" stroke-width="1"/>
<circle cx="1698.9" cy="422.8" r="6.4" fill="#083776" fill-opacity="0.68" stroke="#3c3c3c" stroke-opacity="0.6" stroke-width="1"/>
<circle cx="1484.7" cy="423.8" r="6.4" fill="#e3eef9" fill-opacity="0.68" stroke="#3c3c3c" stroke-opacity="0.6" stroke-width="1"/>
<circle cx="1567.6" cy="426.6" r="6.4" fill="#5fa6d1" fill-opacity="0.68" stroke="#3c3c3c" stroke-opacity="0.6" stroke-width="1"/>
<circle cx="1611.6" cy="436.6" r="6.4" fill="#1663aa" fill-opacity="0.68" stroke="#3c3c3c" stroke-opacity="0.6" stroke-width="1"/>
<circle cx="1544.7" cy="406.0" r="6.4" fill="#f3f8fe" fill-opacity="0.68" stroke="#3c3c3c" stroke-opacity="0.6" stroke-width="1"/>
<circle cx="1557.6" cy="425.0" r="6.4" fill="#8cc0dd" fill-opacity="0.68" stroke="#3c3c3c" stroke-opacity="0.6" stroke-width="1"/>
<circle cx="1497.5" cy="416.9" r="6.4" fill="#f1f7fd" fill-opacity="0.68" stroke="#3c3c3c" stroke-opacity="0.6" stroke-width="1"/>
<circle cx="1584.3" cy="435.1" r="6.4" fill="#2777b8" fill-opacity="0.68" stroke="#3c3c3c" stroke-opacity="0.6" stroke-width="1"/>
<circle cx="1473.5" cy="427.9" r="6.4" fill="#d3e4f3" fill-opacity="0.68" stroke="#3c3c3c" stroke-opacity="0.6" stroke-width="1"/>
<circle cx="1675.5" cy="431.5" r="6.4" fill="#083776" fill-opacity="0.68" stroke="#3c3c3c" stroke-opacity="0.6" stroke-width="1"/>
<circle cx="1550.4" cy="412.0" r="6.4" fill="#f1f7fd" fill-opacity="0.68" stroke="#3c3c3c" stroke-opacity="0.6" stroke-width="1"/>
<circle cx="1674.8" cy="411.4" r="6.4" fill="#c9ddf0" fill-opacity="0.68" stroke="#3c3c3c" stroke-opacity="0.6" stroke-width="1"/>
<circle cx="1693.3" cy="417.5" r="6.4" fill="#1a68ae" fill-opacity="0.68" stroke="#3c3c3c" stroke-opacity="0.6" stroke-width="1"/>
<circle cx="1586.6" cy="435.1" r="6.4" fill="#2676b8" fill-opacity="0.68" stroke="#3c3c3c" stroke-opacity="0.6" stroke-width="1"/>
<circle cx="1506.9" cy="425.1" r="6.4" fill="#d0e2f2" fill-opacity="0.68" stroke="#3c3c3c" stroke-opacity="0.6" stroke-width="1"/>
<circle cx="1653.5" cy="432.3" r="6.4" fill="#08468b" fill-opacity="0.68" stroke="#3c3c3c" stroke-opacity="0.6" stroke-width="1"/>
<circle cx="1519.2" cy="420.4" r="6.4" fill="#e4eff9" fill-opacity="0.68" stroke="#3c3c3c" stroke-opacity="0.6" stroke-width="1"/>
<circle cx="1623.9" cy="422.7" r="6.4" fill="#3989c1" fill-opacity="0.68" stroke="#3c3c3c" stroke-opacity="0.6" stroke-width="1"/>
<circle cx="1476.6" cy="421.3" r="6.4" fill="#edf4fc" fill-opacity="0.68" stroke="#3c3c3c" stroke-opacity="0.6" stroke-width="1"/>
<circle cx="1488.6" cy="423.8" r="6.4" fill="#e2edf8" fill-opacity="0.68" stroke="#3c3c3c" stroke-opacity="0.6" stroke-width="1"/>
<circle cx="1594.1" cy="423.0" r="6.4" fill="#66abd4" fill-opacity="0.68" stroke="#3c3c3c" stroke-opacity="0.6" stroke-width="1"/>
<circle cx="1521.7" cy="411.1" r="6.4" fill="#f2f8fd" fill-opacity="0.68" stroke="#3c3c3c" stroke-opacity="0.6" stroke-width="1"/>
<circle cx="1492.7" cy="427.8" r="6.4" fill="#c7dcef" fill-opacity="0.68" stroke="#3c3c3c" stroke-opacity="0.6" stroke-width="1"/>
<circle cx="1575.6" cy="420.8" r="6.4" fill="#b9d6ea" fill-opacity="0.68" stroke="#3c3c3c" stroke-opacity="0.6" stroke-width="1"/>
<circle cx="1489.9" cy="429.6" r="6.4" fill="#b7d4ea" fill-opacity="0.68" stroke="#3c3c3c" stroke-opacity="0.6" stroke-width="1"/>
<circle cx="1659.2" cy="440.3" r="6.4" fill="#084184" fill-opacity="0.68" stroke="#3c3c3c" stroke-opacity="0.6" stroke-width="1"/>
<circle cx="1668.5" cy="433.9" r="6.4" fill="#083a7a" fill-opacity="0.68" stroke="#3c3c3c" stroke-opacity="0.6" stroke-width="1"/>
<circle cx="1535.9" cy="441.8" r="6.4" fill="#4a98c9" fill-opacity="0.68" stroke="#3c3c3c" stroke-opacity="0.6" stroke-width="1"/>
<circle cx="1615.9" cy="434.5" r="6.4" fill="#1460a8" fill-opacity="0.68" stroke="#3c3c3c" stroke-opacity="0.6" stroke-width="1"/>
<circle cx="1529.0" cy="413.0" r="6.4" fill="#f2f7fd" fill-opacity="0.68" stroke="#3c3c3c" stroke-opacity="0.6" stroke-width="1"/>
<circle cx="1593.0" cy="431.2" r="6.4" fill="#2676b8" fill-opacity="0.68" stroke="#3c3c3c" stroke-opacity="0.6" stroke-width="1"/>
<circle cx="1525.4" cy="422.5" r="6.4" fill="#d6e6f4" fill-opacity="0.68" stroke="#3c3c3c" stroke-opacity="0.6" stroke-width="1"/>
<circle cx="1519.2" cy="419.4" r="6.4" fill="#e8f1fa" fill-opacity="0.68" stroke="#3c3c3c" stroke-opacity="0.6" stroke-width="1"/>
<circle cx="1550.4" cy="415.5" r="6.4" fill="#ebf3fb" fill-opacity="0.68" stroke="#3c3c3c" stroke-opacity="0.6" stroke-width="1"/>
<circle cx="1529.6" cy="409.3" r="6.4" fill="#f3f8fe" fill-opacity="0.68" stroke="#3c3c3c" stroke-opacity="0.6" stroke-width="1"/>
<circle cx="1530.0" cy="424.2" r="6.4" fill="#c6dbef" fill-opacity="0.68" stroke="#3c3c3c" stroke-opacity="0.6" stroke-width="1"/>
<circle cx="1515.7" cy="433.0" r="6.4" fill="#6fb0d7" fill-opacity="0.68" stroke="#3c3c3c" stroke-opacity="0.6" stroke-width="1"/>
<circle cx="1689.0" cy="420.9" r="6.4" fill="#08478d" fill-opacity="0.68" stroke="#3c3c3c" stroke-opacity="0.6" stroke-width="1"/>
<circle cx="1503.4" cy="420.3" r="6.4" fill="#eaf2fb" fill-opacity="0.68" stroke="#3c3c3c" stroke-opacity="0.6" stroke-width="1"/>
<circle cx="1667.8" cy="408.0" r="6.4" fill="#e5eff9" fill-opacity="0.68" stroke="#3c3c3c" stroke-opacity="0.6" stroke-width="1"/>
<circle cx="1473.9" cy="422.3" r="6.4" fill="#ebf3fb" fill-opacity="0.68" stroke="#3c3c3c" stroke-opacity="0.6" stroke-width="1"/>
<circle cx="1629.3" cy="438.4" r="6.4" fill="#0c56a0" fill-opacity="0.68" stroke="#3c3c3c" stroke-opacity="0.6" stroke-width="1"/>
<circle cx="1684.0" cy="401.4" r="6.4" fill="#f1f7fd" fill-opacity="0.68" stroke="#3c3c3c" stroke-opacity="0.6" stroke-width="1"/>
<circle cx="1494.2" cy="425.6" r="6.4" fill="#d6e5f4" fill-opacity="0.68" stroke="#3c3c3c" stroke-opacity="0.6" stroke-width="1"/>
<circle cx="1696.6" cy="433.5" r="6.4" fill="#083776" fill-opacity="0.68" stroke="#3c3c3c" stroke-opacity="0.6" stroke-width="1"/>
<circle cx="1666.1" cy="440.0" r="6.4" fill="#083b7c" fill-opacity="0.68" stroke="#3c3c3c" stroke-opacity="0.6" stroke-width="1"/>
<circle cx="1565.8" cy="426.0" r="6.4" fill="#69add5" fill-opacity="0.68" stroke="#3c3c3c" stroke-opacity="0.6" stroke-width="1"/>
<circle cx="1486.9" cy="429.6" r="6.4" fill="#bad6eb" fill-opacity="0.68" stroke="#3c3c3c" stroke-opacity="0.6" stroke-width="1"/>
<circle cx="1653.6" cy="426.8" r="6.4" fill="#084d96" fill-opacity="0.68" stroke="#3c3c3c" stroke-opacity="0.6" stroke-width="1"/>
<circle cx="1531.6" cy="410.9" r="6.4" fill="#f2f8fd" fill-opacity="0.68" stroke="#3c3c3c" stroke-opacity="0.6" stroke-width="1"/>
<circle cx="1489.3" cy="424.0" r="6.4" fill="#e0ecf8" fill-opacity="0.68" stroke="#3c3c3c" stroke-opacity="0.6" stroke-width="1"/>
<circle cx="1556.0" cy="428.6" r="6.4" fill="#5aa2cf" fill-opacity="0.68" stroke="#3c3c3c" stroke-opacity="0.6" stroke-width="1"/>
<circle cx="1517.1" cy="426.2" r="6.4" fill="#bcd7eb" fill-opacity="0.68" stroke="#3c3c3c" stroke-opacity="0.6" stroke-width="1"/>
<circle cx="1616.8" cy="426.2" r="6.4" fill="#2272b6" fill-opacity="0.68" stroke="#3c3c3c" stroke-opacity="0.6" stroke-width="1"/>
<circle cx="1568.2" cy="442.5" r="6.4" fill="#3181bd" fill-opacity="0.68" stroke="#3c3c3c" stroke-opacity="0.6" stroke-width="1"/>
<circle cx="1496.9" cy="423.1" r="6.4" fill="#e1edf8" fill-opacity="0.68" stroke="#3c3c3c" stroke-opacity="0.6" stroke-width="1"/>
<circle cx="1669.8" cy="432.5" r="6.4" fill="#083979" fill-opacity="0.68" stroke="#3c3c3c" stroke-opacity="0.6" stroke-width="1"/>
<circle cx="1571.9" cy="437.5" r="6.4" fill="#3080bd" fill-opacity="0.68" stroke="#3c3c3c" stroke-opacity="0.6" stroke-width="1"/>
<circle cx="1664.7" cy="431.7" r="6.4" fill="#083d7f" fill-opacity="0.68" stroke="#3c3c3c" stroke-opacity="0.6" stroke-width="1"/>
<circle cx="1663.9" cy="443.9" r="6.4" fill="#083c7d" fill-opacity="0.68" stroke="#3c3c3c" stroke-opacity="0.6" stroke-width="1"/>
<circle cx="1557.8" cy="431.2" r="6.4" fill="#4695c8" fill-opacity="0.68" stroke="#3c3c3c" stroke-opacity="0.6" stroke-width="1"/>
<circle cx="1559.2" cy="434.9" r="6.4" fill="#3b8bc2" fill-opacity="0.68" stroke="#3c3c3c" stroke-opacity="0.6" stroke-width="1"/>
<circle cx="1547.2" cy="426.0" r="6.4" fill="#8dc1dd" fill-opacity="0.68" stroke="#3c3c3c" stroke-opacity="0.6" stroke-width="1"/>
<circle cx="1634.4" cy="437.3" r="6.4" fill="#09529d" fill-opacity="0.68" stroke="#3c3c3c" stroke-opacity="0.6" stroke-width="1"/>
<circle cx="1598.9" cy="442.2" r="6.4" fill="#1c6bb0" fill-opacity="0.68" stroke="#3c3c3c" stroke-opacity="0.6" stroke-width="1"/>
<circle cx="1653.9" cy="420.9" r="6.4" fill="#2474b7" fill-opacity="0.68" stroke="#3c3c3c" stroke-opacity="0.6" stroke-width="1"/>
<circle cx="1626.9" cy="427.8" r="6.4" fill="#1562a9" fill-opacity="0.68" stroke="#3c3c3c" stroke-opacity="0.6" stroke-width="1"/>
<circle cx="1545.5" cy="437.4" r="6.4" fill="#4493c7" fill-opacity="0.68" stroke="#3c3c3c" stroke-opacity="0.6" stroke-width="1"/>
<circle cx="1526.6" cy="432.9" r="6.4" fill="#61a7d2" fill-opacity="0.68" stroke="#3c3c3c" stroke-opacity="0.6" stroke-width="1"/>
<circle cx="1532.2" cy="423.3" r="6.4" fill="#ccdff1" fill-opacity="0.68" stroke="#3c3c3c" stroke-opacity="0.6" stroke-width="1"/>
<circle cx="1485.5" cy="428.8" r="6.4" fill="#c6dbef" fill-opacity="0.68" stroke="#3c3c3c" stroke-opacity="0.6" stroke-width="1"/>
<circle cx="1581.0" cy="419.1" r="6.4" fill="#caddf0" fill-opacity="0.68" stroke="#3c3c3c" stroke-opacity="0.6" stroke-width="1"/>
<circle cx="1667.2" cy="437.5" r="6.4" fill="#083a7a" fill-opacity="0.68" stroke="#3c3c3c" stroke-opacity="0.6" stroke-width="1"/>
<circle cx="1558.1" cy="431.7" r="6.4" fill="#4493c7" fill-opacity="0.68" stroke="#3c3c3c" stroke-opacity="0.6" stroke-width="1"/>
<circle cx="1534.6" cy="429.0" r="6.4" fill="#77b5d9" fill-opacity="0.68" stroke="#3c3c3c" stroke-opacity="0.6" stroke-width="1"/>
<circle cx="1555.7" cy="437.3" r="6.4" fill="#3c8cc3" fill-opacity="0.68" stroke="#3c3c3c" stroke-opacity="0.6" stroke-width="1"/>
<circle cx="1600.4" cy="433.1" r="6.4" fill="#1e6db2" fill-opacity="0.68" stroke="#3c3c3c" stroke-opacity="0.6" stroke-width="1"/>
<circle cx="1597.3" cy="422.1" r="6.4" fill="#72b2d8" fill-opacity="0.68" stroke="#3c3c3c" stroke-opacity="0.6" stroke-width="1"/>
<circle cx="1573.1" cy="422.0" r="6.4" fill="#a8cee4" fill-opacity="0.68" stroke="#3c3c3c" stroke-opacity="0.6" stroke-width="1"/>
<circle cx="1477.5" cy="420.7" r="6.4" fill="#eef5fc" fill-opacity="0.68" stroke="#3c3c3c" stroke-opacity="0.6" stroke-width="1"/>
<circle cx="1544.9" cy="440.2" r="6.4" fill="#4292c6" fill-opacity="0.68" stroke="#3c3c3c" stroke-opacity="0.6" stroke-width="1"/>
<circle cx="1564.1" cy="430.9" r="6.4" fill="#4090c5" fill-opacity="0.68" stroke="#3c3c3c" stroke-opacity="0.6" stroke-width="1"/>
<circle cx="1487.4" cy="417.4" r="6.4" fill="#f1f7fd" fill-opacity="0.68" stroke="#3c3c3c" stroke-opacity="0.6" stroke-width="1"/>
<circle cx="1574.6" cy="434.2" r="6.4" fill="#3080bd" fill-opacity="0.68" stroke="#3c3c3c" stroke-opacity="0.6" stroke-width="1"/>
<circle cx="1655.9" cy="443.6" r="6.4" fill="#084387" fill-opacity="0.68" stroke="#3c3c3c" stroke-opacity="0.6" stroke-width="1"/>
<circle cx="1546.4" cy="433.6" r="6.4" fill="#4997c9" fill-opacity="0.68" stroke="#3c3c3c" stroke-opacity="0.6" stroke-width="1"/>
<circle cx="1528.0" cy="421.4" r="6.4" fill="#dce9f6" fill-opacity="0.68" stroke="#3c3c3c" stroke-opacity="0.6" stroke-width="1"/>
<circle cx="1625.1" cy="427.9" r="6.4" fill="#1663aa" fill-opacity="0.68" stroke="#3c3c3c" stroke-opacity="0.6" stroke-width="1"/>
<circle cx="1529.3" cy="442.4" r="6.4" fill="#519ccc" fill-opacity="0.68" stroke="#3c3c3c" stroke-opacity="0.6" stroke-width="1"/>
<circle cx="1598.2" cy="419.5" r="6.4" fill="#add0e6" fill-opacity="0.68" stroke="#3c3c3c" stroke-opacity="0.6" stroke-width="1"/>
<circle cx="1640.7" cy="437.7" r="6.4" fill="#084e98" fill-opacity="0.68" stroke="#3c3c3c" stroke-opacity="0.6" stroke-width="1"/>
<circle cx="1644.9" cy="439.4" r="6.4" fill="#084b93" fill-opacity="0.68" stroke="#3c3c3c" stroke-opacity="0.6" stroke-width="1"/>
<circle cx="1638.0" cy="424.8" r="6.4" fill="#1764ab" fill-opacity="0.68" stroke="#3c3c3c" stroke-opacity="0.6" stroke-width="1"/>
<circle cx="1627.8" cy="426.0" r="6.4" fill="#1b69af" fill-opacity="0.68" stroke="#3c3c3c" stroke-opacity="0.6" stroke-width="1"/>
<circle cx="1508.5" cy="434.5" r="6.4" fill="#71b1d7" fill-opacity="0.68" stroke="#3c3c3c" stroke-opacity="0.6" stroke-width="1"/>
<circle cx="1683.3" cy="434.2" r="6.4" fill="#083776" fill-opacity="0.68" stroke="#3c3c3c" stroke-opacity="0.6" stroke-width="1"/>
<circle cx="1631.0" cy="424.1" r="6.4" fill="#2171b5" fill-opacity="0.68" stroke="#3c3c3c" stroke-opacity="0.6" stroke-width="1"/>
<circle cx="1673.4" cy="418.1" r="6.4" fill="#3080bd" fill-opacity="0.68" stroke="#3c3c3c" stroke-opacity="0.6" stroke-width="1"/>
<circle cx="1529.5" cy="423.6" r="6.4" fill="#ccdff1" fill-opacity="0.68" stroke="#3c3c3c" stroke-opacity="0.6" stroke-width="1"/>
<circle cx="1483.0" cy="429.8" r="6.4" fill="#bdd7ec" fill-opacity="0.68" stroke="#3c3c3c" stroke-opacity="0.6" stroke-width="1"/>
<circle cx="1598.1" cy="418.3" r="6.4" fill="#c3daee" fill-opacity="0.68" stroke="#3c3c3c" stroke-opacity="0.6" stroke-width="1"/>
<circle cx="1488.1" cy="418.4" r="6.4" fill="#f0f6fd" fill-opacity="0.68" stroke="#3c3c3c" stroke-opacity="0.6" stroke-width="1"/>
<circle cx="1516.4" cy="422.9" r="6.4" fill="#d9e7f5" fill-opacity="0.68" stroke="#3c3c3c" stroke-opacity="0.6" stroke-width="1"/>
<circle cx="1549.4" cy="423.5" r="6.4" fill="#b5d4e9" fill-opacity="0.68" stroke="#3c3c3c" stroke-opacity="0.6" stroke-width="1"/>
<circle cx="1611.4" cy="425.5" r="6.4" fill="#2e7ebc" fill-opacity="0.68" stroke="#3c3c3c" stroke-opacity="0.6" stroke-width="1"/>
<circle cx="1681.4" cy="430.3" r="6.4" fill="#083776" fill-opacity="0.68" stroke="#3c3c3c" stroke-opacity="0.6" stroke-width="1"/>
<circle cx="1506.9" cy="415.9" r="6.4" fill="#f1f7fd" fill-opacity="0.68" stroke="#3c3c3c" stroke-opacity="0.6" stroke-width="1"/>
<circle cx="1595.6" cy="411.5" r="6.4" fill="#ecf4fb" fill-opacity="0.68" stroke="#3c3c3c" stroke-opacity="0.6" stroke-width="1"/>
<circle cx="1516.7" cy="415.1" r="6.4" fill="#f1f7fd" fill-opacity="0.68" stroke="#3c3c3c" stroke-opacity="0.6" stroke-width="1"/>
<circle cx="1518.8" cy="425.0" r="6.4" fill="#c8dcf0" fill-opacity="0.68" stroke="#3c3c3c" stroke-opacity="0.6" stroke-width="1"/>
<circle cx="1497.3" cy="422.3" r="6.4" fill="#e5eff9" fill-opacity="0.68" stroke="#3c3c3c" stroke-opacity="0.6" stroke-width="1"/>
<circle cx="1563.9" cy="417.7" r="6.4" fill="#dfebf7" fill-opacity="0.68" stroke="#3c3c3c" stroke-opacity="0.6" stroke-width="1"/>
<circle cx="1591.6" cy="416.1" r="6.4" fill="#dae8f6" fill-opacity="0.68" stroke="#3c3c3c" stroke-opacity="0.6" stroke-width="1"/>
<circle cx="1478.9" cy="418.1" r="6.4" fill="#f1f7fd" fill-opacity="0.68" stroke="#3c3c3c" stroke-opacity="0.6" stroke-width="1"/>
<circle cx="1655.1" cy="423.0" r="6.4" fill="#125ea6" fill-opacity="0.68" stroke="#3c3c3c" stroke-opacity="0.6" stroke-width="1"/>
<circle cx="1587.8" cy="434.2" r="6.4" fill="#2575b7" fill-opacity="0.68" stroke="#3c3c3c" stroke-opacity="0.6" stroke-width="1"/>
<circle cx="1684.4" cy="443.9" r="6.4" fill="#083776" fill-opacity="0.68" stroke="#3c3c3c" stroke-opacity="0.6" stroke-width="1"/>
<circle cx="1559.9" cy="428.8" r="6.4" fill="#539ecd" fill-opacity="0.68" stroke="#3c3c3c" stroke-opacity="0.6" stroke-width="1"/>
<circle cx="1484.3" cy="418.5" r="6.4" fill="#f0f6fd" fill-opacity="0.68" stroke="#3c3c3c" stroke-opacity="0.6" stroke-width="1"/>
<circle cx="1685.8" cy="418.3" r="6.4" fill="#1a68ae" fill-opacity="0.68" stroke="#3c3c3c" stroke-opacity="0.6" stroke-width="1"/>
<circle cx="1584.9" cy="398.6" r="6.4" fill="#f3f8fe" fill-opacity="0.68" stroke="#3c3c3c" stroke-opacity="0.6" stroke-width="1"/>
<circle cx="1546.7" cy="434.1" r="6.4" fill="#4896c8" fill-opacity="0.68" stroke="#3c3c3c" stroke-opacity="0.6" stroke-width="1"/>
<circle cx="1670.0" cy="427.4" r="6.4" fill="#083e81" fill-opacity="0.68" stroke="#3c3c3c" stroke-opacity="0.6" stroke-width="1"/>
<circle cx="1496.2" cy="440.1" r="6.4" fill="#71b1d7" fill-opacity="0.68" stroke="#3c3c3c" stroke-opacity="0.6" stroke-width="1"/>
<circle cx="1681.9" cy="447.5" r="6.4" fill="#083776" fill-opacity="0.68" stroke="#3c3c3c" stroke-opacity="0.6" stroke-width="1"/>
<circle cx="1660.4" cy="435.8" r="6.4" fill="#084082" fill-opacity="0.68" stroke="#3c3c3c" stroke-opacity="0.6" stroke-width="1"/>
<line x1="1397.50" y1="433.00" x2="1468.80" y2="433.00" stroke="#062a55" stroke-width="3.6" stroke-linecap="butt"/>
<polyline points="1469.60,434.80 1469.60,200.50 1697.40,216.04" fill="none" stroke="#062a55" stroke-width="6" stroke-linejoin="miter"/>
<line x1="1402.50" y1="429.80" x2="1692.40" y2="429.80" stroke="#000" stroke-width="3.6" stroke-linecap="butt" stroke-dasharray="13.7 5.9"/>
</g>
<rect x="1402.50" y="88.80" width="289.90" height="475.40" fill="none" stroke="#000" stroke-width="1.3" rx="0"/>
<text x="0" y="0" font-size="29.5" fill="#000" stroke="#000" stroke-width="0.3" transform="translate(1383.28 145.90) scale(0.9200 1)"><tspan>4</tspan></text>
<text x="0" y="0" font-size="29.5" fill="#000" stroke="#000" stroke-width="0.3" transform="translate(1383.21 223.90) scale(0.9857 1)"><tspan>3</tspan></text>
<text x="0" y="0" font-size="29.5" fill="#000" stroke="#000" stroke-width="0.3" transform="translate(1383.03 301.90) scale(0.9714 1)"><tspan>2</tspan></text>
<text x="0" y="0" font-size="29.5" fill="#000" stroke="#000" stroke-width="0.3" transform="translate(1384.12 379.90) scale(0.7923 1)"><tspan>1</tspan></text>
<line x1="1402.50" y1="447.40" x2="1408.50" y2="447.40" stroke="#000" stroke-width="1.2" stroke-linecap="butt"/>
<text x="0" y="0" font-size="29.5" fill="#000" stroke="#000" stroke-width="0.3" transform="translate(1383.03 457.90) scale(0.9714 1)"><tspan>0</tspan></text>
<line x1="1402.50" y1="525.40" x2="1408.50" y2="525.40" stroke="#000" stroke-width="1.2" stroke-linecap="butt"/>
<text x="0" y="0" font-size="29.5" fill="#000" stroke="#000" stroke-width="0.3" transform="translate(1360.86 535.90) scale(0.8784 1)"><tspan font-family="'DejaVu Sans', sans-serif">−</tspan><tspan>1</tspan></text>
<line x1="1468.80" y1="564.20" x2="1468.80" y2="557.80" stroke="#000" stroke-width="1.2" stroke-linecap="butt"/>
<text x="0" y="0" font-size="29.5" fill="#000" stroke="#000" stroke-width="0.3" transform="translate(1461.29 587.60) scale(0.9143 1)"><tspan>0</tspan></text>
<line x1="1580.60" y1="564.20" x2="1580.60" y2="557.80" stroke="#000" stroke-width="1.2" stroke-linecap="butt"/>
<text x="0" y="0" font-size="29.5" fill="#000" stroke="#000" stroke-width="0.3" transform="translate(1574.54 587.60) scale(0.6308 1)"><tspan>1</tspan></text>
<line x1="1692.40" y1="564.20" x2="1692.40" y2="557.80" stroke="#000" stroke-width="1.2" stroke-linecap="butt"/>
<text x="0" y="0" font-size="29.5" fill="#000" stroke="#000" stroke-width="0.3" transform="translate(1683.82 587.60) scale(0.9786 1)"><tspan>2</tspan></text>
<text x="0" y="0" font-size="27.6" fill="#000" stroke="#000" stroke-width="0.3" transform="translate(1461.05 617.20) scale(1.0242 1)"><tspan>Distance [nm]</tspan></text>
<text x="0" y="0" font-size="31.5" fill="#000" stroke="#000" stroke-width="0.3" transform="translate(1351.60 466.38) rotate(-90) scale(0.8948 1)"><tspan>Electronic Energy [eV]</tspan></text>
<text x="0" y="0" font-size="30.2" fill="#000" stroke="#000" stroke-width="0.3" transform="translate(1401.32 548.50) scale(0.9394 1)"><tspan>MoS</tspan><tspan dy="5.13" font-size="21.14">2</tspan></text>
<text x="0" y="0" font-size="30.2" fill="#000" stroke="#000" stroke-width="0.3" transform="translate(1624.79 548.50) scale(0.9542 1)"><tspan>SiO</tspan><tspan dy="5.13" font-size="21.14">2</tspan></text>
<line x1="1334.50" y1="88.60" x2="1469.00" y2="88.60" stroke="#000" stroke-width="1.6" stroke-linecap="butt"/>
<text x="0" y="0" font-size="25.5" fill="#000" stroke="#000" stroke-width="0.3" transform="translate(1310.50 116.40) scale(0.9876 1)"><tspan>vac. lev.</tspan></text>
<text x="0" y="0" font-size="29.6" fill="#0f437e" stroke="#0f437e" stroke-width="0.3" transform="translate(1325.30 77.70) scale(0.8958 1)"><tspan font-style="italic">E</tspan><tspan dy="5.03" font-size="20.72">T</tspan><tspan dy="-5.03"> </tspan><tspan font-family="'DejaVu Sans', sans-serif">−</tspan><tspan> </tspan><tspan font-style="italic">E</tspan><tspan dy="5.03" font-size="20.72">C</tspan><tspan dy="-5.03"> </tspan><tspan font-family="'DejaVu Sans', sans-serif">=</tspan><tspan> 0.168 eV</tspan></text>
<line x1="1324.00" y1="53.00" x2="1355.50" y2="53.00" stroke="#0f437e" stroke-width="1.4" stroke-linecap="butt"/>
<text x="0" y="0" font-size="29.6" fill="#000" stroke="#000" stroke-width="0.3" transform="translate(1588.34 77.70) scale(0.8866 1)"><tspan font-style="italic">V</tspan><tspan dy="5.03" font-size="20.72">G</tspan><tspan dy="-5.03"> </tspan><tspan font-family="'DejaVu Sans', sans-serif">=</tspan><tspan> 10.0 V</tspan></text>
<linearGradient id="cbg1" x1="0" y1="0" x2="0" y2="1"><stop offset="0.00" stop-color="#083c7d"/><stop offset="0.10" stop-color="#0b559f"/><stop offset="0.20" stop-color="#1e6db2"/><stop offset="0.30" stop-color="#3686c0"/><stop offset="0.40" stop-color="#529dcc"/><stop offset="0.50" stop-color="#71b1d7"/><stop offset="0.60" stop-color="#97c6df"/><stop offset="0.70" stop-color="#b7d4ea"/><stop offset="0.80" stop-color="#cfe1f2"/><stop offset="0.90" stop-color="#e1edf8"/><stop offset="1.00" stop-color="#f3f8fe"/></linearGradient>
<rect x="1651.40" y="230.20" width="9.20" height="62.00" fill="url(#cbg1)" stroke="#000" stroke-width="1.1" rx="0"/>
<line x1="1660.60" y1="230.20" x2="1663.40" y2="230.20" stroke="#000" stroke-width="1.1" stroke-linecap="butt"/>
<line x1="1660.60" y1="292.20" x2="1663.40" y2="292.20" stroke="#000" stroke-width="1.1" stroke-linecap="butt"/>
<line x1="1669.10" y1="233.50" x2="1686.90" y2="233.50" stroke="#000" stroke-width="1.5" stroke-linecap="butt"/>
<text x="0" y="0" font-size="30.0" fill="#000" stroke="#000" stroke-width="0.3" transform="translate(1666.75 302.90) scale(0.9533 1)"><tspan>0</tspan></text>
<clipPath id="cc2"><rect x="1802.4" y="86.4" width="292.5999999999999" height="479.4"/></clipPath>
<g clip-path="url(#cc2)">
<rect x="1870.20" y="86.40" width="224.80" height="479.40" fill="#dadada" stroke="none" stroke-width="0" rx="0"/>
<polygon points="1802.40,442.80 1870.20,442.80 1870.20,207.80 2097.00,222.00 2097.00,84.40 1802.40,84.40" fill="#80a6d2"/>
<circle cx="1874.9" cy="429.6" r="6.4" fill="#f3f8fe" fill-opacity="0.68" stroke="#3c3c3c" stroke-opacity="0.6" stroke-width="1"/>
<circle cx="1919.0" cy="424.7" r="6.4" fill="#f3f8fe" fill-opacity="0.68" stroke="#3c3c3c" stroke-opacity="0.6" stroke-width="1"/>
<circle cx="2038.9" cy="403.0" r="6.4" fill="#f3f8fe" fill-opacity="0.68" stroke="#3c3c3c" stroke-opacity="0.6" stroke-width="1"/>
<circle cx="1980.0" cy="453.2" r="6.4" fill="#5ba3d0" fill-opacity="0.68" stroke="#3c3c3c" stroke-opacity="0.6" stroke-width="1"/>
<circle cx="2058.1" cy="424.2" r="6.4" fill="#edf4fc" fill-opacity="0.68" stroke="#3c3c3c" stroke-opacity="0.6" stroke-width="1"/>
<circle cx="2056.5" cy="458.8" r="6.4" fill="#1c6ab0" fill-opacity="0.68" stroke="#3c3c3c" stroke-opacity="0.6" stroke-width="1"/>
<circle cx="1954.0" cy="435.1" r="6.4" fill="#f2f8fd" fill-opacity="0.68" stroke="#3c3c3c" stroke-opacity="0.6" stroke-width="1"/>
<circle cx="1906.4" cy="423.8" r="6.4" fill="#f3f8fe" fill-opacity="0.68" stroke="#3c3c3c" stroke-opacity="0.6" stroke-width="1"/>
<circle cx="2072.6" cy="454.1" r="6.4" fill="#135fa7" fill-opacity="0.68" stroke="#3c3c3c" stroke-opacity="0.6" stroke-width="1"/>
<circle cx="1926.8" cy="422.4" r="6.4" fill="#f3f8fe" fill-opacity="0.68" stroke="#3c3c3c" stroke-opacity="0.6" stroke-width="1"/>
<circle cx="2084.0" cy="424.9" r="6.4" fill="#dae8f6" fill-opacity="0.68" stroke="#3c3c3c" stroke-opacity="0.6" stroke-width="1"/>
<circle cx="2035.1" cy="445.5" r="6.4" fill="#3383be" fill-opacity="0.68" stroke="#3c3c3c" stroke-opacity="0.6" stroke-width="1"/>
<circle cx="1925.1" cy="439.7" r="6.4" fill="#f2f7fd" fill-opacity="0.68" stroke="#3c3c3c" stroke-opacity="0.6" stroke-width="1"/>
<circle cx="2010.4" cy="424.4" r="6.4" fill="#f2f8fd" fill-opacity="0.68" stroke="#3c3c3c" stroke-opacity="0.6" stroke-width="1"/>
<circle cx="1947.9" cy="424.2" r="6.4" fill="#f3f8fe" fill-opacity="0.68" stroke="#3c3c3c" stroke-opacity="0.6" stroke-width="1"/>
<circle cx="2092.2" cy="427.1" r="6.4" fill="#b3d3e8" fill-opacity="0.68" stroke="#3c3c3c" stroke-opacity="0.6" stroke-width="1"/>
<circle cx="1885.8" cy="409.0" r="6.4" fill="#f3f8fe" fill-opacity="0.68" stroke="#3c3c3c" stroke-opacity="0.6" stroke-width="1"/>
<circle cx="1989.3" cy="433.3" r="6.4" fill="#eff6fc" fill-opacity="0.68" stroke="#3c3c3c" stroke-opacity="0.6" stroke-width="1"/>
<circle cx="2028.3" cy="432.6" r="6.4" fill="#dfebf7" fill-opacity="0.68" stroke="#3c3c3c" stroke-opacity="0.6" stroke-width="1"/>
<circle cx="2001.1" cy="434.8" r="6.4" fill="#e7f1fa" fill-opacity="0.68" stroke="#3c3c3c" stroke-opacity="0.6" stroke-width="1"/>
<circle cx="2076.6" cy="431.2" r="6.4" fill="#8cc0dd" fill-opacity="0.68" stroke="#3c3c3c" stroke-opacity="0.6" stroke-width="1"/>
<circle cx="1963.3" cy="440.2" r="6.4" fill="#e9f2fa" fill-opacity="0.68" stroke="#3c3c3c" stroke-opacity="0.6" stroke-width="1"/>
<circle cx="2099.5" cy="444.6" r="6.4" fill="#084f99" fill-opacity="0.68" stroke="#3c3c3c" stroke-opacity="0.6" stroke-width="1"/>
<circle cx="2078.4" cy="426.9" r="6.4" fill="#d2e3f3" fill-opacity="0.68" stroke="#3c3c3c" stroke-opacity="0.6" stroke-width="1"/>
<circle cx="2031.8" cy="426.9" r="6.4" fill="#eff6fc" fill-opacity="0.68" stroke="#3c3c3c" stroke-opacity="0.6" stroke-width="1"/>
<circle cx="1934.0" cy="422.0" r="6.4" fill="#f3f8fe" fill-opacity="0.68" stroke="#3c3c3c" stroke-opacity="0.6" stroke-width="1"/>
<circle cx="1994.3" cy="425.6" r="6.4" fill="#f3f8fe" fill-opacity="0.68" stroke="#3c3c3c" stroke-opacity="0.6" stroke-width="1"/>
<circle cx="1937.9" cy="428.7" r="6.4" fill="#f3f8fe" fill-opacity="0.68" stroke="#3c3c3c" stroke-opacity="0.6" stroke-width="1"/>
<circle cx="1927.9" cy="443.9" r="6.4" fill="#eef5fc" fill-opacity="0.68" stroke="#3c3c3c" stroke-opacity="0.6" stroke-width="1"/>
<circle cx="1888.3" cy="439.8" r="6.4" fill="#f3f8fe" fill-opacity="0.68" stroke="#3c3c3c" stroke-opacity="0.6" stroke-width="1"/>
<circle cx="2028.5" cy="442.1" r="6.4" fill="#56a0ce" fill-opacity="0.68" stroke="#3c3c3c" stroke-opacity="0.6" stroke-width="1"/>
<circle cx="1993.8" cy="442.0" r="6.4" fill="#bad6eb" fill-opacity="0.68" stroke="#3c3c3c" stroke-opacity="0.6" stroke-width="1"/>
<circle cx="2011.2" cy="430.1" r="6.4" fill="#eef5fc" fill-opacity="0.68" stroke="#3c3c3c" stroke-opacity="0.6" stroke-width="1"/>
<circle cx="2041.0" cy="442.2" r="6.4" fill="#3c8cc3" fill-opacity="0.68" stroke="#3c3c3c" stroke-opacity="0.6" stroke-width="1"/>
<circle cx="2087.2" cy="424.6" r="6.4" fill="#d9e7f5" fill-opacity="0.68" stroke="#3c3c3c" stroke-opacity="0.6" stroke-width="1"/>
<circle cx="1911.8" cy="422.7" r="6.4" fill="#f3f8fe" fill-opacity="0.68" stroke="#3c3c3c" stroke-opacity="0.6" stroke-width="1"/>
<circle cx="2054.8" cy="430.6" r="6.4" fill="#d0e2f2" fill-opacity="0.68" stroke="#3c3c3c" stroke-opacity="0.6" stroke-width="1"/>
<circle cx="1965.3" cy="439.6" r="6.4" fill="#eaf2fb" fill-opacity="0.68" stroke="#3c3c3c" stroke-opacity="0.6" stroke-width="1"/>
<circle cx="1989.8" cy="430.6" r="6.4" fill="#f2f7fd" fill-opacity="0.68" stroke="#3c3c3c" stroke-opacity="0.6" stroke-width="1"/>
<circle cx="1966.5" cy="444.1" r="6.4" fill="#d2e3f3" fill-opacity="0.68" stroke="#3c3c3c" stroke-opacity="0.6" stroke-width="1"/>
<circle cx="2061.7" cy="423.9" r="6.4" fill="#ecf4fb" fill-opacity="0.68" stroke="#3c3c3c" stroke-opacity="0.6" stroke-width="1"/>
<circle cx="1876.0" cy="411.3" r="6.4" fill="#f3f8fe" fill-opacity="0.68" stroke="#3c3c3c" stroke-opacity="0.6" stroke-width="1"/>
<circle cx="1918.6" cy="432.0" r="6.4" fill="#f3f8fe" fill-opacity="0.68" stroke="#3c3c3c" stroke-opacity="0.6" stroke-width="1"/>
<circle cx="1958.2" cy="410.4" r="6.4" fill="#f3f8fe" fill-opacity="0.68" stroke="#3c3c3c" stroke-opacity="0.6" stroke-width="1"/>
<circle cx="1946.5" cy="436.4" r="6.4" fill="#f2f7fd" fill-opacity="0.68" stroke="#3c3c3c" stroke-opacity="0.6" stroke-width="1"/>
<circle cx="1959.4" cy="438.6" r="6.4" fill="#eef5fc" fill-opacity="0.68" stroke="#3c3c3c" stroke-opacity="0.6" stroke-width="1"/>
<circle cx="1989.6" cy="436.4" r="6.4" fill="#e8f1fa" fill-opacity="0.68" stroke="#3c3c3c" stroke-opacity="0.6" stroke-width="1"/>
<circle cx="1965.2" cy="426.9" r="6.4" fill="#f3f8fe" fill-opacity="0.68" stroke="#3c3c3c" stroke-opacity="0.6" stroke-width="1"/>
<circle cx="1985.5" cy="423.0" r="6.4" fill="#f3f8fe" fill-opacity="0.68" stroke="#3c3c3c" stroke-opacity="0.6" stroke-width="1"/>
<circle cx="1928.1" cy="418.5" r="6.4" fill="#f3f8fe" fill-opacity="0.68" stroke="#3c3c3c" stroke-opacity="0.6" stroke-width="1"/>
<circle cx="1874.7" cy="395.7" r="6.4" fill="#f3f8fe" fill-opacity="0.68" stroke="#3c3c3c" stroke-opacity="0.6" stroke-width="1"/>
<circle cx="1885.3" cy="432.7" r="6.4" fill="#f3f8fe" fill-opacity="0.68" stroke="#3c3c3c" stroke-opacity="0.6" stroke-width="1"/>
<circle cx="2009.5" cy="422.8" r="6.4" fill="#f3f8fe" fill-opacity="0.68" stroke="#3c3c3c" stroke-opacity="0.6" stroke-width="1"/>
<circle cx="2057.7" cy="440.6" r="6.4" fill="#2e7ebc" fill-opacity="0.68" stroke="#3c3c3c" stroke-opacity="0.6" stroke-width="1"/>
<circle cx="1983.5" cy="418.1" r="6.4" fill="#f3f8fe" fill-opacity="0.68" stroke="#3c3c3c" stroke-opacity="0.6" stroke-width="1"/>
<circle cx="2052.1" cy="424.9" r="6.4" fill="#edf4fc" fill-opacity="0.68" stroke="#3c3c3c" stroke-opacity="0.6" stroke-width="1"/>
<circle cx="2097.3" cy="430.7" r="6.4" fill="#4997c9" fill-opacity="0.68" stroke="#3c3c3c" stroke-opacity="0.6" stroke-width="1"/>
<circle cx="2014.3" cy="429.1" r="6.4" fill="#eff6fc" fill-opacity="0.68" stroke="#3c3c3c" stroke-opacity="0.6" stroke-width="1"/>
<circle cx="1986.3" cy="434.6" r="6.4" fill="#eef5fc" fill-opacity="0.68" stroke="#3c3c3c" stroke-opacity="0.6" stroke-width="1"/>
<circle cx="1924.0" cy="436.9" r="6.4" fill="#f3f8fe" fill-opacity="0.68" stroke="#3c3c3c" stroke-opacity="0.6" stroke-width="1"/>
<circle cx="2016.7" cy="425.4" r="6.4" fill="#f2f8fd" fill-opacity="0.68" stroke="#3c3c3c" stroke-opacity="0.6" stroke-width="1"/>
<circle cx="1887.7" cy="450.8" r="6.4" fill="#ecf4fb" fill-opacity="0.68" stroke="#3c3c3c" stroke-opacity="0.6" stroke-width="1"/>
<circle cx="2088.3" cy="434.0" r="6.4" fill="#3181bd" fill-opacity="0.68" stroke="#3c3c3c" stroke-opacity="0.6" stroke-width="1"/>
<circle cx="1983.7" cy="429.8" r="6.4" fill="#f2f8fd" fill-opacity="0.68" stroke="#3c3c3c" stroke-opacity="0.6" stroke-width="1"/>
<circle cx="2030.0" cy="429.1" r="6.4" fill="#ebf3fb" fill-opacity="0.68" stroke="#3c3c3c" stroke-opacity="0.6" stroke-width="1"/>
<circle cx="1983.7" cy="439.0" r="6.4" fill="#e1edf8" fill-opacity="0.68" stroke="#3c3c3c" stroke-opacity="0.6" stroke-width="1"/>
<circle cx="2042.1" cy="436.3" r="6.4" fill="#95c5df" fill-opacity="0.68" stroke="#3c3c3c" stroke-opacity="0.6" stroke-width="1"/>
<circle cx="1973.4" cy="400.0" r="6.4" fill="#f3f8fe" fill-opacity="0.68" stroke="#3c3c3c" stroke-opacity="0.6" stroke-width="1"/>
<circle cx="1963.7" cy="413.7" r="6.4" fill="#f3f8fe" fill-opacity="0.68" stroke="#3c3c3c" stroke-opacity="0.6" stroke-width="1"/>
<circle cx="2000.2" cy="436.0" r="6.4" fill="#e3eef8" fill-opacity="0.68" stroke="#3c3c3c" stroke-opacity="0.6" stroke-width="1"/>
<circle cx="1986.6" cy="423.4" r="6.4" fill="#f3f8fe" fill-opacity="0.68" stroke="#3c3c3c" stroke-opacity="0.6" stroke-width="1"/>
<circle cx="1977.9" cy="442.5" r="6.4" fill="#d1e2f3" fill-opacity="0.68" stroke="#3c3c3c" stroke-opacity="0.6" stroke-width="1"/>
<circle cx="2052.9" cy="442.0" r="6.4" fill="#2d7dbb" fill-opacity="0.68" stroke="#3c3c3c" stroke-opacity="0.6" stroke-width="1"/>
<circle cx="1889.3" cy="436.7" r="6.4" fill="#f3f8fe" fill-opacity="0.68" stroke="#3c3c3c" stroke-opacity="0.6" stroke-width="1"/>
<circle cx="1939.6" cy="421.2" r="6.4" fill="#f3f8fe" fill-opacity="0.68" stroke="#3c3c3c" stroke-opacity="0.6" stroke-width="1"/>
<circle cx="1956.7" cy="417.1" r="6.4" fill="#f3f8fe" fill-opacity="0.68" stroke="#3c3c3c" stroke-opacity="0.6" stroke-width="1"/>
<circle cx="1937.0" cy="411.7" r="6.4" fill="#f3f8fe" fill-opacity="0.68" stroke="#3c3c3c" stroke-opacity="0.6" stroke-width="1"/>
<circle cx="2083.2" cy="426.6" r="6.4" fill="#cde0f1" fill-opacity="0.68" stroke="#3c3c3c" stroke-opacity="0.6" stroke-width="1"/>
<circle cx="2085.3" cy="427.0" r="6.4" fill="#c7dbef" fill-opacity="0.68" stroke="#3c3c3c" stroke-opacity="0.6" stroke-width="1"/>
<circle cx="2099.8" cy="436.9" r="6.4" fill="#0f5aa3" fill-opacity="0.68" stroke="#3c3c3c" stroke-opacity="0.6" stroke-width="1"/>
<circle cx="2028.8" cy="420.2" r="6.4" fill="#f3f8fe" fill-opacity="0.68" stroke="#3c3c3c" stroke-opacity="0.6" stroke-width="1"/>
<circle cx="1964.6" cy="392.6" r="6.4" fill="#f3f8fe" fill-opacity="0.68" stroke="#3c3c3c" stroke-opacity="0.6" stroke-width="1"/>
<circle cx="1910.4" cy="432.2" r="6.4" fill="#f3f8fe" fill-opacity="0.68" stroke="#3c3c3c" stroke-opacity="0.6" stroke-width="1"/>
<circle cx="1879.3" cy="429.4" r="6.4" fill="#f3f8fe" fill-opacity="0.68" stroke="#3c3c3c" stroke-opacity="0.6" stroke-width="1"/>
<circle cx="2036.5" cy="398.9" r="6.4" fill="#f3f8fe" fill-opacity="0.68" stroke="#3c3c3c" stroke-opacity="0.6" stroke-width="1"/>
<circle cx="2000.8" cy="429.5" r="6.4" fill="#f1f7fd" fill-opacity="0.68" stroke="#3c3c3c" stroke-opacity="0.6" stroke-width="1"/>
<circle cx="2056.0" cy="446.0" r="6.4" fill="#1f6eb3" fill-opacity="0.68" stroke="#3c3c3c" stroke-opacity="0.6" stroke-width="1"/>
<circle cx="1923.2" cy="420.4" r="6.4" fill="#f3f8fe" fill-opacity="0.68" stroke="#3c3c3c" stroke-opacity="0.6" stroke-width="1"/>
<circle cx="1914.6" cy="432.9" r="6.4" fill="#f3f8fe" fill-opacity="0.68" stroke="#3c3c3c" stroke-opacity="0.6" stroke-width="1"/>
<circle cx="2089.7" cy="429.5" r="6.4" fill="#81badb" fill-opacity="0.68" stroke="#3c3c3c" stroke-opacity="0.6" stroke-width="1"/>
<circle cx="2027.7" cy="443.3" r="6.4" fill="#4a98c9" fill-opacity="0.68" stroke="#3c3c3c" stroke-opacity="0.6" stroke-width="1"/>
<circle cx="1900.4" cy="428.0" r="6.4" fill="#f3f8fe" fill-opacity="0.68" stroke="#3c3c3c" stroke-opacity="0.6" stroke-width="1"/>
<circle cx="1909.4" cy="428.9" r="6.4" fill="#f3f8fe" fill-opacity="0.68" stroke="#3c3c3c" stroke-opacity="0.6" stroke-width="1"/>
<circle cx="1916.5" cy="440.7" r="6.4" fill="#f2f8fd" fill-opacity="0.68" stroke="#3c3c3c" stroke-opacity="0.6" stroke-width="1"/>
<circle cx="2039.3" cy="433.9" r="6.4" fill="#c9ddf0" fill-opacity="0.68" stroke="#3c3c3c" stroke-opacity="0.6" stroke-width="1"/>
<circle cx="1960.1" cy="413.3" r="6.4" fill="#f3f8fe" fill-opacity="0.68" stroke="#3c3c3c" stroke-opacity="0.6" stroke-width="1"/>
<circle cx="1988.9" cy="429.5" r="6.4" fill="#f2f8fd" fill-opacity="0.68" stroke="#3c3c3c" stroke-opacity="0.6" stroke-width="1"/>
<circle cx="2087.0" cy="417.2" r="6.4" fill="#f1f7fd" fill-opacity="0.68" stroke="#3c3c3c" stroke-opacity="0.6" stroke-width="1"/>
<circle cx="2031.2" cy="429.6" r="6.4" fill="#eaf2fb" fill-opacity="0.68" stroke="#3c3c3c" stroke-opacity="0.6" stroke-width="1"/>
<circle cx="1988.5" cy="433.6" r="6.4" fill="#eef5fc" fill-opacity="0.68" stroke="#3c3c3c" stroke-opacity="0.6" stroke-width="1"/>
<circle cx="2011.1" cy="427.5" r="6.4" fill="#f2f7fd" fill-opacity="0.68" stroke="#3c3c3c" stroke-opacity="0.6" stroke-width="1"/>
<circle cx="1976.2" cy="452.0" r="6.4" fill="#65aad4" fill-opacity="0.68" stroke="#3c3c3c" stroke-opacity="0.6" stroke-width="1"/>
<circle cx="1883.6" cy="429.7" r="6.4" fill="#f3f8fe" fill-opacity="0.68" stroke="#3c3c3c" stroke-opacity="0.6" stroke-width="1"/>
<circle cx="2090.5" cy="441.7" r="6.4" fill="#0d57a1" fill-opacity="0.68" stroke="#3c3c3c" stroke-opacity="0.6" stroke-width="1"/>
<circle cx="1975.3" cy="426.9" r="6.4" fill="#f3f8fe" fill-opacity="0.68" stroke="#3c3c3c" stroke-opacity="0.6" stroke-width="1"/>
<circle cx="2035.3" cy="434.7" r="6.4" fill="#c7dbef" fill-opacity="0.68" stroke="#3c3c3c" stroke-opacity="0.6" stroke-width="1"/>
<circle cx="1885.0" cy="429.3" r="6.4" fill="#f3f8fe" fill-opacity="0.68" stroke="#3c3c3c" stroke-opacity="0.6" stroke-width="1"/>
<circle cx="1991.6" cy="418.3" r="6.4" fill="#f3f8fe" fill-opacity="0.68" stroke="#3c3c3c" stroke-opacity="0.6" stroke-width="1"/>
<circle cx="1967.4" cy="424.9" r="6.4" fill="#f3f8fe" fill-opacity="0.68" stroke="#3c3c3c" stroke-opacity="0.6" stroke-width="1"/>
<circle cx="2022.7" cy="438.5" r="6.4" fill="#a9cfe5" fill-opacity="0.68" stroke="#3c3c3c" stroke-opacity="0.6" stroke-width="1"/>
<circle cx="2074.3" cy="415.2" r="6.4" fill="#f2f8fd" fill-opacity="0.68" stroke="#3c3c3c" stroke-opacity="0.6" stroke-width="1"/>
<circle cx="2090.5" cy="435.5" r="6.4" fill="#1f6eb3" fill-opacity="0.68" stroke="#3c3c3c" stroke-opacity="0.6" stroke-width="1"/>
<circle cx="1984.3" cy="436.4" r="6.4" fill="#eaf3fb" fill-opacity="0.68" stroke="#3c3c3c" stroke-opacity="0.6" stroke-width="1"/>
<circle cx="1926.3" cy="427.3" r="6.4" fill="#f3f8fe" fill-opacity="0.68" stroke="#3c3c3c" stroke-opacity="0.6" stroke-width="1"/>
<circle cx="2066.4" cy="424.3" r="6.4" fill="#eaf2fb" fill-opacity="0.68" stroke="#3c3c3c" stroke-opacity="0.6" stroke-width="1"/>
<circle cx="1969.3" cy="412.5" r="6.4" fill="#f3f8fe" fill-opacity="0.68" stroke="#3c3c3c" stroke-opacity="0.6" stroke-width="1"/>
<circle cx="1941.4" cy="442.5" r="6.4" fill="#ebf3fb" fill-opacity="0.68" stroke="#3c3c3c" stroke-opacity="0.6" stroke-width="1"/>
<circle cx="2076.8" cy="417.6" r="6.4" fill="#f2f7fd" fill-opacity="0.68" stroke="#3c3c3c" stroke-opacity="0.6" stroke-width="1"/>
<circle cx="1888.5" cy="429.8" r="6.4" fill="#f3f8fe" fill-opacity="0.68" stroke="#3c3c3c" stroke-opacity="0.6" stroke-width="1"/>
<circle cx="2032.9" cy="435.0" r="6.4" fill="#c7dcef" fill-opacity="0.68" stroke="#3c3c3c" stroke-opacity="0.6" stroke-width="1"/>
<circle cx="2020.2" cy="413.1" r="6.4" fill="#f3f8fe" fill-opacity="0.68" stroke="#3c3c3c" stroke-opacity="0.6" stroke-width="1"/>
<circle cx="1879.0" cy="425.7" r="6.4" fill="#f3f8fe" fill-opacity="0.68" stroke="#3c3c3c" stroke-opacity="0.6" stroke-width="1"/>
<circle cx="2074.3" cy="419.6" r="6.4" fill="#f0f6fd" fill-opacity="0.68" stroke="#3c3c3c" stroke-opacity="0.6" stroke-width="1"/>
<circle cx="2069.4" cy="433.4" r="6.4" fill="#71b1d7" fill-opacity="0.68" stroke="#3c3c3c" stroke-opacity="0.6" stroke-width="1"/>
<circle cx="2090.3" cy="442.1" r="6.4" fill="#0d57a1" fill-opacity="0.68" stroke="#3c3c3c" stroke-opacity="0.6" stroke-width="1"/>
<circle cx="1986.0" cy="418.8" r="6.4" fill="#f3f8fe" fill-opacity="0.68" stroke="#3c3c3c" stroke-opacity="0.6" stroke-width="1"/>
<circle cx="2063.8" cy="396.7" r="6.4" fill="#f3f8fe" fill-opacity="0.68" stroke="#3c3c3c" stroke-opacity="0.6" stroke-width="1"/>
<circle cx="1969.7" cy="425.4" r="6.4" fill="#f3f8fe" fill-opacity="0.68" stroke="#3c3c3c" stroke-opacity="0.6" stroke-width="1"/>
<circle cx="1966.6" cy="432.9" r="6.4" fill="#f2f8fd" fill-opacity="0.68" stroke="#3c3c3c" stroke-opacity="0.6" stroke-width="1"/>
<circle cx="1929.2" cy="416.5" r="6.4" fill="#f3f8fe" fill-opacity="0.68" stroke="#3c3c3c" stroke-opacity="0.6" stroke-width="1"/>
<circle cx="1962.8" cy="416.6" r="6.4" fill="#f3f8fe" fill-opacity="0.68" stroke="#3c3c3c" stroke-opacity="0.6" stroke-width="1"/>
<circle cx="2044.1" cy="432.3" r="6.4" fill="#d0e2f2" fill-opacity="0.68" stroke="#3c3c3c" stroke-opacity="0.6" stroke-width="1"/>
<circle cx="2061.5" cy="429.1" r="6.4" fill="#d4e4f4" fill-opacity="0.68" stroke="#3c3c3c" stroke-opacity="0.6" stroke-width="1"/>
<circle cx="1878.5" cy="419.0" r="6.4" fill="#f3f8fe" fill-opacity="0.68" stroke="#3c3c3c" stroke-opacity="0.6" stroke-width="1"/>
<circle cx="2101.5" cy="423.7" r="6.4" fill="#d0e1f2" fill-opacity="0.68" stroke="#3c3c3c" stroke-opacity="0.6" stroke-width="1"/>
<circle cx="1886.1" cy="424.6" r="6.4" fill="#f3f8fe" fill-opacity="0.68" stroke="#3c3c3c" stroke-opacity="0.6" stroke-width="1"/>
<circle cx="1969.5" cy="427.4" r="6.4" fill="#f3f8fe" fill-opacity="0.68" stroke="#3c3c3c" stroke-opacity="0.6" stroke-width="1"/>
<circle cx="2013.7" cy="437.4" r="6.4" fill="#cddff1" fill-opacity="0.68" stroke="#3c3c3c" stroke-opacity="0.6" stroke-width="1"/>
<circle cx="1946.4" cy="406.9" r="6.4" fill="#f3f8fe" fill-opacity="0.68" stroke="#3c3c3c" stroke-opacity="0.6" stroke-width="1"/>
<circle cx="1959.5" cy="425.9" r="6.4" fill="#f3f8fe" fill-opacity="0.68" stroke="#3c3c3c" stroke-opacity="0.6" stroke-width="1"/>
<circle cx="1899.0" cy="417.7" r="6.4" fill="#f3f8fe" fill-opacity="0.68" stroke="#3c3c3c" stroke-opacity="0.6" stroke-width="1"/>
<circle cx="1986.3" cy="436.0" r="6.4" fill="#eaf3fb" fill-opacity="0.68" stroke="#3c3c3c" stroke-opacity="0.6" stroke-width="1"/>
<circle cx="1875.0" cy="428.8" r="6.4" fill="#f3f8fe" fill-opacity="0.68" stroke="#3c3c3c" stroke-opacity="0.6" stroke-width="1"/>
<circle cx="2077.9" cy="432.4" r="6.4" fill="#68acd5" fill-opacity="0.68" stroke="#3c3c3c" stroke-opacity="0.6" stroke-width="1"/>
<circle cx="1952.2" cy="412.8" r="6.4" fill="#f3f8fe" fill-opacity="0.68" stroke="#3c3c3c" stroke-opacity="0.6" stroke-width="1"/>
<circle cx="2077.2" cy="412.3" r="6.4" fill="#f3f8fe" fill-opacity="0.68" stroke="#3c3c3c" stroke-opacity="0.6" stroke-width="1"/>
<circle cx="2095.8" cy="418.3" r="6.4" fill="#eef5fc" fill-opacity="0.68" stroke="#3c3c3c" stroke-opacity="0.6" stroke-width="1"/>
<circle cx="1988.5" cy="435.9" r="6.4" fill="#eaf2fb" fill-opacity="0.68" stroke="#3c3c3c" stroke-opacity="0.6" stroke-width="1"/>
<circle cx="1908.5" cy="425.9" r="6.4" fill="#f3f8fe" fill-opacity="0.68" stroke="#3c3c3c" stroke-opacity="0.6" stroke-width="1"/>
<circle cx="2055.8" cy="433.1" r="6.4" fill="#abd0e6" fill-opacity="0.68" stroke="#3c3c3c" stroke-opacity="0.6" stroke-width="1"/>
<circle cx="1920.8" cy="421.2" r="6.4" fill="#f3f8fe" fill-opacity="0.68" stroke="#3c3c3c" stroke-opacity="0.6" stroke-width="1"/>
<circle cx="2026.1" cy="423.5" r="6.4" fill="#f2f8fd" fill-opacity="0.68" stroke="#3c3c3c" stroke-opacity="0.6" stroke-width="1"/>
<circle cx="1878.0" cy="422.1" r="6.4" fill="#f3f8fe" fill-opacity="0.68" stroke="#3c3c3c" stroke-opacity="0.6" stroke-width="1"/>
<circle cx="1890.1" cy="424.6" r="6.4" fill="#f3f8fe" fill-opacity="0.68" stroke="#3c3c3c" stroke-opacity="0.6" stroke-width="1"/>
<circle cx="1996.1" cy="423.9" r="6.4" fill="#f3f8fe" fill-opacity="0.68" stroke="#3c3c3c" stroke-opacity="0.6" stroke-width="1"/>
<circle cx="1923.4" cy="412.0" r="6.4" fill="#f3f8fe" fill-opacity="0.68" stroke="#3c3c3c" stroke-opacity="0.6" stroke-width="1"/>
<circle cx="1894.2" cy="428.6" r="6.4" fill="#f3f8fe" fill-opacity="0.68" stroke="#3c3c3c" stroke-opacity="0.6" stroke-width="1"/>
<circle cx="1977.5" cy="421.6" r="6.4" fill="#f3f8fe" fill-opacity="0.68" stroke="#3c3c3c" stroke-opacity="0.6" stroke-width="1"/>
<circle cx="1891.4" cy="430.4" r="6.4" fill="#f3f8fe" fill-opacity="0.68" stroke="#3c3c3c" stroke-opacity="0.6" stroke-width="1"/>
<circle cx="2061.5" cy="441.1" r="6.4" fill="#2575b7" fill-opacity="0.68" stroke="#3c3c3c" stroke-opacity="0.6" stroke-width="1"/>
<circle cx="2070.9" cy="434.7" r="6.4" fill="#529dcc" fill-opacity="0.68" stroke="#3c3c3c" stroke-opacity="0.6" stroke-width="1"/>
<circle cx="1937.6" cy="442.6" r="6.4" fill="#edf4fc" fill-opacity="0.68" stroke="#3c3c3c" stroke-opacity="0.6" stroke-width="1"/>
<circle cx="2018.0" cy="435.3" r="6.4" fill="#d8e7f5" fill-opacity="0.68" stroke="#3c3c3c" stroke-opacity="0.6" stroke-width="1"/>
<circle cx="1930.7" cy="413.9" r="6.4" fill="#f3f8fe" fill-opacity="0.68" stroke="#3c3c3c" stroke-opacity="0.6" stroke-width="1"/>
<circle cx="1995.0" cy="432.0" r="6.4" fill="#eff6fc" fill-opacity="0.68" stroke="#3c3c3c" stroke-opacity="0.6" stroke-width="1"/>
<circle cx="1927.0" cy="423.3" r="6.4" fill="#f3f8fe" fill-opacity="0.68" stroke="#3c3c3c" stroke-opacity="0.6" stroke-width="1"/>
<circle cx="1920.8" cy="420.2" r="6.4" fill="#f3f8fe" fill-opacity="0.68" stroke="#3c3c3c" stroke-opacity="0.6" stroke-width="1"/>
<circle cx="1952.2" cy="416.4" r="6.4" fill="#f3f8fe" fill-opacity="0.68" stroke="#3c3c3c" stroke-opacity="0.6" stroke-width="1"/>
<circle cx="1931.3" cy="410.1" r="6.4" fill="#f3f8fe" fill-opacity="0.68" stroke="#3c3c3c" stroke-opacity="0.6" stroke-width="1"/>
<circle cx="1931.7" cy="425.1" r="6.4" fill="#f3f8fe" fill-opacity="0.68" stroke="#3c3c3c" stroke-opacity="0.6" stroke-width="1"/>
<circle cx="1917.3" cy="433.8" r="6.4" fill="#f3f8fe" fill-opacity="0.68" stroke="#3c3c3c" stroke-opacity="0.6" stroke-width="1"/>
<circle cx="2091.5" cy="421.7" r="6.4" fill="#e5eff9" fill-opacity="0.68" stroke="#3c3c3c" stroke-opacity="0.6" stroke-width="1"/>
<circle cx="1905.0" cy="421.2" r="6.4" fill="#f3f8fe" fill-opacity="0.68" stroke="#3c3c3c" stroke-opacity="0.6" stroke-width="1"/>
<circle cx="2070.2" cy="408.8" r="6.4" fill="#f3f8fe" fill-opacity="0.68" stroke="#3c3c3c" stroke-opacity="0.6" stroke-width="1"/>
<circle cx="1875.3" cy="423.2" r="6.4" fill="#f3f8fe" fill-opacity="0.68" stroke="#3c3c3c" stroke-opacity="0.6" stroke-width="1"/>
<circle cx="2031.5" cy="439.3" r="6.4" fill="#7ab6d9" fill-opacity="0.68" stroke="#3c3c3c" stroke-opacity="0.6" stroke-width="1"/>
<circle cx="2086.5" cy="402.2" r="6.4" fill="#f3f8fe" fill-opacity="0.68" stroke="#3c3c3c" stroke-opacity="0.6" stroke-width="1"/>
<circle cx="1895.7" cy="426.4" r="6.4" fill="#f3f8fe" fill-opacity="0.68" stroke="#3c3c3c" stroke-opacity="0.6" stroke-width="1"/>
<circle cx="2099.1" cy="434.3" r="6.4" fill="#1b69af" fill-opacity="0.68" stroke="#3c3c3c" stroke-opacity="0.6" stroke-width="1"/>
<circle cx="2068.5" cy="440.8" r="6.4" fill="#1f6eb3" fill-opacity="0.68" stroke="#3c3c3c" stroke-opacity="0.6" stroke-width="1"/>
<circle cx="1967.7" cy="426.8" r="6.4" fill="#f3f8fe" fill-opacity="0.68" stroke="#3c3c3c" stroke-opacity="0.6" stroke-width="1"/>
<circle cx="1888.4" cy="430.4" r="6.4" fill="#f3f8fe" fill-opacity="0.68" stroke="#3c3c3c" stroke-opacity="0.6" stroke-width="1"/>
<circle cx="2055.9" cy="427.6" r="6.4" fill="#e3eef8" fill-opacity="0.68" stroke="#3c3c3c" stroke-opacity="0.6" stroke-width="1"/>
<circle cx="1933.3" cy="411.8" r="6.4" fill="#f3f8fe" fill-opacity="0.68" stroke="#3c3c3c" stroke-opacity="0.6" stroke-width="1"/>
<circle cx="1890.8" cy="424.8" r="6.4" fill="#f3f8fe" fill-opacity="0.68" stroke="#3c3c3c" stroke-opacity="0.6" stroke-width="1"/>
<circle cx="1957.8" cy="429.5" r="6.4" fill="#f3f8fe" fill-opacity="0.68" stroke="#3c3c3c" stroke-opacity="0.6" stroke-width="1"/>
<circle cx="1918.7" cy="427.0" r="6.4" fill="#f3f8fe" fill-opacity="0.68" stroke="#3c3c3c" stroke-opacity="0.6" stroke-width="1"/>
<circle cx="2018.9" cy="427.1" r="6.4" fill="#f1f7fd" fill-opacity="0.68" stroke="#3c3c3c" stroke-opacity="0.6" stroke-width="1"/>
<circle cx="1970.1" cy="443.3" r="6.4" fill="#d4e4f4" fill-opacity="0.68" stroke="#3c3c3c" stroke-opacity="0.6" stroke-width="1"/>
<circle cx="1898.4" cy="423.9" r="6.4" fill="#f3f8fe" fill-opacity="0.68" stroke="#3c3c3c" stroke-opacity="0.6" stroke-width="1"/>
<circle cx="2072.2" cy="433.4" r="6.4" fill="#68acd5" fill-opacity="0.68" stroke="#3c3c3c" stroke-opacity="0.6" stroke-width="1"/>
<circle cx="1973.8" cy="438.3" r="6.4" fill="#eaf2fb" fill-opacity="0.68" stroke="#3c3c3c" stroke-opacity="0.6" stroke-width="1"/>
<circle cx="2067.1" cy="432.5" r="6.4" fill="#92c4de" fill-opacity="0.68" stroke="#3c3c3c" stroke-opacity="0.6" stroke-width="1"/>
<circle cx="2066.3" cy="444.7" r="6.4" fill="#1967ad" fill-opacity="0.68" stroke="#3c3c3c" stroke-opacity="0.6" stroke-width="1"/>
<circle cx="1959.6" cy="432.0" r="6.4" fill="#f2f8fd" fill-opacity="0.68" stroke="#3c3c3c" stroke-opacity="0.6" stroke-width="1"/>
<circle cx="1961.0" cy="435.7" r="6.4" fill="#f1f7fd" fill-opacity="0.68" stroke="#3c3c3c" stroke-opacity="0.6" stroke-width="1"/>
<circle cx="1949.0" cy="426.8" r="6.4" fill="#f3f8fe" fill-opacity="0.68" stroke="#3c3c3c" stroke-opacity="0.6" stroke-width="1"/>
<circle cx="2036.6" cy="438.1" r="6.4" fill="#82bbdb" fill-opacity="0.68" stroke="#3c3c3c" stroke-opacity="0.6" stroke-width="1"/>
<circle cx="2000.9" cy="443.0" r="6.4" fill="#99c7e0" fill-opacity="0.68" stroke="#3c3c3c" stroke-opacity="0.6" stroke-width="1"/>
<circle cx="2056.2" cy="421.7" r="6.4" fill="#f1f7fd" fill-opacity="0.68" stroke="#3c3c3c" stroke-opacity="0.6" stroke-width="1"/>
<circle cx="2029.1" cy="428.7" r="6.4" fill="#edf4fc" fill-opacity="0.68" stroke="#3c3c3c" stroke-opacity="0.6" stroke-width="1"/>
<circle cx="1947.3" cy="438.2" r="6.4" fill="#f1f7fd" fill-opacity="0.68" stroke="#3c3c3c" stroke-opacity="0.6" stroke-width="1"/>
<circle cx="1928.3" cy="433.7" r="6.4" fill="#f3f8fe" fill-opacity="0.68" stroke="#3c3c3c" stroke-opacity="0.6" stroke-width="1"/>
<circle cx="1933.9" cy="424.1" r="6.4" fill="#f3f8fe" fill-opacity="0.68" stroke="#3c3c3c" stroke-opacity="0.6" stroke-width="1"/>
<circle cx="1886.9" cy="429.6" r="6.4" fill="#f3f8fe" fill-opacity="0.68" stroke="#3c3c3c" stroke-opacity="0.6" stroke-width="1"/>
<circle cx="1983.0" cy="420.0" r="6.4" fill="#f3f8fe" fill-opacity="0.68" stroke="#3c3c3c" stroke-opacity="0.6" stroke-width="1"/>
<circle cx="2069.6" cy="438.3" r="6.4" fill="#2b7bba" fill-opacity="0.68" stroke="#3c3c3c" stroke-opacity="0.6" stroke-width="1"/>
<circle cx="1960.0" cy="432.5" r="6.4" fill="#f2f8fd" fill-opacity="0.68" stroke="#3c3c3c" stroke-opacity="0.6" stroke-width="1"/>
<circle cx="1936.3" cy="429.8" r="6.4" fill="#f3f8fe" fill-opacity="0.68" stroke="#3c3c3c" stroke-opacity="0.6" stroke-width="1"/>
<circle cx="1957.6" cy="438.1" r="6.4" fill="#eff6fc" fill-opacity="0.68" stroke="#3c3c3c" stroke-opacity="0.6" stroke-width="1"/>
<circle cx="2002.5" cy="433.9" r="6.4" fill="#eaf2fb" fill-opacity="0.68" stroke="#3c3c3c" stroke-opacity="0.6" stroke-width="1"/>
<circle cx="1999.3" cy="423.0" r="6.4" fill="#f3f8fe" fill-opacity="0.68" stroke="#3c3c3c" stroke-opacity="0.6" stroke-width="1"/>
<circle cx="1975.1" cy="422.9" r="6.4" fill="#f3f8fe" fill-opacity="0.68" stroke="#3c3c3c" stroke-opacity="0.6" stroke-width="1"/>
<circle cx="1878.9" cy="421.6" r="6.4" fill="#f3f8fe" fill-opacity="0.68" stroke="#3c3c3c" stroke-opacity="0.6" stroke-width="1"/>
<circle cx="1946.7" cy="441.0" r="6.4" fill="#edf4fc" fill-opacity="0.68" stroke="#3c3c3c" stroke-opacity="0.6" stroke-width="1"/>
<circle cx="1965.9" cy="431.7" r="6.4" fill="#f2f8fd" fill-opacity="0.68" stroke="#3c3c3c" stroke-opacity="0.6" stroke-width="1"/>
<circle cx="1888.8" cy="418.2" r="6.4" fill="#f3f8fe" fill-opacity="0.68" stroke="#3c3c3c" stroke-opacity="0.6" stroke-width="1"/>
<circle cx="1976.5" cy="435.0" r="6.4" fill="#eff6fc" fill-opacity="0.68" stroke="#3c3c3c" stroke-opacity="0.6" stroke-width="1"/>
<circle cx="2058.3" cy="444.4" r="6.4" fill="#206fb4" fill-opacity="0.68" stroke="#3c3c3c" stroke-opacity="0.6" stroke-width="1"/>
<circle cx="1948.2" cy="434.4" r="6.4" fill="#f2f8fd" fill-opacity="0.68" stroke="#3c3c3c" stroke-opacity="0.6" stroke-width="1"/>
<circle cx="1929.7" cy="422.2" r="6.4" fill="#f3f8fe" fill-opacity="0.68" stroke="#3c3c3c" stroke-opacity="0.6" stroke-width="1"/>
<circle cx="2027.3" cy="428.8" r="6.4" fill="#edf4fc" fill-opacity="0.68" stroke="#3c3c3c" stroke-opacity="0.6" stroke-width="1"/>
<circle cx="1931.0" cy="443.2" r="6.4" fill="#eef5fc" fill-opacity="0.68" stroke="#3c3c3c" stroke-opacity="0.6" stroke-width="1"/>
<circle cx="2000.3" cy="420.3" r="6.4" fill="#f3f8fe" fill-opacity="0.68" stroke="#3c3c3c" stroke-opacity="0.6" stroke-width="1"/>
<circle cx="2043.0" cy="438.5" r="6.4" fill="#64a9d3" fill-opacity="0.68" stroke="#3c3c3c" stroke-opacity="0.6" stroke-width="1"/>
<circle cx="2047.1" cy="440.2" r="6.4" fill="#4191c6" fill-opacity="0.68" stroke="#3c3c3c" stroke-opacity="0.6" stroke-width="1"/>
<circle cx="2040.3" cy="425.6" r="6.4" fill="#eff6fc" fill-opacity="0.68" stroke="#3c3c3c" stroke-opacity="0.6" stroke-width="1"/>
<circle cx="2030.0" cy="426.8" r="6.4" fill="#eff6fc" fill-opacity="0.68" stroke="#3c3c3c" stroke-opacity="0.6" stroke-width="1"/>
<circle cx="1910.1" cy="435.3" r="6.4" fill="#f3f8fe" fill-opacity="0.68" stroke="#3c3c3c" stroke-opacity="0.6" stroke-width="1"/>
<circle cx="2085.7" cy="435.1" r="6.4" fill="#2b7bba" fill-opacity="0.68" stroke="#3c3c3c" stroke-opacity="0.6" stroke-width="1"/>
<circle cx="2033.2" cy="425.0" r="6.4" fill="#f1f7fd" fill-opacity="0.68" stroke="#3c3c3c" stroke-opacity="0.6" stroke-width="1"/>
<circle cx="2075.8" cy="418.9" r="6.4" fill="#f1f7fd" fill-opacity="0.68" stroke="#3c3c3c" stroke-opacity="0.6" stroke-width="1"/>
<circle cx="1931.2" cy="424.4" r="6.4" fill="#f3f8fe" fill-opacity="0.68" stroke="#3c3c3c" stroke-opacity="0.6" stroke-width="1"/>
<circle cx="1884.5" cy="430.7" r="6.4" fill="#f3f8fe" fill-opacity="0.68" stroke="#3c3c3c" stroke-opacity="0.6" stroke-width="1"/>
<circle cx="2000.1" cy="419.1" r="6.4" fill="#f3f8fe" fill-opacity="0.68" stroke="#3c3c3c" stroke-opacity="0.6" stroke-width="1"/>
<circle cx="1889.6" cy="419.2" r="6.4" fill="#f3f8fe" fill-opacity="0.68" stroke="#3c3c3c" stroke-opacity="0.6" stroke-width="1"/>
<circle cx="1918.1" cy="423.8" r="6.4" fill="#f3f8fe" fill-opacity="0.68" stroke="#3c3c3c" stroke-opacity="0.6" stroke-width="1"/>
<circle cx="1951.2" cy="424.3" r="6.4" fill="#f3f8fe" fill-opacity="0.68" stroke="#3c3c3c" stroke-opacity="0.6" stroke-width="1"/>
<circle cx="2013.5" cy="426.3" r="6.4" fill="#f2f7fd" fill-opacity="0.68" stroke="#3c3c3c" stroke-opacity="0.6" stroke-width="1"/>
<circle cx="2083.8" cy="431.1" r="6.4" fill="#6fb0d7" fill-opacity="0.68" stroke="#3c3c3c" stroke-opacity="0.6" stroke-width="1"/>
<circle cx="1908.5" cy="416.7" r="6.4" fill="#f3f8fe" fill-opacity="0.68" stroke="#3c3c3c" stroke-opacity="0.6" stroke-width="1"/>
<circle cx="1997.6" cy="412.4" r="6.4" fill="#f3f8fe" fill-opacity="0.68" stroke="#3c3c3c" stroke-opacity="0.6" stroke-width="1"/>
<circle cx="1918.4" cy="415.9" r="6.4" fill="#f3f8fe" fill-opacity="0.68" stroke="#3c3c3c" stroke-opacity="0.6" stroke-width="1"/>
<circle cx="1920.4" cy="425.8" r="6.4" fill="#f3f8fe" fill-opacity="0.68" stroke="#3c3c3c" stroke-opacity="0.6" stroke-width="1"/>
<circle cx="1898.8" cy="423.1" r="6.4" fill="#f3f8fe" fill-opacity="0.68" stroke="#3c3c3c" stroke-opacity="0.6" stroke-width="1"/>
<circle cx="1965.8" cy="418.6" r="6.4" fill="#f3f8fe" fill-opacity="0.68" stroke="#3c3c3c" stroke-opacity="0.6" stroke-width="1"/>
<circle cx="1993.6" cy="417.0" r="6.4" fill="#f3f8fe" fill-opacity="0.68" stroke="#3c3c3c" stroke-opacity="0.6" stroke-width="1"/>
<circle cx="1880.4" cy="418.9" r="6.4" fill="#f3f8fe" fill-opacity="0.68" stroke="#3c3c3c" stroke-opacity="0.6" stroke-width="1"/>
<circle cx="2057.4" cy="423.9" r="6.4" fill="#eef5fc" fill-opacity="0.68" stroke="#3c3c3c" stroke-opacity="0.6" stroke-width="1"/>
<circle cx="1989.8" cy="435.0" r="6.4" fill="#ecf4fb" fill-opacity="0.68" stroke="#3c3c3c" stroke-opacity="0.6" stroke-width="1"/>
<circle cx="2086.9" cy="444.7" r="6.4" fill="#0d57a1" fill-opacity="0.68" stroke="#3c3c3c" stroke-opacity="0.6" stroke-width="1"/>
<circle cx="1961.7" cy="429.7" r="6.4" fill="#f3f8fe" fill-opacity="0.68" stroke="#3c3c3c" stroke-opacity="0.6" stroke-width="1"/>
<circle cx="1885.8" cy="419.3" r="6.4" fill="#f3f8fe" fill-opacity="0.68" stroke="#3c3c3c" stroke-opacity="0.6" stroke-width="1"/>
<circle cx="2088.2" cy="419.1" r="6.4" fill="#eef5fc" fill-opacity="0.68" stroke="#3c3c3c" stroke-opacity="0.6" stroke-width="1"/>
<circle cx="1986.9" cy="399.5" r="6.4" fill="#f3f8fe" fill-opacity="0.68" stroke="#3c3c3c" stroke-opacity="0.6" stroke-width="1"/>
<circle cx="1948.4" cy="434.9" r="6.4" fill="#f2f8fd" fill-opacity="0.68" stroke="#3c3c3c" stroke-opacity="0.6" stroke-width="1"/>
<circle cx="2072.4" cy="428.2" r="6.4" fill="#cee0f2" fill-opacity="0.68" stroke="#3c3c3c" stroke-opacity="0.6" stroke-width="1"/>
<circle cx="1897.8" cy="441.0" r="6.4" fill="#f3f8fe" fill-opacity="0.68" stroke="#3c3c3c" stroke-opacity="0.6" stroke-width="1"/>
<circle cx="2084.3" cy="448.3" r="6.4" fill="#0e58a2" fill-opacity="0.68" stroke="#3c3c3c" stroke-opacity="0.6" stroke-width="1"/>
<circle cx="2062.8" cy="436.6" r="6.4" fill="#4a98c9" fill-opacity="0.68" stroke="#3c3c3c" stroke-opacity="0.6" stroke-width="1"/>
<line x1="1797.40" y1="441.00" x2="1870.20" y2="441.00" stroke="#062a55" stroke-width="3.6" stroke-linecap="butt"/>
<polyline points="1871.00,442.80 1871.00,207.80 2100.00,222.32" fill="none" stroke="#062a55" stroke-width="6" stroke-linejoin="miter"/>
<line x1="1802.40" y1="438.20" x2="2095.00" y2="438.20" stroke="#000" stroke-width="3.6" stroke-linecap="butt" stroke-dasharray="13.7 5.9"/>
</g>
<rect x="1802.40" y="86.40" width="292.60" height="479.40" fill="none" stroke="#000" stroke-width="1.3" rx="0"/>
<text x="0" y="0" font-size="29.5" fill="#000" stroke="#000" stroke-width="0.3" transform="translate(1782.97 145.80) scale(0.9267 1)"><tspan>4</tspan></text>
<text x="0" y="0" font-size="29.5" fill="#000" stroke="#000" stroke-width="0.3" transform="translate(1782.91 223.70) scale(0.9929 1)"><tspan>3</tspan></text>
<text x="0" y="0" font-size="29.5" fill="#000" stroke="#000" stroke-width="0.3" transform="translate(1782.72 301.60) scale(0.9786 1)"><tspan>2</tspan></text>
<text x="0" y="0" font-size="29.5" fill="#000" stroke="#000" stroke-width="0.3" transform="translate(1783.80 379.50) scale(0.8000 1)"><tspan>1</tspan></text>
<line x1="1802.40" y1="448.20" x2="1808.60" y2="448.20" stroke="#000" stroke-width="1.2" stroke-linecap="butt"/>
<text x="0" y="0" font-size="29.5" fill="#000" stroke="#000" stroke-width="0.3" transform="translate(1782.72 457.40) scale(0.9786 1)"><tspan>0</tspan></text>
<line x1="1802.40" y1="526.10" x2="1808.60" y2="526.10" stroke="#000" stroke-width="1.2" stroke-linecap="butt"/>
<text x="0" y="0" font-size="29.5" fill="#000" stroke="#000" stroke-width="0.3" transform="translate(1760.66 535.30) scale(0.8784 1)"><tspan font-family="'DejaVu Sans', sans-serif">−</tspan><tspan>1</tspan></text>
<line x1="1870.20" y1="565.80" x2="1870.20" y2="559.40" stroke="#000" stroke-width="1.2" stroke-linecap="butt"/>
<text x="0" y="0" font-size="29.5" fill="#000" stroke="#000" stroke-width="0.3" transform="translate(1862.77 589.00) scale(0.9286 1)"><tspan>0</tspan></text>
<line x1="1982.55" y1="565.80" x2="1982.55" y2="559.40" stroke="#000" stroke-width="1.2" stroke-linecap="butt"/>
<text x="0" y="0" font-size="29.5" fill="#000" stroke="#000" stroke-width="0.3" transform="translate(1977.39 589.00) scale(0.5538 1)"><tspan>1</tspan></text>
<line x1="2094.90" y1="565.80" x2="2094.90" y2="559.40" stroke="#000" stroke-width="1.2" stroke-linecap="butt"/>
<text x="0" y="0" font-size="29.5" fill="#000" stroke="#000" stroke-width="0.3" transform="translate(2087.42 589.00) scale(0.9786 1)"><tspan>2</tspan></text>
<text x="0" y="0" font-size="27.6" fill="#000" stroke="#000" stroke-width="0.3" transform="translate(1861.95 618.60) scale(1.0242 1)"><tspan>Distance [nm]</tspan></text>
<text x="0" y="0" font-size="30.2" fill="#000" stroke="#000" stroke-width="0.3" transform="translate(1802.18 549.10) scale(0.9592 1)"><tspan>MoS</tspan><tspan dy="5.13" font-size="21.14">2</tspan></text>
<text x="0" y="0" font-size="30.2" fill="#000" stroke="#000" stroke-width="0.3" transform="translate(2027.39 549.10) scale(0.9542 1)"><tspan>SiO</tspan><tspan dy="5.13" font-size="21.14">2</tspan></text>
<line x1="1768.20" y1="86.00" x2="1871.00" y2="86.00" stroke="#000" stroke-width="1.6" stroke-linecap="butt"/>
<text x="0" y="0" font-size="25.5" fill="#000" stroke="#000" stroke-width="0.3" transform="translate(1803.00 110.40) scale(1.0090 1)"><tspan>vac. lev.</tspan></text>
<text x="0" y="0" font-size="29.6" fill="#000" stroke="#000" stroke-width="0.3" transform="translate(1939.70 113.60) scale(0.8987 1)"><tspan font-style="italic">V</tspan><tspan dy="5.03" font-size="20.72">G</tspan><tspan dy="-5.03"> </tspan><tspan font-family="'DejaVu Sans', sans-serif">=</tspan><tspan> 10.0 V</tspan></text>
<text x="0" y="0" font-size="29.6" fill="#7a99c2" stroke="#7a99c2" stroke-width="0.3" transform="translate(1769.89 75.20) scale(0.9060 1)"><tspan font-style="italic">E</tspan><tspan dy="5.03" font-size="20.72">T</tspan><tspan dy="-5.03"> </tspan><tspan font-family="'DejaVu Sans', sans-serif">−</tspan><tspan> </tspan><tspan font-style="italic">E</tspan><tspan dy="5.03" font-size="20.72">C</tspan><tspan dy="-5.03"> </tspan><tspan font-family="'DejaVu Sans', sans-serif">=</tspan><tspan> 0.25 eV</tspan></text>
<line x1="1769.00" y1="50.80" x2="1800.40" y2="50.80" stroke="#7a99c2" stroke-width="1.4" stroke-linecap="butt"/>
<text x="0" y="0" font-size="29.3" fill="#000" stroke="#000" stroke-width="0.3" transform="translate(1807.87 487.50) scale(0.9425 1)"><tspan font-family="'DejaVu Sans', sans-serif">−</tspan><tspan>82 meV</tspan></text>
<line x1="1842.00" y1="425.60" x2="1842.00" y2="452.00" stroke="#000" stroke-width="2.0" stroke-linecap="butt"/>
<polygon points="1842.00,460.50 1836.30,449.80 1847.70,449.80" fill="#000"/>
<linearGradient id="cbg2" x1="0" y1="0" x2="0" y2="1"><stop offset="0.00" stop-color="#083c7d"/><stop offset="0.10" stop-color="#0b559f"/><stop offset="0.20" stop-color="#1e6db2"/><stop offset="0.30" stop-color="#3686c0"/><stop offset="0.40" stop-color="#529dcc"/><stop offset="0.50" stop-color="#71b1d7"/><stop offset="0.60" stop-color="#97c6df"/><stop offset="0.70" stop-color="#b7d4ea"/><stop offset="0.80" stop-color="#cfe1f2"/><stop offset="0.90" stop-color="#e1edf8"/><stop offset="1.00" stop-color="#f3f8fe"/></linearGradient>
<rect x="2053.50" y="229.90" width="10.00" height="62.60" fill="url(#cbg2)" stroke="#000" stroke-width="1.1" rx="0"/>
<line x1="2063.50" y1="229.90" x2="2066.30" y2="229.90" stroke="#000" stroke-width="1.1" stroke-linecap="butt"/>
<line x1="2063.50" y1="292.50" x2="2066.30" y2="292.50" stroke="#000" stroke-width="1.1" stroke-linecap="butt"/>
<line x1="2072.40" y1="232.80" x2="2089.80" y2="232.80" stroke="#000" stroke-width="1.5" stroke-linecap="butt"/>
<text x="0" y="0" font-size="30.0" fill="#000" stroke="#000" stroke-width="0.3" transform="translate(2070.45 301.50) scale(0.8533 1)"><tspan>0</tspan></text>
<text x="0" y="0" font-size="40" fill="#000" font-weight="bold" transform="translate(1301.77 30.70) scale(1.0158 1)"><tspan>c</tspan></text>
</svg>
</body></html>
